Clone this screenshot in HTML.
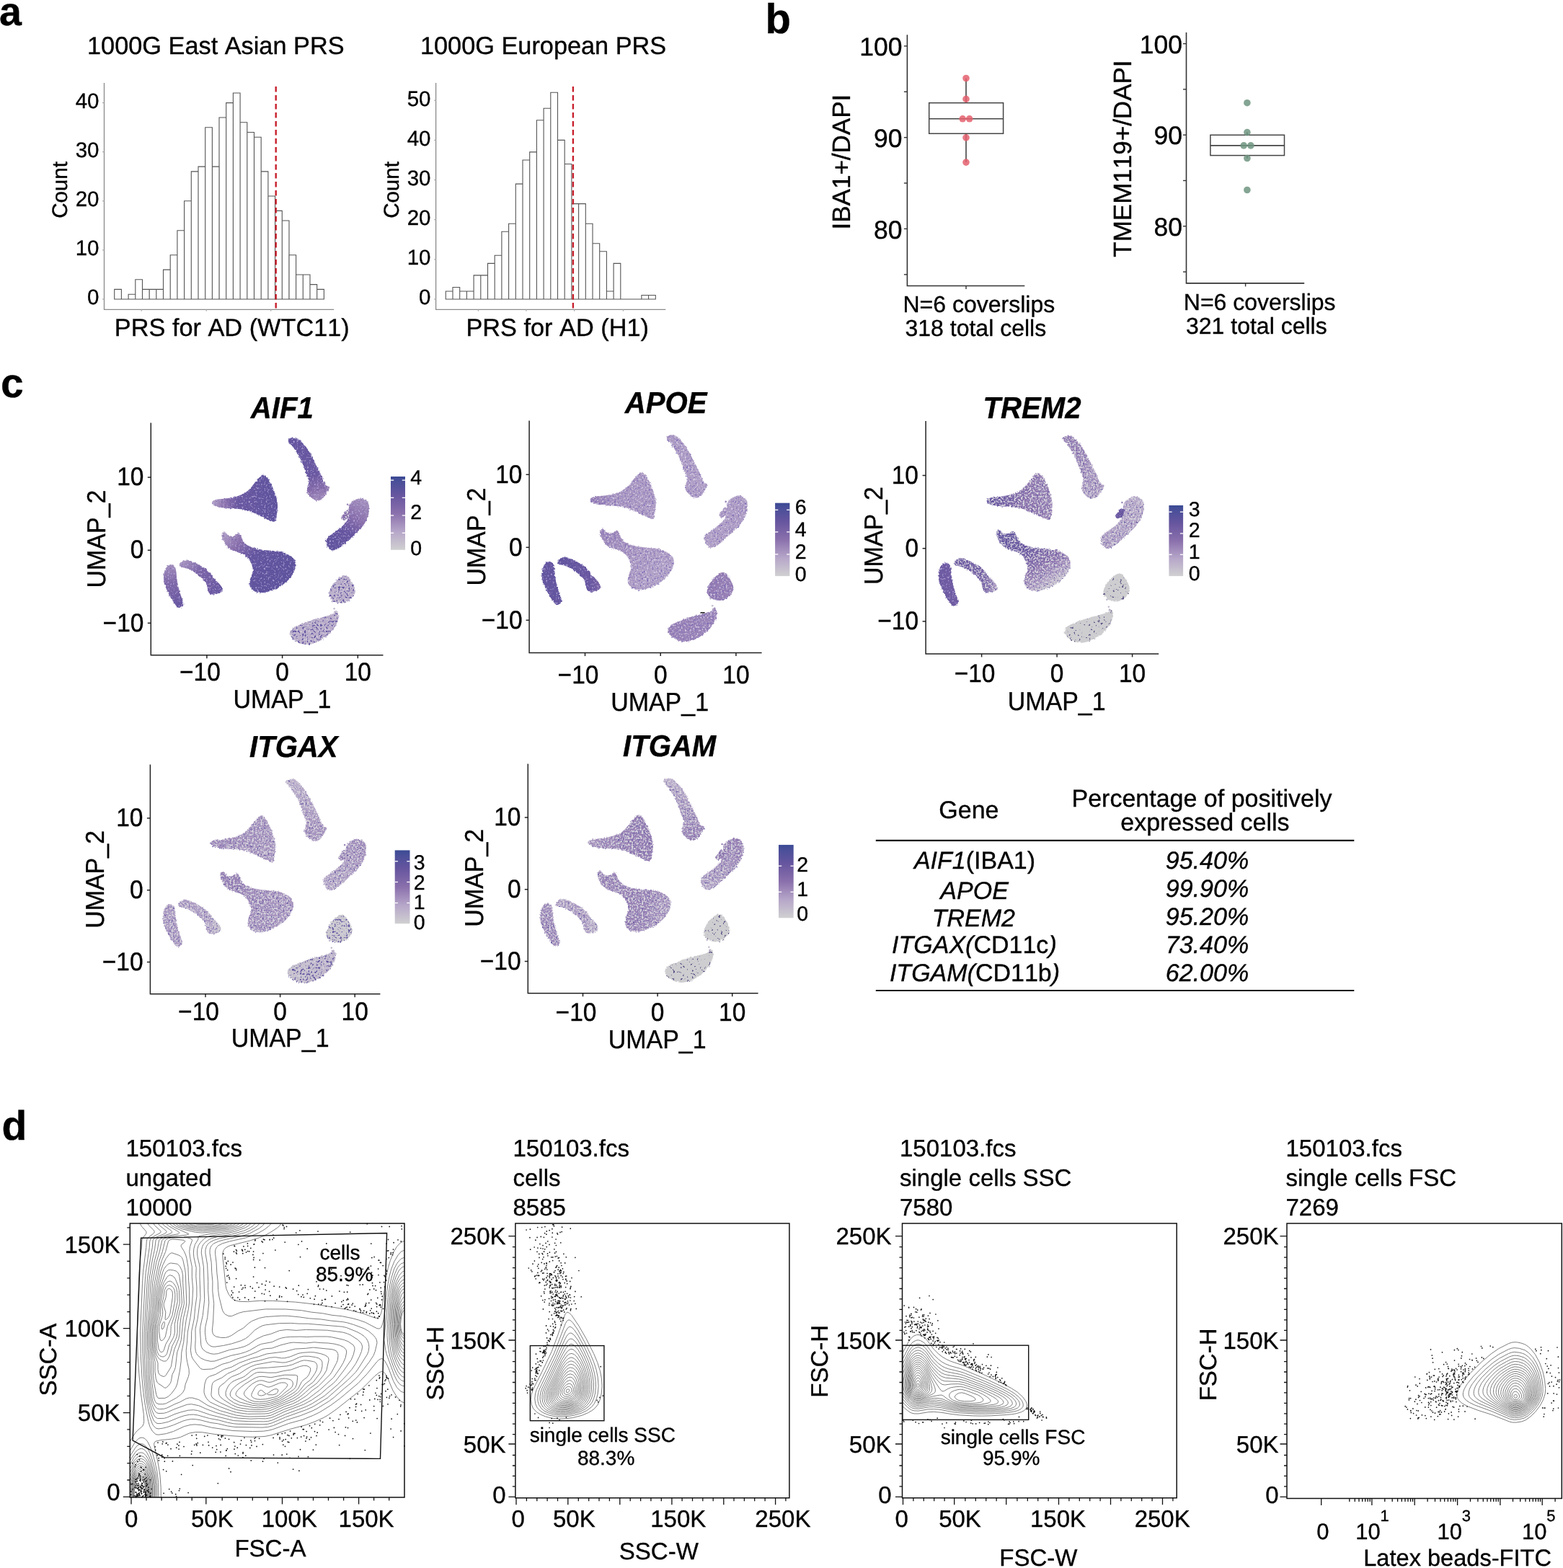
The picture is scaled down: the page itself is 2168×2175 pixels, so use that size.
<!DOCTYPE html>
<html lang="en"><head><meta charset="utf-8"><title>Figure</title>
<style>html,body{margin:0;padding:0;background:#fff}svg{display:block}text{font-family:"Liberation Sans", sans-serif;font-kerning:none;text-rendering:geometricPrecision;stroke:#000;stroke-width:.35px}</style>
</head><body>
<svg width="2168" height="2175" viewBox="0 0 2168 2175">
<defs><filter id="txD" x="-15%" y="-15%" width="130%" height="130%" color-interpolation-filters="sRGB"><feTurbulence type="fractalNoise" baseFrequency="0.42" numOctaves="2" seed="3" result="n"/><feDisplacementMap in="SourceGraphic" in2="n" scale="3.6" xChannelSelector="R" yChannelSelector="G" result="d"/><feColorMatrix in="n" type="matrix" values="0 0 0 0 0.72  0 0 0 0 0.67  0 0 0 0 0.86  0 0 4.0 0 -2.25" result="w"/><feComposite in="w" in2="d" operator="in" result="wi"/><feColorMatrix in="n" type="matrix" values="0 0 0 0 0.38  0 0 0 0 0.33  0 0 0 0 0.63  0 -3.0 0 0 1.15" result="k"/><feComposite in="k" in2="d" operator="in" result="ki"/><feMerge><feMergeNode in="d"/><feMergeNode in="wi"/><feMergeNode in="ki"/></feMerge></filter><filter id="txM" x="-15%" y="-15%" width="130%" height="130%" color-interpolation-filters="sRGB"><feTurbulence type="fractalNoise" baseFrequency="0.42" numOctaves="2" seed="5" result="n"/><feDisplacementMap in="SourceGraphic" in2="n" scale="3.6" xChannelSelector="R" yChannelSelector="G" result="d"/><feColorMatrix in="n" type="matrix" values="0 0 0 0 0.83  0 0 0 0 0.82  0 0 0 0 0.86  0 0 6.0 0 -2.75" result="w"/><feComposite in="w" in2="d" operator="in" result="wi"/><feColorMatrix in="n" type="matrix" values="0 0 0 0 0.38  0 0 0 0 0.33  0 0 0 0 0.63  0 -5.0 0 0 2.0" result="k"/><feComposite in="k" in2="d" operator="in" result="ki"/><feMerge><feMergeNode in="d"/><feMergeNode in="wi"/><feMergeNode in="ki"/></feMerge></filter><filter id="txL" x="-15%" y="-15%" width="130%" height="130%" color-interpolation-filters="sRGB"><feTurbulence type="fractalNoise" baseFrequency="0.42" numOctaves="2" seed="7" result="n"/><feDisplacementMap in="SourceGraphic" in2="n" scale="3.6" xChannelSelector="R" yChannelSelector="G" result="d"/><feColorMatrix in="n" type="matrix" values="0 0 0 0 0.86  0 0 0 0 0.84  0 0 0 0 0.92  0 0 4.0 0 -2.1" result="w"/><feComposite in="w" in2="d" operator="in" result="wi"/><feColorMatrix in="n" type="matrix" values="0 0 0 0 0.5  0 0 0 0 0.43  0 0 0 0 0.72  0 -5.0 0 0 2.2" result="k"/><feComposite in="k" in2="d" operator="in" result="ki"/><feMerge><feMergeNode in="d"/><feMergeNode in="wi"/><feMergeNode in="ki"/></feMerge></filter><filter id="txG" x="-15%" y="-15%" width="130%" height="130%" color-interpolation-filters="sRGB"><feTurbulence type="fractalNoise" baseFrequency="0.3" numOctaves="2" seed="8" result="n"/><feDisplacementMap in="SourceGraphic" in2="n" scale="3.6" xChannelSelector="R" yChannelSelector="G" result="d"/><feColorMatrix in="n" type="matrix" values="0 0 0 0 0.86  0 0 0 0 0.84  0 0 0 0 0.92  0 0 0 0 -1" result="w"/><feComposite in="w" in2="d" operator="in" result="wi"/><feColorMatrix in="n" type="matrix" values="0 0 0 0 0.35  0 0 0 0 0.33  0 0 0 0 0.52  0 -12.0 0 0 4.3" result="k"/><feComposite in="k" in2="d" operator="in" result="ki"/><feMerge><feMergeNode in="d"/><feMergeNode in="wi"/><feMergeNode in="ki"/></feMerge></filter><filter id="txH" x="-15%" y="-15%" width="130%" height="130%" color-interpolation-filters="sRGB"><feTurbulence type="fractalNoise" baseFrequency="0.36" numOctaves="2" seed="11" result="n"/><feDisplacementMap in="SourceGraphic" in2="n" scale="3.6" xChannelSelector="R" yChannelSelector="G" result="d"/><feColorMatrix in="n" type="matrix" values="0 0 0 0 0.83  0 0 0 0 0.82  0 0 0 0 0.86  0 0 4.0 0 -2.0" result="w"/><feComposite in="w" in2="d" operator="in" result="wi"/><feColorMatrix in="n" type="matrix" values="0 0 0 0 0.38  0 0 0 0 0.33  0 0 0 0 0.63  0 -8.0 0 0 3.5" result="k"/><feComposite in="k" in2="d" operator="in" result="ki"/><feMerge><feMergeNode in="d"/><feMergeNode in="wi"/><feMergeNode in="ki"/></feMerge></filter><linearGradient id="g1" gradientUnits="userSpaceOnUse" x1="417.7" y1="608.2" x2="439.6" y2="693.3"><stop offset="0" stop-color="#64559f"/><stop offset="0.6" stop-color="#6a58a1"/><stop offset="0.85" stop-color="#8a70ac"/><stop offset="1" stop-color="#a38ebc"/></linearGradient><linearGradient id="g2" gradientUnits="userSpaceOnUse" x1="295.3" y1="691.3" x2="383.9" y2="691.3"><stop offset="0" stop-color="#b1a0c6"/><stop offset="0.18" stop-color="#8e74ae"/><stop offset="0.4" stop-color="#6a58a1"/><stop offset="1" stop-color="#5e539d"/></linearGradient><linearGradient id="g3" gradientUnits="userSpaceOnUse" x1="505.3" y1="692.6" x2="459.1" y2="762.2"><stop offset="0" stop-color="#a693bf"/><stop offset="0.35" stop-color="#8a70ac"/><stop offset="0.6" stop-color="#6756a0"/><stop offset="1" stop-color="#61549e"/></linearGradient><linearGradient id="g4" gradientUnits="userSpaceOnUse" x1="309.1" y1="738.9" x2="388.9" y2="805.0"><stop offset="0" stop-color="#b1a0c6"/><stop offset="0.25" stop-color="#8a70ac"/><stop offset="0.5" stop-color="#64559f"/><stop offset="1" stop-color="#5e539d"/></linearGradient><linearGradient id="g5" gradientUnits="userSpaceOnUse" x1="235.7" y1="783.9" x2="243.1" y2="841.8"><stop offset="0" stop-color="#a38ebc"/><stop offset="0.4" stop-color="#816aa9"/><stop offset="1" stop-color="#6756a0"/></linearGradient><linearGradient id="g6" gradientUnits="userSpaceOnUse" x1="250.3" y1="777.7" x2="307.2" y2="823.6"><stop offset="0" stop-color="#ad9bc3"/><stop offset="0.4" stop-color="#7c65a7"/><stop offset="1" stop-color="#6756a0"/></linearGradient><linearGradient id="g7" gradientUnits="userSpaceOnUse" x1="474.0" y1="714.5" x2="483.9" y2="714.5"><stop offset="0" stop-color="#8a70ac"/><stop offset="1" stop-color="#8a70ac"/></linearGradient><linearGradient id="g8" gradientUnits="userSpaceOnUse" x1="457.4" y1="817.3" x2="491.6" y2="817.3"><stop offset="0" stop-color="#bbaecb"/><stop offset="1" stop-color="#bbaecb"/></linearGradient><linearGradient id="g9" gradientUnits="userSpaceOnUse" x1="403.0" y1="870.4" x2="468.3" y2="870.4"><stop offset="0" stop-color="#bbaecb"/><stop offset="1" stop-color="#b9abca"/></linearGradient><linearGradient id="g10" x1="0" y1="0" x2="0" y2="1"><stop offset="0.00" stop-color="#3a4a94"/><stop offset="0.07" stop-color="#4a4f99"/><stop offset="0.25" stop-color="#66559f"/><stop offset="0.50" stop-color="#8a70ac"/><stop offset="0.75" stop-color="#b6a6c9"/><stop offset="1.00" stop-color="#d0d0d1"/></linearGradient><linearGradient id="g11" gradientUnits="userSpaceOnUse" x1="925.8" y1="647.0" x2="980.6" y2="647.0"><stop offset="0" stop-color="#ad9bc3"/><stop offset="1" stop-color="#b1a0c6"/></linearGradient><linearGradient id="g12" gradientUnits="userSpaceOnUse" x1="819.9" y1="687.5" x2="908.5" y2="687.5"><stop offset="0" stop-color="#9179b1"/><stop offset="0.3" stop-color="#a895c0"/><stop offset="1" stop-color="#ad9bc3"/></linearGradient><linearGradient id="g13" gradientUnits="userSpaceOnUse" x1="977.9" y1="723.5" x2="1035.6" y2="723.5"><stop offset="0" stop-color="#b1a0c6"/><stop offset="1" stop-color="#ad9bc3"/></linearGradient><linearGradient id="g14" gradientUnits="userSpaceOnUse" x1="833.7" y1="735.0" x2="913.5" y2="801.0"><stop offset="0" stop-color="#9c86b8"/><stop offset="0.5" stop-color="#aa97c1"/><stop offset="1" stop-color="#b2a2c7"/></linearGradient><linearGradient id="g15" gradientUnits="userSpaceOnUse" x1="752.8" y1="808.9" x2="777.6" y2="808.9"><stop offset="0" stop-color="#64559f"/><stop offset="1" stop-color="#64559f"/></linearGradient><linearGradient id="g16" gradientUnits="userSpaceOnUse" x1="774.9" y1="796.7" x2="831.8" y2="796.7"><stop offset="0" stop-color="#61549e"/><stop offset="0.8" stop-color="#6a58a1"/><stop offset="1" stop-color="#7c65a7"/></linearGradient><linearGradient id="g17" gradientUnits="userSpaceOnUse" x1="998.6" y1="710.7" x2="1008.5" y2="710.7"><stop offset="0" stop-color="#ad9bc3"/><stop offset="1" stop-color="#ad9bc3"/></linearGradient><linearGradient id="g18" gradientUnits="userSpaceOnUse" x1="982.0" y1="813.3" x2="1016.2" y2="813.3"><stop offset="0" stop-color="#9179b1"/><stop offset="1" stop-color="#9881b5"/></linearGradient><linearGradient id="g19" gradientUnits="userSpaceOnUse" x1="927.6" y1="866.4" x2="992.9" y2="866.4"><stop offset="0" stop-color="#9881b5"/><stop offset="1" stop-color="#9c86b8"/></linearGradient><linearGradient id="g20" x1="0" y1="0" x2="0" y2="1"><stop offset="0.00" stop-color="#3a4a94"/><stop offset="0.07" stop-color="#4a4f99"/><stop offset="0.25" stop-color="#66559f"/><stop offset="0.50" stop-color="#8a70ac"/><stop offset="0.75" stop-color="#b6a6c9"/><stop offset="1.00" stop-color="#d0d0d1"/></linearGradient><linearGradient id="g21" gradientUnits="userSpaceOnUse" x1="1492.1" y1="605.6" x2="1514.0" y2="690.8"><stop offset="0" stop-color="#957db3"/><stop offset="1" stop-color="#ad9bc3"/></linearGradient><linearGradient id="g22" gradientUnits="userSpaceOnUse" x1="1370.0" y1="688.7" x2="1458.5" y2="688.7"><stop offset="0" stop-color="#6756a0"/><stop offset="0.3" stop-color="#735fa4"/><stop offset="0.55" stop-color="#8a70ac"/><stop offset="1" stop-color="#9881b5"/></linearGradient><linearGradient id="g23" gradientUnits="userSpaceOnUse" x1="1579.6" y1="690.1" x2="1533.5" y2="759.7"><stop offset="0" stop-color="#b7a8c9"/><stop offset="1" stop-color="#ad9bc3"/></linearGradient><linearGradient id="g24" gradientUnits="userSpaceOnUse" x1="1393.7" y1="736.4" x2="1443.5" y2="819.1"><stop offset="0" stop-color="#64559f"/><stop offset="0.4" stop-color="#6d5aa2"/><stop offset="0.7" stop-color="#8e74ae"/><stop offset="0.9" stop-color="#ad9bc3"/><stop offset="1" stop-color="#c4bccd"/></linearGradient><linearGradient id="g25" gradientUnits="userSpaceOnUse" x1="1303.1" y1="810.4" x2="1327.7" y2="810.4"><stop offset="0" stop-color="#6d5aa2"/><stop offset="1" stop-color="#705da3"/></linearGradient><linearGradient id="g26" gradientUnits="userSpaceOnUse" x1="1325.1" y1="798.2" x2="1381.8" y2="798.2"><stop offset="0" stop-color="#6d5aa2"/><stop offset="0.7" stop-color="#7661a5"/><stop offset="1" stop-color="#ad9bc3"/></linearGradient><linearGradient id="g27" gradientUnits="userSpaceOnUse" x1="1548.3" y1="712.0" x2="1558.2" y2="712.0"><stop offset="0" stop-color="#6a58a1"/><stop offset="1" stop-color="#6a58a1"/></linearGradient><linearGradient id="g28" gradientUnits="userSpaceOnUse" x1="1531.8" y1="814.8" x2="1565.9" y2="814.8"><stop offset="0" stop-color="#cecdd0"/><stop offset="1" stop-color="#cecdd0"/></linearGradient><linearGradient id="g29" gradientUnits="userSpaceOnUse" x1="1477.5" y1="868.0" x2="1542.7" y2="868.0"><stop offset="0" stop-color="#cecdd0"/><stop offset="1" stop-color="#cecdd0"/></linearGradient><linearGradient id="g30" x1="0" y1="0" x2="0" y2="1"><stop offset="0.00" stop-color="#3a4a94"/><stop offset="0.07" stop-color="#4a4f99"/><stop offset="0.25" stop-color="#66559f"/><stop offset="0.50" stop-color="#8a70ac"/><stop offset="0.75" stop-color="#b6a6c9"/><stop offset="1.00" stop-color="#d0d0d1"/></linearGradient><linearGradient id="g31" gradientUnits="userSpaceOnUse" x1="414.4" y1="1081.7" x2="436.0" y2="1165.7"><stop offset="0" stop-color="#bbaecb"/><stop offset="1" stop-color="#a38ebc"/></linearGradient><linearGradient id="g32" gradientUnits="userSpaceOnUse" x1="293.3" y1="1163.7" x2="381.0" y2="1163.7"><stop offset="0" stop-color="#9c86b8"/><stop offset="1" stop-color="#aa97c1"/></linearGradient><linearGradient id="g33" gradientUnits="userSpaceOnUse" x1="501.1" y1="1165.0" x2="455.4" y2="1233.7"><stop offset="0" stop-color="#a38ebc"/><stop offset="1" stop-color="#b7a8c9"/></linearGradient><linearGradient id="g34" gradientUnits="userSpaceOnUse" x1="307.0" y1="1210.7" x2="385.9" y2="1275.9"><stop offset="0" stop-color="#957db3"/><stop offset="1" stop-color="#aa97c1"/></linearGradient><linearGradient id="g35" gradientUnits="userSpaceOnUse" x1="227.0" y1="1283.7" x2="251.4" y2="1283.7"><stop offset="0" stop-color="#ad9bc3"/><stop offset="1" stop-color="#aa97c1"/></linearGradient><linearGradient id="g36" gradientUnits="userSpaceOnUse" x1="248.8" y1="1271.7" x2="305.0" y2="1271.7"><stop offset="0" stop-color="#aa97c1"/><stop offset="0.7" stop-color="#b1a0c6"/><stop offset="1" stop-color="#c6bfce"/></linearGradient><linearGradient id="g37" gradientUnits="userSpaceOnUse" x1="470.1" y1="1186.6" x2="479.9" y2="1186.6"><stop offset="0" stop-color="#9c86b8"/><stop offset="1" stop-color="#9c86b8"/></linearGradient><linearGradient id="g38" gradientUnits="userSpaceOnUse" x1="453.7" y1="1288.1" x2="487.6" y2="1288.1"><stop offset="0" stop-color="#cbc8cf"/><stop offset="1" stop-color="#cbc8cf"/></linearGradient><linearGradient id="g39" gradientUnits="userSpaceOnUse" x1="399.9" y1="1340.5" x2="464.5" y2="1340.5"><stop offset="0" stop-color="#c8c3ce"/><stop offset="1" stop-color="#bfb5cc"/></linearGradient><linearGradient id="g40" x1="0" y1="0" x2="0" y2="1"><stop offset="0.00" stop-color="#3a4a94"/><stop offset="0.07" stop-color="#4a4f99"/><stop offset="0.25" stop-color="#66559f"/><stop offset="0.50" stop-color="#8a70ac"/><stop offset="0.75" stop-color="#b6a6c9"/><stop offset="1.00" stop-color="#d0d0d1"/></linearGradient><linearGradient id="g41" gradientUnits="userSpaceOnUse" x1="937.9" y1="1080.7" x2="959.5" y2="1164.7"><stop offset="0" stop-color="#bbaecb"/><stop offset="1" stop-color="#9881b5"/></linearGradient><linearGradient id="g42" gradientUnits="userSpaceOnUse" x1="816.8" y1="1162.7" x2="904.5" y2="1162.7"><stop offset="0" stop-color="#a38ebc"/><stop offset="1" stop-color="#9179b1"/></linearGradient><linearGradient id="g43" gradientUnits="userSpaceOnUse" x1="1024.6" y1="1164.0" x2="978.9" y2="1232.7"><stop offset="0" stop-color="#957db3"/><stop offset="1" stop-color="#b4a4c8"/></linearGradient><linearGradient id="g44" gradientUnits="userSpaceOnUse" x1="830.5" y1="1234.2" x2="929.2" y2="1258.6"><stop offset="0" stop-color="#9c86b8"/><stop offset="0.6" stop-color="#9881b5"/><stop offset="1" stop-color="#ad9bc3"/></linearGradient><linearGradient id="g45" gradientUnits="userSpaceOnUse" x1="750.5" y1="1282.7" x2="774.9" y2="1282.7"><stop offset="0" stop-color="#9f8aba"/><stop offset="1" stop-color="#a38ebc"/></linearGradient><linearGradient id="g46" gradientUnits="userSpaceOnUse" x1="772.3" y1="1270.7" x2="828.5" y2="1270.7"><stop offset="0" stop-color="#ad9bc3"/><stop offset="0.7" stop-color="#ad9bc3"/><stop offset="1" stop-color="#c1b8cd"/></linearGradient><linearGradient id="g47" gradientUnits="userSpaceOnUse" x1="993.6" y1="1185.6" x2="1003.4" y2="1185.6"><stop offset="0" stop-color="#937bb2"/><stop offset="1" stop-color="#937bb2"/></linearGradient><linearGradient id="g48" gradientUnits="userSpaceOnUse" x1="977.2" y1="1287.1" x2="1011.1" y2="1287.1"><stop offset="0" stop-color="#cecdd0"/><stop offset="1" stop-color="#cecdd0"/></linearGradient><linearGradient id="g49" gradientUnits="userSpaceOnUse" x1="923.4" y1="1339.5" x2="988.0" y2="1339.5"><stop offset="0" stop-color="#cecdd0"/><stop offset="1" stop-color="#cecdd0"/></linearGradient><linearGradient id="g50" x1="0" y1="0" x2="0" y2="1"><stop offset="0.00" stop-color="#3a4a94"/><stop offset="0.07" stop-color="#4a4f99"/><stop offset="0.25" stop-color="#66559f"/><stop offset="0.50" stop-color="#8a70ac"/><stop offset="0.75" stop-color="#b6a6c9"/><stop offset="1.00" stop-color="#d0d0d1"/></linearGradient></defs>
<rect width="2168" height="2175" fill="#fff"/>
<text x="-1.0" y="35.0" font-size="55.5" font-weight="bold">a</text>
<path d="M158.7 415.0v-13.6h9.69v13.6zM168.4 415.0h9.69M178.1 415.0v-6.8h9.69v6.8zM187.8 415.0v-27.2h9.69v27.2zM197.5 415.0v-13.6h9.69v13.6zM207.1 415.0v-13.6h9.69v13.6zM216.8 415.0v-13.6h9.69v13.6zM226.5 415.0v-40.9h9.69v40.9zM236.2 415.0v-61.3h9.69v61.3zM245.9 415.0v-95.3h9.69v95.3zM255.6 415.0v-136.2h9.69v136.2zM265.3 415.0v-177.1h9.69v177.1zM275.0 415.0v-183.9h9.69v183.9zM284.7 415.0v-238.3h9.69v238.3zM294.4 415.0v-183.9h9.69v183.9zM304.0 415.0v-252.0h9.69v252.0zM313.7 415.0v-272.4h9.69v272.4zM323.4 415.0v-286.0h9.69v286.0zM333.1 415.0v-245.2h9.69v245.2zM342.8 415.0v-231.5h9.69v231.5zM352.5 415.0v-224.7h9.69v224.7zM362.2 415.0v-177.1h9.69v177.1zM371.9 415.0v-143.0h9.69v143.0zM381.6 415.0v-122.6h9.69v122.6zM391.3 415.0v-109.0h9.69v109.0zM400.9 415.0v-61.3h9.69v61.3zM410.6 415.0v-34.0h9.69v34.0zM420.3 415.0v-34.0h9.69v34.0zM430.0 415.0v-20.4h9.69v20.4zM439.7 415.0v-13.6h9.69v13.6z" stroke="#555" stroke-width="1.1" fill="none"/>
<path d="M144.5 115.0V429.3H463.2" stroke="#8a8a8a" stroke-width="1.3" fill="none"/>
<line x1="142.0" y1="415.0" x2="144.5" y2="415.0" stroke="#aaa" stroke-width="1.2"/>
<text x="137.5" y="422.4" font-size="29.5" text-anchor="end">0</text>
<line x1="142.0" y1="346.9" x2="144.5" y2="346.9" stroke="#aaa" stroke-width="1.2"/>
<text x="137.5" y="354.3" font-size="29.5" text-anchor="end">10</text>
<line x1="142.0" y1="278.8" x2="144.5" y2="278.8" stroke="#aaa" stroke-width="1.2"/>
<text x="137.5" y="286.2" font-size="29.5" text-anchor="end">20</text>
<line x1="142.0" y1="210.7" x2="144.5" y2="210.7" stroke="#aaa" stroke-width="1.2"/>
<text x="137.5" y="218.1" font-size="29.5" text-anchor="end">30</text>
<line x1="142.0" y1="142.6" x2="144.5" y2="142.6" stroke="#aaa" stroke-width="1.2"/>
<text x="137.5" y="150.0" font-size="29.5" text-anchor="end">40</text>
<line x1="196.2" y1="429.3" x2="196.2" y2="431.8" stroke="#aaa" stroke-width="1.2"/>
<line x1="286.2" y1="429.3" x2="286.2" y2="431.8" stroke="#aaa" stroke-width="1.2"/>
<line x1="375.7" y1="429.3" x2="375.7" y2="431.8" stroke="#aaa" stroke-width="1.2"/>
<line x1="382.7" y1="120.0" x2="382.7" y2="429.3" stroke="#c8202c" stroke-width="2.4" stroke-dasharray="7.5 4.5"/>
<text x="299.3" y="75.0" font-size="34.3" text-anchor="middle">1000G East Asian PRS</text>
<text x="321.8" y="465.8" font-size="34.3" text-anchor="middle">PRS for AD (WTC11)</text>
<text transform="translate(93.3 263.5) rotate(-90)" font-size="29.5" text-anchor="middle">Count</text>
<path d="M618.3 415.0v-11.0h9.70v11.0zM628.0 415.0v-16.5h9.70v16.5zM637.7 415.0v-11.0h9.70v11.0zM647.4 415.0v-11.0h9.70v11.0zM657.1 415.0v-33.1h9.70v33.1zM666.8 415.0v-33.1h9.70v33.1zM676.5 415.0v-49.6h9.70v49.6zM686.2 415.0v-60.7h9.70v60.7zM695.9 415.0v-93.8h9.70v93.8zM705.6 415.0v-104.8h9.70v104.8zM715.3 415.0v-159.9h9.70v159.9zM725.0 415.0v-193.0h9.70v193.0zM734.7 415.0v-204.1h9.70v204.1zM744.4 415.0v-248.2h9.70v248.2zM754.1 415.0v-264.7h9.70v264.7zM763.8 415.0v-286.8h9.70v286.8zM773.5 415.0v-220.6h9.70v220.6zM783.2 415.0v-187.5h9.70v187.5zM792.9 415.0v-132.4h9.70v132.4zM802.6 415.0v-132.4h9.70v132.4zM812.3 415.0v-104.8h9.70v104.8zM822.0 415.0v-77.2h9.70v77.2zM831.7 415.0v-66.2h9.70v66.2zM841.4 415.0v-11.0h9.70v11.0zM851.1 415.0v-49.6h9.70v49.6zM860.8 415.0h9.70M870.5 415.0h9.70M880.2 415.0h9.70M889.9 415.0v-5.5h9.70v5.5zM899.6 415.0v-5.5h9.70v5.5z" stroke="#555" stroke-width="1.1" fill="none"/>
<path d="M604.6 115.0V429.3H923.3" stroke="#8a8a8a" stroke-width="1.3" fill="none"/>
<line x1="602.1" y1="415.0" x2="604.6" y2="415.0" stroke="#aaa" stroke-width="1.2"/>
<text x="597.5" y="422.4" font-size="29.5" text-anchor="end">0</text>
<line x1="602.1" y1="359.9" x2="604.6" y2="359.9" stroke="#aaa" stroke-width="1.2"/>
<text x="597.5" y="367.2" font-size="29.5" text-anchor="end">10</text>
<line x1="602.1" y1="304.7" x2="604.6" y2="304.7" stroke="#aaa" stroke-width="1.2"/>
<text x="597.5" y="312.1" font-size="29.5" text-anchor="end">20</text>
<line x1="602.1" y1="249.6" x2="604.6" y2="249.6" stroke="#aaa" stroke-width="1.2"/>
<text x="597.5" y="256.9" font-size="29.5" text-anchor="end">30</text>
<line x1="602.1" y1="194.4" x2="604.6" y2="194.4" stroke="#aaa" stroke-width="1.2"/>
<text x="597.5" y="201.8" font-size="29.5" text-anchor="end">40</text>
<line x1="602.1" y1="139.2" x2="604.6" y2="139.2" stroke="#aaa" stroke-width="1.2"/>
<text x="597.5" y="146.7" font-size="29.5" text-anchor="end">50</text>
<line x1="663.4" y1="429.3" x2="663.4" y2="431.8" stroke="#aaa" stroke-width="1.2"/>
<line x1="729.9" y1="429.3" x2="729.9" y2="431.8" stroke="#aaa" stroke-width="1.2"/>
<line x1="796.6" y1="429.3" x2="796.6" y2="431.8" stroke="#aaa" stroke-width="1.2"/>
<line x1="864.4" y1="429.3" x2="864.4" y2="431.8" stroke="#aaa" stroke-width="1.2"/>
<line x1="794.9" y1="120.0" x2="794.9" y2="429.3" stroke="#c8202c" stroke-width="2.4" stroke-dasharray="7.5 4.5"/>
<text x="753.6" y="75.0" font-size="34.3" text-anchor="middle">1000G European PRS</text>
<text x="773.2" y="465.8" font-size="34.3" text-anchor="middle">PRS for AD (H1)</text>
<text transform="translate(553.3 263.5) rotate(-90)" font-size="29.5" text-anchor="middle">Count</text>
<text x="1061.5" y="46.3" font-size="58" font-weight="bold">b</text>
<path d="M1258.4 48.2V396.5H1421.3" stroke="#333" stroke-width="1.6" fill="none"/>
<line x1="1253.9" y1="63.9" x2="1258.4" y2="63.9" stroke="#333" stroke-width="1.4"/>
<text x="1251.5" y="77.1" font-size="35.5" text-anchor="end">100</text>
<line x1="1253.9" y1="127.3" x2="1258.4" y2="127.3" stroke="#333" stroke-width="1.4"/>
<line x1="1253.9" y1="190.7" x2="1258.4" y2="190.7" stroke="#333" stroke-width="1.4"/>
<text x="1251.5" y="203.9" font-size="35.5" text-anchor="end">90</text>
<line x1="1253.9" y1="254.0" x2="1258.4" y2="254.0" stroke="#333" stroke-width="1.4"/>
<line x1="1253.9" y1="317.4" x2="1258.4" y2="317.4" stroke="#333" stroke-width="1.4"/>
<text x="1251.5" y="330.6" font-size="35.5" text-anchor="end">80</text>
<line x1="1253.9" y1="380.8" x2="1258.4" y2="380.8" stroke="#333" stroke-width="1.4"/>
<line x1="1340.0" y1="396.5" x2="1340.0" y2="401.0" stroke="#333" stroke-width="1.4"/>
<line x1="1340.0" y1="108.5" x2="1340.0" y2="225.1" stroke="#444" stroke-width="1.6"/>
<rect x="1288.7" y="142.7" width="102.9" height="42.6" fill="#fff" stroke="#444" stroke-width="1.5"/>
<line x1="1288.7" y1="164.8" x2="1391.6" y2="164.8" stroke="#444" stroke-width="1.6"/>
<circle cx="1340.0" cy="108.5" r="4.8" fill="#e4606d" fill-opacity="0.85"/>
<circle cx="1340.0" cy="137.4" r="4.8" fill="#e4606d" fill-opacity="0.85"/>
<circle cx="1335.2" cy="164.8" r="4.8" fill="#e4606d" fill-opacity="0.85"/>
<circle cx="1344.7" cy="164.8" r="4.8" fill="#e4606d" fill-opacity="0.85"/>
<circle cx="1340.0" cy="190.9" r="4.8" fill="#e4606d" fill-opacity="0.85"/>
<circle cx="1340.0" cy="225.1" r="4.8" fill="#e4606d" fill-opacity="0.85"/>
<text transform="translate(1179.3 224.6) rotate(-90)" font-size="35" text-anchor="middle">IBA1+/DAPI</text>
<text x="1252.5" y="433.3" font-size="32">N=6 coverslips</text>
<text x="1255.5" y="466.3" font-size="32">318 total cells</text>
<path d="M1645.5 44.9V392.9H1809.2" stroke="#333" stroke-width="1.6" fill="none"/>
<line x1="1641.0" y1="60.6" x2="1645.5" y2="60.6" stroke="#333" stroke-width="1.4"/>
<text x="1640.0" y="73.8" font-size="35.5" text-anchor="end">100</text>
<line x1="1641.0" y1="123.9" x2="1645.5" y2="123.9" stroke="#333" stroke-width="1.4"/>
<line x1="1641.0" y1="187.2" x2="1645.5" y2="187.2" stroke="#333" stroke-width="1.4"/>
<text x="1640.0" y="200.4" font-size="35.5" text-anchor="end">90</text>
<line x1="1641.0" y1="250.5" x2="1645.5" y2="250.5" stroke="#333" stroke-width="1.4"/>
<line x1="1641.0" y1="313.8" x2="1645.5" y2="313.8" stroke="#333" stroke-width="1.4"/>
<text x="1640.0" y="327.0" font-size="35.5" text-anchor="end">80</text>
<line x1="1641.0" y1="377.1" x2="1645.5" y2="377.1" stroke="#333" stroke-width="1.4"/>
<line x1="1727.6" y1="392.9" x2="1727.6" y2="397.4" stroke="#333" stroke-width="1.4"/>
<line x1="1729.9" y1="183.6" x2="1729.9" y2="219.5" stroke="#444" stroke-width="1.6"/>
<rect x="1678.9" y="187.3" width="102.6" height="28.3" fill="#fff" stroke="#444" stroke-width="1.5"/>
<line x1="1678.9" y1="201.9" x2="1781.5" y2="201.9" stroke="#444" stroke-width="1.6"/>
<circle cx="1729.9" cy="142.7" r="4.8" fill="#6f9580" fill-opacity="0.85"/>
<circle cx="1729.9" cy="183.6" r="4.8" fill="#6f9580" fill-opacity="0.85"/>
<circle cx="1725.2" cy="201.9" r="4.8" fill="#6f9580" fill-opacity="0.85"/>
<circle cx="1734.9" cy="201.9" r="4.8" fill="#6f9580" fill-opacity="0.85"/>
<circle cx="1729.9" cy="219.5" r="4.8" fill="#6f9580" fill-opacity="0.85"/>
<circle cx="1729.9" cy="263.5" r="4.8" fill="#6f9580" fill-opacity="0.85"/>
<text transform="translate(1568.7 220.1) rotate(-90)" font-size="35" text-anchor="middle">TMEM119+/DAPI</text>
<text x="1641.8" y="430.4" font-size="32">N=6 coverslips</text>
<text x="1645.0" y="463.3" font-size="32">321 total cells</text>
<text x="1.0" y="551.4" font-size="57" font-weight="bold">c</text>
<path d="M401.2 610.0C401.8 609.3 405.1 608.4 406.5 608.2C408.0 608.1 410.2 608.2 411.8 609.1C413.5 610.1 417.0 613.3 418.9 615.3C420.8 617.3 424.1 621.3 426.0 624.1C427.8 627.0 431.3 633.2 433.0 636.5C434.8 639.8 437.7 645.8 439.2 648.8C440.7 651.9 443.2 656.6 444.5 659.4C445.8 662.3 447.9 667.9 448.9 670.0C450.0 672.1 451.5 674.5 452.4 675.3C453.4 676.2 455.7 675.7 456.0 676.2C456.2 676.7 454.8 678.2 454.2 679.2C453.6 680.3 452.5 682.7 451.6 684.2C450.6 685.6 448.6 689.1 447.1 690.3C445.7 691.6 442.6 693.2 441.0 693.3C439.3 693.5 436.3 692.2 434.8 691.2C433.3 690.2 430.6 687.3 429.5 685.9C428.4 684.5 427.0 682.3 426.8 680.6C426.7 679.0 428.3 675.4 428.6 673.6C429.0 671.7 429.8 668.6 429.5 666.5C429.1 664.4 426.9 660.3 426.0 657.7C425.0 655.1 423.5 649.9 422.4 647.1C421.4 644.3 419.4 639.3 418.0 636.5C416.6 633.7 413.4 628.4 411.8 625.9C410.3 623.4 407.8 619.6 406.5 618.0C405.2 616.3 402.8 614.6 402.1 613.5C401.4 612.5 400.7 610.7 401.2 610.0z" fill="url(#g1)" stroke="url(#g1)" stroke-width="2.4" stroke-linejoin="round" filter="url(#txD)"/>
<path d="M295.3 696.5C295.8 695.9 297.0 694.9 298.9 694.4C300.7 693.9 306.6 693.4 309.4 693.0C312.3 692.6 317.2 692.1 320.0 691.6C322.9 691.1 327.8 690.1 330.6 689.1C333.5 688.1 338.9 685.6 341.2 684.2C343.6 682.7 346.4 680.0 348.3 678.0C350.2 676.0 353.7 671.1 355.3 669.1C357.0 667.1 359.5 664.2 360.6 663.0C361.8 661.7 363.2 660.2 364.2 660.0C365.1 659.7 366.6 660.3 367.7 661.2C368.8 662.1 370.9 664.6 372.1 666.5C373.3 668.4 375.5 673.0 376.5 675.3C377.6 677.7 379.2 681.8 380.1 684.2C380.9 686.5 382.2 690.6 382.7 693.0C383.2 695.3 383.9 699.5 383.9 701.8C384.0 704.2 383.5 708.3 383.2 710.6C383.0 713.0 382.3 717.9 381.8 719.5C381.4 721.1 380.8 722.4 380.1 722.6C379.4 722.9 377.9 721.8 376.5 721.2C375.1 720.7 371.8 719.6 369.5 718.6C367.1 717.5 361.7 714.6 358.9 713.3C356.1 711.9 351.1 709.5 348.3 708.5C345.5 707.5 340.5 706.2 337.7 705.7C334.9 705.1 329.9 704.7 327.1 704.5C324.3 704.2 319.3 704.2 316.5 703.9C313.7 703.7 308.3 703.1 305.9 702.7C303.6 702.3 300.2 701.5 298.9 700.9C297.5 700.4 296.2 699.2 295.7 698.6C295.2 698.0 294.9 697.1 295.3 696.5z" fill="url(#g2)" stroke="url(#g2)" stroke-width="2.4" stroke-linejoin="round" filter="url(#txD)"/>
<path d="M491.3 695.6C492.9 694.6 496.5 692.9 498.3 692.6C500.2 692.4 503.9 693.1 505.4 693.9C506.9 694.6 509.1 696.7 509.8 698.3C510.6 699.8 511.0 703.2 511.0 705.3C511.0 707.5 510.4 711.8 509.8 714.2C509.2 716.5 507.6 720.6 506.3 723.0C505.0 725.3 502.1 729.5 500.1 731.8C498.1 734.2 493.6 738.4 491.3 740.6C488.9 742.9 484.8 746.5 482.5 748.6C480.1 750.7 475.7 754.9 473.6 756.5C471.5 758.2 468.4 760.2 466.6 760.9C464.7 761.7 460.9 762.5 459.5 762.2C458.1 761.8 456.7 759.5 456.0 758.3C455.2 757.1 454.0 754.3 453.7 753.0C453.3 751.7 452.8 749.8 453.3 748.6C453.9 747.4 456.0 745.6 457.7 744.2C459.5 742.8 464.2 739.8 466.6 738.0C468.9 736.2 473.4 732.8 475.4 730.9C477.4 729.1 480.4 725.9 481.6 723.9C482.7 721.9 483.8 718.2 484.2 715.9C484.6 713.7 484.3 709.2 484.6 707.1C484.9 705.0 485.4 701.6 486.3 700.0C487.2 698.5 489.7 696.6 491.3 695.6z" fill="url(#g3)" stroke="url(#g3)" stroke-width="2.4" stroke-linejoin="round" filter="url(#txD)"/>
<path d="M309.1 739.8C309.4 738.8 311.3 738.5 312.1 738.9C312.9 739.2 313.5 741.6 314.7 742.4C316.0 743.2 320.2 744.9 321.8 745.1C323.5 745.2 325.9 743.9 327.1 743.3C328.3 742.7 329.8 740.5 330.6 740.6C331.5 740.8 332.6 742.9 333.3 744.2C334.0 745.5 334.9 748.7 335.9 750.4C337.0 752.0 339.3 755.1 341.2 756.5C343.1 757.9 347.2 760.0 350.1 760.9C352.9 761.9 358.9 763.1 362.4 763.6C365.9 764.1 373.0 764.7 376.5 765.0C380.1 765.4 385.8 765.5 388.9 766.2C391.9 767.0 397.1 769.4 399.5 770.7C401.8 771.9 405.3 774.5 406.5 776.0C407.8 777.4 408.6 779.6 408.8 781.2C409.1 782.9 408.8 786.3 408.3 788.3C407.8 790.3 406.2 794.0 404.8 796.3C403.4 798.5 400.1 802.8 397.7 805.1C395.4 807.3 390.2 811.2 387.1 813.0C384.1 814.8 378.1 817.5 374.8 818.7C371.5 819.8 365.2 821.4 362.4 821.5C359.6 821.6 355.5 820.2 353.6 819.2C351.7 818.2 349.1 815.4 348.3 813.9C347.5 812.4 347.3 809.5 347.4 807.7C347.5 806.0 348.5 802.8 349.2 800.7C349.8 798.5 351.9 794.0 352.2 791.8C352.4 789.7 351.6 786.8 350.9 784.8C350.3 782.8 348.7 778.8 347.4 776.8C346.1 774.8 343.0 771.2 341.2 769.8C339.5 768.4 336.3 767.1 334.2 766.2C332.0 765.4 327.6 764.5 325.3 763.6C323.1 762.7 319.2 760.7 317.4 759.2C315.6 757.6 313.2 753.9 312.1 752.1C311.0 750.4 309.8 747.6 309.4 745.9C309.0 744.3 308.7 740.7 309.1 739.8z" fill="url(#g4)" stroke="url(#g4)" stroke-width="2.4" stroke-linejoin="round" filter="url(#txD)"/>
<path d="M228.2 802.4C228.2 800.3 228.5 795.7 229.1 793.6C229.7 791.5 231.6 787.8 232.7 786.5C233.7 785.2 235.9 783.9 237.1 783.9C238.2 783.9 240.7 785.2 241.5 786.5C242.3 787.8 242.9 791.5 243.3 793.6C243.6 795.7 243.8 799.8 244.1 802.4C244.5 805.0 245.2 810.0 245.9 813.0C246.6 816.1 248.5 822.3 249.4 825.4C250.4 828.4 252.5 834.1 253.0 836.0C253.4 837.9 253.3 838.7 252.6 839.5C251.9 840.3 248.9 842.1 247.7 841.8C246.4 841.4 244.5 838.6 243.3 836.9C242.0 835.1 239.4 831.4 238.0 828.9C236.5 826.4 233.8 820.9 232.7 818.3C231.5 815.7 229.7 811.6 229.1 809.5C228.5 807.4 228.2 804.5 228.2 802.4z" fill="url(#g5)" stroke="url(#g5)" stroke-width="2.4" stroke-linejoin="round" filter="url(#txD)"/>
<path d="M250.3 783.0C250.7 782.2 252.7 780.2 253.8 779.5C255.0 778.8 257.4 777.6 259.1 777.7C260.9 777.8 264.8 779.4 267.1 780.4C269.3 781.3 273.7 783.6 275.9 784.8C278.1 786.0 281.9 787.7 283.9 789.2C285.9 790.7 289.3 794.4 290.9 796.3C292.6 798.1 294.7 801.5 296.2 803.3C297.7 805.1 301.0 808.0 302.4 809.5C303.8 811.0 305.8 813.5 306.4 814.8C307.1 816.1 307.7 818.2 307.2 819.2C306.6 820.2 304.0 821.6 302.4 822.2C300.8 822.8 296.9 823.7 295.3 823.6C293.8 823.6 291.7 822.8 290.9 821.8C290.1 820.9 289.6 818.2 289.1 816.6C288.7 814.9 288.4 811.5 287.4 809.5C286.3 807.5 283.2 803.5 281.2 801.5C279.2 799.5 274.7 796.1 272.4 794.5C270.0 792.8 265.8 790.2 263.6 789.2C261.3 788.1 257.3 787.0 255.6 786.5C254.0 786.1 251.9 786.1 251.2 785.7C250.5 785.2 250.0 783.8 250.3 783.0z" fill="url(#g6)" stroke="url(#g6)" stroke-width="2.4" stroke-linejoin="round" filter="url(#txD)"/>
<path d="M481.0 708.5C481.7 708.6 483.6 710.5 483.9 711.5C484.1 712.6 483.4 715.2 482.8 716.3C482.2 717.3 480.6 718.9 479.6 719.5C478.7 720.0 476.5 720.7 475.7 720.5C475.0 720.3 473.8 718.8 474.0 718.0C474.1 717.2 476.1 715.5 476.8 714.5C477.5 713.6 478.4 711.8 478.9 711.0C479.5 710.2 480.4 708.4 481.0 708.5z" fill="url(#g7)" stroke="url(#g7)" stroke-width="2.4" stroke-linejoin="round" filter="url(#txM)"/>
<path d="M478.0 798.9C479.7 798.7 481.3 800.4 482.5 801.5C483.6 802.7 485.8 806.0 486.9 807.7C487.9 809.5 489.8 813.0 490.4 814.8C491.0 816.6 491.9 819.3 491.6 821.0C491.4 822.6 489.7 825.6 488.6 827.1C487.5 828.7 485.1 831.3 483.3 832.4C481.6 833.6 477.4 835.3 475.4 835.6C473.4 836.0 470.2 835.6 468.3 835.1C466.4 834.5 462.7 832.9 461.3 831.6C459.8 830.3 457.7 827.1 457.4 825.4C457.0 823.6 457.9 820.3 458.6 818.3C459.4 816.3 461.5 812.4 463.0 810.4C464.6 808.4 468.1 804.8 470.1 803.3C472.1 801.8 476.4 799.1 478.0 798.9z" fill="url(#g8)" stroke="url(#g8)" stroke-width="2.4" stroke-linejoin="round" filter="url(#txH)"/>
<path d="M403.0 878.3C403.1 877.0 404.5 874.2 405.7 873.0C406.8 871.9 409.6 870.6 411.8 869.5C414.1 868.5 419.4 866.3 422.4 865.1C425.5 863.9 431.5 861.7 434.8 860.7C438.1 859.7 444.1 858.3 447.1 857.5C450.2 856.7 455.5 855.3 457.7 854.5C460.0 853.8 462.9 852.7 463.9 851.9C465.0 851.0 465.1 848.1 465.7 848.0C466.2 847.9 467.6 849.8 468.0 851.0C468.3 852.2 468.6 855.3 468.3 857.2C468.0 859.0 466.9 862.7 465.7 865.1C464.5 867.5 461.5 872.5 459.5 874.8C457.5 877.2 453.3 880.8 450.7 882.8C448.1 884.7 443.1 887.9 440.1 889.3C437.0 890.6 430.8 892.5 427.7 892.8C424.7 893.1 419.6 892.3 417.1 891.6C414.7 890.8 410.8 888.3 409.2 887.2C407.5 886.0 405.6 883.9 404.8 882.8C404.0 881.6 402.9 879.6 403.0 878.3z" fill="url(#g9)" stroke="url(#g9)" stroke-width="2.4" stroke-linejoin="round" filter="url(#txH)"/>
<circle cx="460.9" cy="834.2" r="1.3" fill="#c0b7cc"/>
<circle cx="463.6" cy="844.3" r="1.3" fill="#c4bccd"/>
<circle cx="464.6" cy="848.7" r="1.3" fill="#bbaecb"/>
<circle cx="455.1" cy="676.7" r="1.3" fill="#ad9bc3"/>
<circle cx="482.1" cy="699.7" r="1.3" fill="#9c86b8"/>
<path d="M209.3 586.6V908.7H531.5" stroke="#222" stroke-width="1.5" fill="none"/>
<line x1="204.8" y1="662.1" x2="209.3" y2="662.1" stroke="#222" stroke-width="1.5"/>
<text transform="translate(199.4 673.3) scale(0.943 1)" font-size="35.5" text-anchor="end">10</text>
<line x1="496.3" y1="908.7" x2="496.3" y2="913.2" stroke="#222" stroke-width="1.5"/>
<text transform="translate(496.3 943.9) scale(0.943 1)" font-size="35.5" text-anchor="middle">10</text>
<line x1="204.8" y1="763.2" x2="209.3" y2="763.2" stroke="#222" stroke-width="1.5"/>
<text transform="translate(199.4 774.4) scale(0.943 1)" font-size="35.5" text-anchor="end">0</text>
<line x1="391.6" y1="908.7" x2="391.6" y2="913.2" stroke="#222" stroke-width="1.5"/>
<text transform="translate(391.6 943.9) scale(0.943 1)" font-size="35.5" text-anchor="middle">0</text>
<line x1="204.8" y1="864.3" x2="209.3" y2="864.3" stroke="#222" stroke-width="1.5"/>
<text transform="translate(199.4 875.5) scale(0.943 1)" font-size="35.5" text-anchor="end">−10</text>
<line x1="286.9" y1="908.7" x2="286.9" y2="913.2" stroke="#222" stroke-width="1.5"/>
<text transform="translate(277.4 943.9) scale(0.943 1)" font-size="35.5" text-anchor="middle">−10</text>
<text transform="translate(391.3 580.4) scale(0.955 1)" font-size="42" text-anchor="middle" font-weight="bold" font-style="italic">AIF1</text>
<text transform="translate(146.4 747.6) rotate(-90) scale(0.943 1)" font-size="36" text-anchor="middle">UMAP_2</text>
<text transform="translate(391.5 982.1) scale(0.943 1)" font-size="36" text-anchor="middle">UMAP_1</text>
<rect x="542.0" y="661.0" width="20.0" height="101.8" fill="url(#g10)"/>
<line x1="542.0" y1="666.1" x2="546.2" y2="666.1" stroke="#fff" stroke-width="1.3"/>
<line x1="557.8" y1="666.1" x2="562.0" y2="666.1" stroke="#fff" stroke-width="1.3"/>
<line x1="542.0" y1="690.4" x2="546.2" y2="690.4" stroke="#fff" stroke-width="1.3"/>
<line x1="557.8" y1="690.4" x2="562.0" y2="690.4" stroke="#fff" stroke-width="1.3"/>
<line x1="542.0" y1="715.0" x2="546.2" y2="715.0" stroke="#fff" stroke-width="1.3"/>
<line x1="557.8" y1="715.0" x2="562.0" y2="715.0" stroke="#fff" stroke-width="1.3"/>
<line x1="542.0" y1="739.3" x2="546.2" y2="739.3" stroke="#fff" stroke-width="1.3"/>
<line x1="557.8" y1="739.3" x2="562.0" y2="739.3" stroke="#fff" stroke-width="1.3"/>
<text x="569.3" y="671.5" font-size="28.5">4</text>
<text x="569.3" y="720.4" font-size="28.5">2</text>
<text x="569.3" y="769.7" font-size="28.5">0</text>
<path d="M925.8 606.3C926.4 605.6 929.7 604.6 931.1 604.5C932.6 604.4 934.8 604.4 936.4 605.4C938.1 606.3 941.6 609.6 943.5 611.6C945.4 613.6 948.7 617.5 950.6 620.4C952.4 623.2 955.9 629.4 957.6 632.7C959.4 636.0 962.3 642.0 963.8 645.1C965.3 648.1 967.8 652.8 969.1 655.6C970.4 658.5 972.5 664.1 973.5 666.2C974.6 668.3 976.1 670.7 977.0 671.5C978.0 672.3 980.3 671.9 980.6 672.4C980.8 672.9 979.4 674.3 978.8 675.4C978.2 676.5 977.1 678.9 976.2 680.3C975.2 681.8 973.2 685.3 971.7 686.5C970.3 687.7 967.2 689.4 965.6 689.5C963.9 689.6 960.9 688.4 959.4 687.4C957.9 686.4 955.2 683.5 954.1 682.1C953.0 680.7 951.6 678.5 951.4 676.8C951.3 675.2 952.9 671.6 953.2 669.8C953.6 667.9 954.4 664.8 954.1 662.7C953.7 660.6 951.5 656.5 950.6 653.9C949.6 651.3 948.1 646.1 947.0 643.3C946.0 640.5 944.0 635.5 942.6 632.7C941.2 629.9 938.0 624.6 936.4 622.1C934.9 619.7 932.4 615.8 931.1 614.2C929.8 612.6 927.4 610.8 926.7 609.8C926.0 608.7 925.3 607.0 925.8 606.3z" fill="url(#g11)" stroke="url(#g11)" stroke-width="2.4" stroke-linejoin="round" filter="url(#txL)"/>
<path d="M819.9 692.7C820.4 692.1 821.6 691.0 823.5 690.6C825.3 690.1 831.2 689.5 834.0 689.1C836.9 688.8 841.8 688.3 844.6 687.7C847.5 687.2 852.4 686.3 855.2 685.3C858.1 684.3 863.5 681.8 865.8 680.3C868.2 678.9 871.0 676.2 872.9 674.2C874.8 672.2 878.3 667.3 879.9 665.3C881.6 663.3 884.1 660.4 885.2 659.2C886.4 657.9 887.8 656.4 888.8 656.2C889.7 655.9 891.2 656.5 892.3 657.4C893.4 658.3 895.5 660.8 896.7 662.7C897.9 664.6 900.1 669.2 901.1 671.5C902.2 673.9 903.8 678.0 904.7 680.3C905.5 682.7 906.8 686.8 907.3 689.1C907.8 691.5 908.5 695.6 908.5 698.0C908.6 700.3 908.1 704.4 907.8 706.8C907.6 709.1 906.9 714.0 906.4 715.6C906.0 717.2 905.4 718.5 904.7 718.8C904.0 719.0 902.5 717.9 901.1 717.4C899.7 716.8 896.4 715.8 894.1 714.7C891.7 713.7 886.3 710.8 883.5 709.4C880.7 708.1 875.7 705.7 872.9 704.7C870.1 703.7 865.1 702.4 862.3 701.8C859.5 701.3 854.5 700.8 851.7 700.6C848.9 700.4 843.9 700.3 841.1 700.1C838.3 699.8 832.9 699.2 830.5 698.8C828.2 698.4 824.8 697.6 823.5 697.1C822.1 696.5 820.8 695.4 820.3 694.8C819.8 694.2 819.5 693.2 819.9 692.7z" fill="url(#g12)" stroke="url(#g12)" stroke-width="2.4" stroke-linejoin="round" filter="url(#txL)"/>
<path d="M1015.9 691.8C1017.5 690.8 1021.1 689.0 1022.9 688.8C1024.8 688.6 1028.5 689.3 1030.0 690.0C1031.5 690.8 1033.7 692.9 1034.4 694.4C1035.2 696.0 1035.6 699.4 1035.6 701.5C1035.6 703.6 1035.0 708.0 1034.4 710.3C1033.8 712.7 1032.2 716.8 1030.9 719.1C1029.6 721.5 1026.7 725.6 1024.7 727.9C1022.7 730.3 1018.2 734.5 1015.9 736.8C1013.5 739.0 1009.4 742.6 1007.1 744.7C1004.7 746.8 1000.3 751.0 998.2 752.6C996.1 754.3 993.0 756.3 991.2 757.0C989.3 757.8 985.5 758.6 984.1 758.3C982.7 757.9 981.3 755.6 980.6 754.4C979.8 753.2 978.6 750.4 978.3 749.1C977.9 747.8 977.4 745.9 977.9 744.7C978.5 743.5 980.6 741.7 982.3 740.3C984.1 738.9 988.8 735.9 991.2 734.1C993.5 732.4 998.0 728.9 1000.0 727.1C1002.0 725.2 1005.0 722.0 1006.2 720.0C1007.3 718.0 1008.4 714.3 1008.8 712.1C1009.2 709.8 1008.9 705.4 1009.2 703.3C1009.5 701.1 1010.0 697.7 1010.9 696.2C1011.8 694.7 1014.3 692.8 1015.9 691.8z" fill="url(#g13)" stroke="url(#g13)" stroke-width="2.4" stroke-linejoin="round" filter="url(#txL)"/>
<path d="M833.7 735.9C834.0 734.9 835.9 734.6 836.7 735.0C837.5 735.4 838.1 737.7 839.3 738.5C840.6 739.4 844.8 741.1 846.4 741.2C848.1 741.3 850.5 740.0 851.7 739.4C852.9 738.8 854.4 736.6 855.2 736.8C856.1 736.9 857.2 739.0 857.9 740.3C858.6 741.6 859.5 744.8 860.5 746.5C861.6 748.1 863.9 751.2 865.8 752.6C867.7 754.0 871.8 756.1 874.7 757.0C877.5 758.0 883.5 759.2 887.0 759.7C890.5 760.2 897.6 760.8 901.1 761.1C904.7 761.5 910.4 761.6 913.5 762.3C916.5 763.1 921.7 765.5 924.1 766.7C926.4 768.0 929.9 770.6 931.1 772.0C932.4 773.4 933.2 775.7 933.4 777.3C933.7 779.0 933.4 782.4 932.9 784.4C932.4 786.4 930.8 790.1 929.4 792.3C928.0 794.6 924.7 798.9 922.3 801.1C920.0 803.4 914.8 807.3 911.7 809.1C908.7 810.9 902.7 813.6 899.4 814.7C896.1 815.8 889.8 817.5 887.0 817.5C884.2 817.6 880.1 816.3 878.2 815.2C876.3 814.2 873.7 811.5 872.9 810.0C872.1 808.4 871.9 805.5 872.0 803.8C872.1 802.0 873.1 798.8 873.8 796.7C874.4 794.6 876.5 790.0 876.8 787.9C877.0 785.8 876.2 782.9 875.5 780.9C874.9 778.9 873.3 774.9 872.0 772.9C870.7 770.9 867.6 767.3 865.8 765.9C864.1 764.5 860.9 763.2 858.8 762.3C856.6 761.5 852.2 760.6 849.9 759.7C847.7 758.8 843.8 756.8 842.0 755.3C840.2 753.8 837.8 750.0 836.7 748.2C835.6 746.5 834.4 743.7 834.0 742.1C833.6 740.4 833.3 736.8 833.7 735.9z" fill="url(#g14)" stroke="url(#g14)" stroke-width="2.4" stroke-linejoin="round" filter="url(#txL)"/>
<path d="M752.8 798.5C752.8 796.4 753.1 791.8 753.7 789.7C754.3 787.6 756.2 783.9 757.3 782.6C758.3 781.3 760.5 780.0 761.7 780.0C762.8 780.0 765.3 781.3 766.1 782.6C766.9 783.9 767.5 787.6 767.9 789.7C768.2 791.8 768.4 795.9 768.7 798.5C769.1 801.1 769.8 806.0 770.5 809.1C771.2 812.1 773.1 818.4 774.0 821.4C775.0 824.5 777.1 830.1 777.6 832.0C778.0 833.9 777.9 834.8 777.2 835.5C776.5 836.3 773.5 838.2 772.3 837.8C771.0 837.5 769.1 834.6 767.9 832.9C766.6 831.2 764.0 827.4 762.6 824.9C761.1 822.5 758.4 816.9 757.3 814.4C756.1 811.8 754.3 807.7 753.7 805.5C753.1 803.4 752.8 800.6 752.8 798.5z" fill="url(#g15)" stroke="url(#g15)" stroke-width="2.4" stroke-linejoin="round" filter="url(#txD)"/>
<path d="M774.9 779.1C775.3 778.3 777.3 776.3 778.4 775.6C779.6 774.9 782.0 773.7 783.7 773.8C785.5 773.9 789.4 775.5 791.7 776.4C793.9 777.4 798.3 779.7 800.5 780.9C802.7 782.0 806.5 783.7 808.5 785.3C810.5 786.8 813.9 790.4 815.5 792.3C817.2 794.2 819.3 797.6 820.8 799.4C822.3 801.1 825.6 804.0 827.0 805.5C828.4 807.1 830.4 809.5 831.0 810.8C831.7 812.1 832.3 814.3 831.8 815.2C831.2 816.2 828.6 817.7 827.0 818.2C825.4 818.8 821.5 819.7 819.9 819.7C818.4 819.6 816.3 818.8 815.5 817.9C814.7 816.9 814.2 814.2 813.7 812.6C813.3 811.0 813.0 807.5 812.0 805.5C810.9 803.5 807.8 799.6 805.8 797.6C803.8 795.6 799.3 792.2 797.0 790.6C794.6 788.9 790.4 786.3 788.2 785.3C785.9 784.2 781.9 783.1 780.2 782.6C778.6 782.1 776.5 782.2 775.8 781.7C775.1 781.3 774.6 779.9 774.9 779.1z" fill="url(#g16)" stroke="url(#g16)" stroke-width="2.4" stroke-linejoin="round" filter="url(#txD)"/>
<path d="M1005.6 704.7C1006.3 704.7 1008.2 706.6 1008.5 707.7C1008.7 708.7 1008.0 711.4 1007.4 712.4C1006.8 713.5 1005.2 715.0 1004.2 715.6C1003.3 716.2 1001.1 716.8 1000.3 716.7C999.6 716.5 998.4 715.0 998.6 714.2C998.7 713.4 1000.7 711.6 1001.4 710.7C1002.1 709.7 1003.0 707.9 1003.5 707.1C1004.1 706.3 1005.0 704.6 1005.6 704.7z" fill="url(#g17)" stroke="url(#g17)" stroke-width="2.4" stroke-linejoin="round" filter="url(#txL)"/>
<path d="M1002.6 795.0C1004.3 794.7 1005.9 796.4 1007.1 797.6C1008.2 798.8 1010.4 802.0 1011.5 803.8C1012.5 805.5 1014.4 809.1 1015.0 810.8C1015.6 812.6 1016.5 815.4 1016.2 817.0C1016.0 818.7 1014.3 821.7 1013.2 823.2C1012.1 824.7 1009.7 827.3 1007.9 828.5C1006.2 829.6 1002.0 831.3 1000.0 831.6C998.0 832.0 994.8 831.7 992.9 831.1C991.0 830.6 987.3 828.9 985.9 827.6C984.4 826.3 982.3 823.2 982.0 821.4C981.6 819.7 982.5 816.4 983.2 814.4C984.0 812.4 986.1 808.4 987.6 806.4C989.2 804.4 992.7 800.9 994.7 799.4C996.7 797.8 1001.0 795.2 1002.6 795.0z" fill="url(#g18)" stroke="url(#g18)" stroke-width="2.4" stroke-linejoin="round" filter="url(#txL)"/>
<path d="M927.6 874.3C927.7 873.0 929.1 870.2 930.3 869.0C931.4 867.9 934.2 866.6 936.4 865.5C938.7 864.4 944.0 862.3 947.0 861.1C950.1 859.9 956.1 857.7 959.4 856.7C962.7 855.7 968.7 854.3 971.7 853.5C974.8 852.7 980.1 851.3 982.3 850.5C984.6 849.8 987.5 848.7 988.5 847.9C989.6 847.0 989.7 844.1 990.3 844.0C990.8 843.9 992.2 845.8 992.6 847.0C992.9 848.2 993.2 851.3 992.9 853.2C992.6 855.0 991.5 858.7 990.3 861.1C989.1 863.4 986.1 868.4 984.1 870.8C982.1 873.1 977.9 876.8 975.3 878.7C972.7 880.7 967.7 883.9 964.7 885.3C961.6 886.6 955.4 888.5 952.3 888.8C949.3 889.1 944.2 888.3 941.7 887.6C939.3 886.8 935.4 884.3 933.8 883.1C932.1 882.0 930.2 879.9 929.4 878.7C928.6 877.6 927.5 875.6 927.6 874.3z" fill="url(#g19)" stroke="url(#g19)" stroke-width="2.4" stroke-linejoin="round" filter="url(#txL)"/>
<circle cx="985.5" cy="830.2" r="1.3" fill="#c0b7cc"/>
<circle cx="988.2" cy="840.3" r="1.3" fill="#c4bccd"/>
<circle cx="989.2" cy="844.7" r="1.3" fill="#bbaecb"/>
<circle cx="979.7" cy="672.9" r="1.3" fill="#ad9bc3"/>
<circle cx="1006.7" cy="695.9" r="1.3" fill="#9c86b8"/>
<path d="M734.1 583.5V905.6H1056.6" stroke="#222" stroke-width="1.5" fill="none"/>
<line x1="729.6" y1="658.3" x2="734.1" y2="658.3" stroke="#222" stroke-width="1.5"/>
<text transform="translate(724.5 669.5) scale(0.943 1)" font-size="35.5" text-anchor="end">10</text>
<line x1="1020.9" y1="905.6" x2="1020.9" y2="910.1" stroke="#222" stroke-width="1.5"/>
<text transform="translate(1020.9 947.5) scale(0.943 1)" font-size="35.5" text-anchor="middle">10</text>
<line x1="729.6" y1="759.3" x2="734.1" y2="759.3" stroke="#222" stroke-width="1.5"/>
<text transform="translate(724.5 770.5) scale(0.943 1)" font-size="35.5" text-anchor="end">0</text>
<line x1="916.2" y1="905.6" x2="916.2" y2="910.1" stroke="#222" stroke-width="1.5"/>
<text transform="translate(916.2 947.5) scale(0.943 1)" font-size="35.5" text-anchor="middle">0</text>
<line x1="729.6" y1="860.3" x2="734.1" y2="860.3" stroke="#222" stroke-width="1.5"/>
<text transform="translate(724.5 871.5) scale(0.943 1)" font-size="35.5" text-anchor="end">−10</text>
<line x1="811.5" y1="905.6" x2="811.5" y2="910.1" stroke="#222" stroke-width="1.5"/>
<text transform="translate(802.0 947.5) scale(0.943 1)" font-size="35.5" text-anchor="middle">−10</text>
<text transform="translate(923.7 573.2) scale(0.955 1)" font-size="42" text-anchor="middle" font-weight="bold" font-style="italic">APOE</text>
<text transform="translate(672.8 744.5) rotate(-90) scale(0.943 1)" font-size="36" text-anchor="middle">UMAP_2</text>
<text transform="translate(915.1 985.8) scale(0.943 1)" font-size="36" text-anchor="middle">UMAP_1</text>
<rect x="1075.1" y="697.7" width="20.3" height="101.4" fill="url(#g20)"/>
<line x1="1075.1" y1="707.3" x2="1079.3" y2="707.3" stroke="#fff" stroke-width="1.3"/>
<line x1="1091.2" y1="707.3" x2="1095.4" y2="707.3" stroke="#fff" stroke-width="1.3"/>
<line x1="1075.1" y1="737.9" x2="1079.3" y2="737.9" stroke="#fff" stroke-width="1.3"/>
<line x1="1091.2" y1="737.9" x2="1095.4" y2="737.9" stroke="#fff" stroke-width="1.3"/>
<line x1="1075.1" y1="768.9" x2="1079.3" y2="768.9" stroke="#fff" stroke-width="1.3"/>
<line x1="1091.2" y1="768.9" x2="1095.4" y2="768.9" stroke="#fff" stroke-width="1.3"/>
<text x="1102.8" y="713.0" font-size="28.5">6</text>
<text x="1102.8" y="743.7" font-size="28.5">4</text>
<text x="1102.8" y="774.7" font-size="28.5">2</text>
<text x="1102.8" y="805.8" font-size="28.5">0</text>
<line x1="971.5" y1="849.8" x2="977.5" y2="849.8" stroke="#222" stroke-width="1.6"/>
<path d="M1475.7 607.4C1476.3 606.7 1479.6 605.7 1481.0 605.6C1482.4 605.5 1484.7 605.5 1486.3 606.5C1487.9 607.4 1491.5 610.7 1493.3 612.7C1495.2 614.7 1498.5 618.7 1500.4 621.5C1502.3 624.3 1505.7 630.6 1507.4 633.9C1509.2 637.2 1512.1 643.2 1513.6 646.2C1515.1 649.3 1517.6 654.0 1518.9 656.8C1520.2 659.7 1522.2 665.3 1523.3 667.4C1524.4 669.6 1525.9 671.9 1526.8 672.7C1527.8 673.6 1530.1 673.1 1530.3 673.6C1530.6 674.1 1529.2 675.6 1528.6 676.6C1528.0 677.7 1526.9 680.1 1525.9 681.6C1525.0 683.1 1522.9 686.5 1521.5 687.8C1520.1 689.0 1517.0 690.6 1515.4 690.8C1513.7 690.9 1510.7 689.6 1509.2 688.6C1507.7 687.7 1505.0 684.8 1503.9 683.3C1502.9 681.9 1501.4 679.7 1501.3 678.0C1501.2 676.4 1502.7 672.9 1503.0 671.0C1503.4 669.1 1504.3 666.0 1503.9 663.9C1503.6 661.8 1501.3 657.7 1500.4 655.1C1499.5 652.5 1497.9 647.3 1496.9 644.5C1495.8 641.6 1493.9 636.7 1492.5 633.9C1491.1 631.0 1487.8 625.7 1486.3 623.3C1484.8 620.8 1482.3 617.0 1481.0 615.3C1479.7 613.7 1477.3 612.0 1476.6 610.9C1475.9 609.8 1475.1 608.1 1475.7 607.4z" fill="url(#g21)" stroke="url(#g21)" stroke-width="2.4" stroke-linejoin="round" filter="url(#txM)"/>
<path d="M1370.0 693.9C1370.4 693.4 1371.7 692.3 1373.5 691.8C1375.4 691.4 1381.3 690.8 1384.1 690.4C1386.9 690.0 1391.9 689.5 1394.7 689.0C1397.5 688.5 1402.4 687.5 1405.2 686.5C1408.1 685.5 1413.5 683.1 1415.8 681.6C1418.2 680.1 1421.0 677.4 1422.9 675.4C1424.7 673.4 1428.3 668.6 1429.9 666.6C1431.6 664.6 1434.0 661.6 1435.2 660.4C1436.4 659.1 1437.8 657.6 1438.7 657.4C1439.7 657.1 1441.2 657.7 1442.3 658.6C1443.3 659.5 1445.5 662.0 1446.7 663.9C1447.8 665.8 1450.0 670.4 1451.1 672.7C1452.1 675.1 1453.8 679.2 1454.6 681.6C1455.4 683.9 1456.7 688.1 1457.2 690.4C1457.7 692.8 1458.4 696.9 1458.5 699.2C1458.5 701.6 1458.0 705.7 1457.8 708.1C1457.5 710.4 1456.8 715.3 1456.3 716.9C1455.9 718.5 1455.3 719.9 1454.6 720.1C1453.9 720.3 1452.5 719.2 1451.1 718.7C1449.7 718.1 1446.4 717.1 1444.0 716.0C1441.7 715.0 1436.3 712.1 1433.4 710.7C1430.6 709.4 1425.7 707.0 1422.9 706.0C1420.1 704.9 1415.1 703.7 1412.3 703.1C1409.5 702.6 1404.5 702.1 1401.7 701.9C1398.9 701.7 1394.0 701.6 1391.2 701.4C1388.3 701.1 1382.9 700.5 1380.6 700.1C1378.2 699.7 1374.9 698.9 1373.5 698.4C1372.2 697.8 1370.8 696.7 1370.4 696.1C1369.9 695.5 1369.6 694.5 1370.0 693.9z" fill="url(#g22)" stroke="url(#g22)" stroke-width="2.4" stroke-linejoin="round" filter="url(#txM)"/>
<path d="M1565.6 693.1C1567.2 692.1 1570.8 690.3 1572.6 690.1C1574.5 689.8 1578.2 690.5 1579.7 691.3C1581.2 692.0 1583.3 694.2 1584.1 695.7C1584.8 697.2 1585.3 700.7 1585.3 702.8C1585.3 704.9 1584.7 709.3 1584.1 711.6C1583.5 714.0 1581.9 718.1 1580.6 720.5C1579.3 722.8 1576.4 726.9 1574.4 729.3C1572.4 731.6 1567.9 735.9 1565.6 738.1C1563.2 740.4 1559.1 744.0 1556.8 746.1C1554.4 748.2 1550.1 752.4 1548.0 754.0C1545.9 755.7 1542.8 757.7 1540.9 758.4C1539.0 759.2 1535.3 760.0 1533.9 759.7C1532.5 759.3 1531.1 757.0 1530.3 755.8C1529.6 754.6 1528.4 751.8 1528.1 750.5C1527.7 749.2 1527.2 747.3 1527.7 746.1C1528.2 744.9 1530.3 743.1 1532.1 741.7C1533.9 740.2 1538.6 737.2 1540.9 735.5C1543.3 733.7 1547.7 730.3 1549.7 728.4C1551.7 726.5 1554.7 723.3 1555.9 721.3C1557.1 719.3 1558.1 715.6 1558.5 713.4C1558.9 711.1 1558.6 706.7 1558.9 704.5C1559.2 702.4 1559.8 699.0 1560.7 697.5C1561.5 695.9 1564.0 694.1 1565.6 693.1z" fill="url(#g23)" stroke="url(#g23)" stroke-width="2.4" stroke-linejoin="round" filter="url(#txM)"/>
<path d="M1383.8 737.2C1384.1 736.3 1386.0 736.0 1386.7 736.4C1387.5 736.7 1388.1 739.1 1389.4 739.9C1390.7 740.7 1394.8 742.4 1396.4 742.5C1398.1 742.7 1400.6 741.4 1401.7 740.8C1402.9 740.2 1404.4 738.0 1405.2 738.1C1406.1 738.2 1407.2 740.4 1407.9 741.7C1408.6 743.0 1409.5 746.2 1410.5 747.8C1411.6 749.5 1413.9 752.6 1415.8 754.0C1417.7 755.4 1421.8 757.5 1424.6 758.4C1427.5 759.4 1433.4 760.6 1437.0 761.1C1440.5 761.6 1447.5 762.2 1451.1 762.5C1454.6 762.9 1460.3 763.0 1463.4 763.7C1466.4 764.5 1471.6 766.9 1474.0 768.2C1476.3 769.5 1479.8 772.0 1481.0 773.5C1482.3 774.9 1483.1 777.1 1483.3 778.8C1483.5 780.4 1483.3 783.8 1482.8 785.8C1482.2 787.8 1480.7 791.5 1479.3 793.8C1477.8 796.0 1474.6 800.4 1472.2 802.6C1469.9 804.9 1464.7 808.8 1461.6 810.6C1458.6 812.4 1452.6 815.1 1449.3 816.2C1446.0 817.4 1439.8 819.0 1437.0 819.1C1434.1 819.1 1430.0 817.8 1428.2 816.8C1426.3 815.7 1423.7 813.0 1422.9 811.5C1422.0 809.9 1421.9 807.0 1422.0 805.3C1422.1 803.5 1423.1 800.3 1423.8 798.2C1424.4 796.1 1426.5 791.5 1426.7 789.4C1427.0 787.2 1426.1 784.3 1425.5 782.3C1424.9 780.3 1423.3 776.3 1422.0 774.3C1420.7 772.3 1417.6 768.7 1415.8 767.3C1414.1 765.9 1410.9 764.6 1408.8 763.7C1406.7 762.9 1402.2 762.0 1400.0 761.1C1397.7 760.2 1393.8 758.2 1392.0 756.7C1390.3 755.1 1387.8 751.4 1386.7 749.6C1385.7 747.8 1384.5 745.1 1384.1 743.4C1383.7 741.8 1383.4 738.2 1383.8 737.2z" fill="url(#g24)" stroke="url(#g24)" stroke-width="2.4" stroke-linejoin="round" filter="url(#txM)"/>
<path d="M1303.1 800.0C1303.1 797.8 1303.4 793.3 1303.9 791.1C1304.5 789.0 1306.4 785.4 1307.5 784.1C1308.5 782.8 1310.7 781.4 1311.9 781.4C1313.0 781.4 1315.4 782.8 1316.3 784.1C1317.1 785.4 1317.7 789.0 1318.0 791.1C1318.4 793.3 1318.6 797.4 1318.9 800.0C1319.3 802.6 1320.0 807.5 1320.7 810.6C1321.4 813.6 1323.3 819.9 1324.2 822.9C1325.1 826.0 1327.3 831.7 1327.7 833.5C1328.1 835.4 1328.1 836.3 1327.4 837.1C1326.7 837.9 1323.7 839.7 1322.4 839.4C1321.2 839.0 1319.3 836.1 1318.0 834.4C1316.7 832.7 1314.2 828.9 1312.7 826.5C1311.3 824.0 1308.6 818.5 1307.5 815.9C1306.3 813.3 1304.5 809.2 1303.9 807.0C1303.4 804.9 1303.1 802.1 1303.1 800.0z" fill="url(#g25)" stroke="url(#g25)" stroke-width="2.4" stroke-linejoin="round" filter="url(#txD)"/>
<path d="M1325.1 780.5C1325.4 779.7 1327.4 777.7 1328.6 777.0C1329.8 776.3 1332.1 775.1 1333.9 775.2C1335.7 775.3 1339.6 776.9 1341.8 777.9C1344.1 778.8 1348.4 781.1 1350.6 782.3C1352.9 783.5 1356.6 785.2 1358.6 786.7C1360.6 788.2 1364.0 791.9 1365.6 793.8C1367.3 795.7 1369.4 799.1 1370.9 800.9C1372.4 802.6 1375.7 805.5 1377.1 807.0C1378.4 808.6 1380.5 811.0 1381.1 812.3C1381.7 813.6 1382.4 815.8 1381.8 816.8C1381.3 817.7 1378.6 819.2 1377.1 819.8C1375.5 820.3 1371.5 821.2 1370.0 821.2C1368.5 821.1 1366.4 820.3 1365.6 819.4C1364.8 818.5 1364.3 815.8 1363.8 814.1C1363.4 812.5 1363.1 809.0 1362.1 807.0C1361.0 805.0 1357.9 801.1 1355.9 799.1C1353.9 797.1 1349.5 793.7 1347.1 792.0C1344.8 790.4 1340.5 787.8 1338.3 786.7C1336.1 785.7 1332.0 784.5 1330.4 784.1C1328.7 783.6 1326.7 783.7 1326.0 783.2C1325.3 782.7 1324.7 781.4 1325.1 780.5z" fill="url(#g26)" stroke="url(#g26)" stroke-width="2.4" stroke-linejoin="round" filter="url(#txM)"/>
<path d="M1555.4 706.0C1556.0 706.0 1558.0 707.9 1558.2 709.0C1558.4 710.0 1557.7 712.7 1557.1 713.7C1556.6 714.8 1554.9 716.4 1554.0 716.9C1553.0 717.5 1550.8 718.2 1550.1 718.0C1549.3 717.8 1548.2 716.3 1548.3 715.5C1548.5 714.7 1550.5 712.9 1551.1 712.0C1551.8 711.0 1552.7 709.2 1553.3 708.4C1553.8 707.6 1554.7 705.9 1555.4 706.0z" fill="url(#g27)" stroke="url(#g27)" stroke-width="2.4" stroke-linejoin="round" filter="url(#txD)"/>
<path d="M1552.4 796.4C1554.0 796.2 1555.6 797.9 1556.8 799.1C1558.0 800.3 1560.1 803.5 1561.2 805.3C1562.2 807.0 1564.1 810.6 1564.7 812.3C1565.3 814.1 1566.2 816.9 1565.9 818.5C1565.7 820.2 1564.0 823.2 1562.9 824.7C1561.8 826.2 1559.4 828.9 1557.7 830.0C1555.9 831.1 1551.7 832.8 1549.7 833.2C1547.7 833.5 1544.6 833.2 1542.7 832.7C1540.8 832.1 1537.1 830.4 1535.6 829.1C1534.2 827.8 1532.1 824.7 1531.8 822.9C1531.4 821.2 1532.2 817.9 1533.0 815.9C1533.7 813.9 1535.9 809.9 1537.4 807.9C1538.9 805.9 1542.4 802.4 1544.4 800.9C1546.4 799.3 1550.7 796.7 1552.4 796.4z" fill="url(#g28)" stroke="url(#g28)" stroke-width="2.4" stroke-linejoin="round" filter="url(#txG)"/>
<path d="M1477.5 876.0C1477.6 874.7 1479.0 871.8 1480.1 870.7C1481.3 869.5 1484.1 868.2 1486.3 867.1C1488.5 866.1 1493.8 863.9 1496.9 862.7C1499.9 861.5 1505.9 859.3 1509.2 858.3C1512.5 857.3 1518.5 855.9 1521.5 855.1C1524.6 854.3 1529.9 852.9 1532.1 852.1C1534.3 851.3 1537.2 850.3 1538.3 849.4C1539.3 848.6 1539.5 845.7 1540.0 845.6C1540.6 845.4 1542.0 847.3 1542.3 848.6C1542.7 849.8 1543.0 852.9 1542.7 854.7C1542.4 856.6 1541.2 860.3 1540.0 862.7C1538.9 865.1 1535.9 870.1 1533.9 872.4C1531.9 874.8 1527.6 878.4 1525.1 880.4C1522.5 882.3 1517.5 885.6 1514.5 886.9C1511.4 888.3 1505.2 890.1 1502.2 890.4C1499.1 890.7 1494.1 890.0 1491.6 889.2C1489.1 888.5 1485.3 886.0 1483.7 884.8C1482.0 883.6 1480.1 881.5 1479.3 880.4C1478.4 879.2 1477.4 877.2 1477.5 876.0z" fill="url(#g29)" stroke="url(#g29)" stroke-width="2.4" stroke-linejoin="round" filter="url(#txG)"/>
<circle cx="1535.3" cy="831.8" r="1.3" fill="#c0b7cc"/>
<circle cx="1537.9" cy="841.8" r="1.3" fill="#c4bccd"/>
<circle cx="1539.0" cy="846.3" r="1.3" fill="#bbaecb"/>
<circle cx="1529.5" cy="674.2" r="1.3" fill="#ad9bc3"/>
<circle cx="1556.4" cy="697.1" r="1.3" fill="#9c86b8"/>
<path d="M1284.1 584.1V906.9H1607.2" stroke="#222" stroke-width="1.5" fill="none"/>
<line x1="1279.6" y1="659.5" x2="1284.1" y2="659.5" stroke="#222" stroke-width="1.5"/>
<text transform="translate(1274.0 670.7) scale(0.943 1)" font-size="35.5" text-anchor="end">10</text>
<line x1="1570.6" y1="906.9" x2="1570.6" y2="911.4" stroke="#222" stroke-width="1.5"/>
<text transform="translate(1570.6 945.5) scale(0.943 1)" font-size="35.5" text-anchor="middle">10</text>
<line x1="1279.6" y1="760.7" x2="1284.1" y2="760.7" stroke="#222" stroke-width="1.5"/>
<text transform="translate(1274.0 771.9) scale(0.943 1)" font-size="35.5" text-anchor="end">0</text>
<line x1="1466.1" y1="906.9" x2="1466.1" y2="911.4" stroke="#222" stroke-width="1.5"/>
<text transform="translate(1466.1 945.5) scale(0.943 1)" font-size="35.5" text-anchor="middle">0</text>
<line x1="1279.6" y1="861.9" x2="1284.1" y2="861.9" stroke="#222" stroke-width="1.5"/>
<text transform="translate(1274.0 873.1) scale(0.943 1)" font-size="35.5" text-anchor="end">−10</text>
<line x1="1361.6" y1="906.9" x2="1361.6" y2="911.4" stroke="#222" stroke-width="1.5"/>
<text transform="translate(1352.1 945.5) scale(0.943 1)" font-size="35.5" text-anchor="middle">−10</text>
<text transform="translate(1431.5 580.4) scale(0.955 1)" font-size="42" text-anchor="middle" font-weight="bold" font-style="italic">TREM2</text>
<text transform="translate(1223.7 743.0) rotate(-90) scale(0.943 1)" font-size="36" text-anchor="middle">UMAP_2</text>
<text transform="translate(1465.7 985.2) scale(0.943 1)" font-size="36" text-anchor="middle">UMAP_1</text>
<rect x="1621.4" y="701.0" width="19.7" height="98.1" fill="url(#g30)"/>
<line x1="1621.4" y1="710.1" x2="1625.6" y2="710.1" stroke="#fff" stroke-width="1.3"/>
<line x1="1636.9" y1="710.1" x2="1641.1" y2="710.1" stroke="#fff" stroke-width="1.3"/>
<line x1="1621.4" y1="740.0" x2="1625.6" y2="740.0" stroke="#fff" stroke-width="1.3"/>
<line x1="1636.9" y1="740.0" x2="1641.1" y2="740.0" stroke="#fff" stroke-width="1.3"/>
<line x1="1621.4" y1="769.3" x2="1625.6" y2="769.3" stroke="#fff" stroke-width="1.3"/>
<line x1="1636.9" y1="769.3" x2="1641.1" y2="769.3" stroke="#fff" stroke-width="1.3"/>
<text x="1648.7" y="716.0" font-size="28.5">3</text>
<text x="1648.7" y="745.3" font-size="28.5">2</text>
<text x="1648.7" y="775.1" font-size="28.5">1</text>
<text x="1648.7" y="805.0" font-size="28.5">0</text>
<path d="M398.1 1083.5C398.7 1082.8 402.0 1081.9 403.4 1081.7C404.8 1081.6 407.0 1081.7 408.6 1082.6C410.3 1083.5 413.7 1086.7 415.6 1088.7C417.5 1090.7 420.7 1094.6 422.6 1097.4C424.5 1100.2 427.8 1106.4 429.6 1109.6C431.3 1112.9 434.2 1118.8 435.7 1121.8C437.2 1124.8 439.7 1129.5 440.9 1132.3C442.2 1135.1 444.3 1140.6 445.3 1142.7C446.4 1144.8 447.9 1147.1 448.8 1148.0C449.7 1148.8 452.1 1148.3 452.3 1148.8C452.5 1149.3 451.1 1150.7 450.5 1151.8C450.0 1152.8 448.9 1155.2 447.9 1156.7C447.0 1158.1 445.0 1161.6 443.6 1162.8C442.2 1164.0 439.1 1165.6 437.4 1165.7C435.8 1165.8 432.8 1164.6 431.3 1163.6C429.8 1162.7 427.1 1159.8 426.1 1158.4C425.0 1157.0 423.6 1154.8 423.5 1153.2C423.4 1151.6 424.9 1148.1 425.2 1146.2C425.6 1144.4 426.4 1141.3 426.1 1139.2C425.7 1137.2 423.5 1133.1 422.6 1130.5C421.7 1128.0 420.2 1122.9 419.1 1120.1C418.1 1117.3 416.1 1112.4 414.7 1109.6C413.3 1106.8 410.1 1101.6 408.6 1099.2C407.1 1096.7 404.7 1092.9 403.4 1091.3C402.1 1089.7 399.7 1088.0 399.0 1087.0C398.3 1085.9 397.6 1084.2 398.1 1083.5z" fill="url(#g31)" stroke="url(#g31)" stroke-width="2.4" stroke-linejoin="round" filter="url(#txM)"/>
<path d="M293.3 1168.9C293.8 1168.3 295.0 1167.2 296.8 1166.8C298.7 1166.3 304.5 1165.8 307.3 1165.4C310.1 1165.0 315.0 1164.5 317.8 1164.0C320.6 1163.5 325.5 1162.5 328.3 1161.5C331.1 1160.6 336.4 1158.1 338.8 1156.7C341.1 1155.2 343.9 1152.5 345.7 1150.6C347.6 1148.6 351.1 1143.8 352.7 1141.9C354.4 1139.9 356.8 1137.0 358.0 1135.8C359.1 1134.6 360.5 1133.0 361.5 1132.8C362.4 1132.6 363.9 1133.2 365.0 1134.0C366.0 1134.9 368.2 1137.4 369.3 1139.2C370.5 1141.1 372.6 1145.6 373.7 1148.0C374.7 1150.3 376.4 1154.3 377.2 1156.7C378.0 1159.0 379.3 1163.1 379.8 1165.4C380.3 1167.7 381.0 1171.8 381.0 1174.1C381.1 1176.4 380.6 1180.5 380.3 1182.8C380.0 1185.1 379.3 1189.9 378.9 1191.5C378.5 1193.1 377.9 1194.4 377.2 1194.7C376.5 1194.9 375.1 1193.8 373.7 1193.3C372.3 1192.7 369.0 1191.7 366.7 1190.7C364.4 1189.6 359.0 1186.7 356.2 1185.4C353.4 1184.1 348.5 1181.7 345.7 1180.7C342.9 1179.7 338.1 1178.5 335.3 1177.9C332.5 1177.4 327.6 1176.9 324.8 1176.7C322.0 1176.5 317.1 1176.4 314.3 1176.2C311.5 1176.0 306.1 1175.4 303.8 1175.0C301.5 1174.6 298.2 1173.8 296.8 1173.2C295.5 1172.7 294.2 1171.5 293.7 1171.0C293.2 1170.4 292.9 1169.4 293.3 1168.9z" fill="url(#g32)" stroke="url(#g32)" stroke-width="2.4" stroke-linejoin="round" filter="url(#txM)"/>
<path d="M487.2 1168.0C488.8 1167.0 492.4 1165.3 494.2 1165.0C496.1 1164.8 499.7 1165.5 501.2 1166.3C502.7 1167.0 504.8 1169.1 505.6 1170.6C506.3 1172.1 506.8 1175.5 506.8 1177.6C506.8 1179.7 506.2 1184.0 505.6 1186.3C504.9 1188.6 503.4 1192.7 502.1 1195.0C500.8 1197.3 497.9 1201.4 496.0 1203.7C494.0 1206.0 489.6 1210.2 487.2 1212.4C484.9 1214.6 480.8 1218.2 478.5 1220.3C476.2 1222.4 471.9 1226.5 469.8 1228.1C467.7 1229.7 464.6 1231.7 462.8 1232.5C460.9 1233.2 457.2 1234.0 455.8 1233.7C454.4 1233.3 453.1 1231.1 452.3 1229.9C451.5 1228.7 450.4 1225.9 450.0 1224.6C449.7 1223.4 449.1 1221.4 449.7 1220.3C450.2 1219.1 452.3 1217.3 454.0 1215.9C455.8 1214.5 460.4 1211.6 462.8 1209.8C465.1 1208.1 469.5 1204.7 471.5 1202.8C473.5 1201.0 476.5 1197.9 477.6 1195.9C478.8 1193.9 479.8 1190.2 480.2 1188.0C480.6 1185.8 480.3 1181.4 480.6 1179.3C480.9 1177.2 481.5 1173.9 482.3 1172.4C483.2 1170.8 485.6 1169.0 487.2 1168.0z" fill="url(#g33)" stroke="url(#g33)" stroke-width="2.4" stroke-linejoin="round" filter="url(#txM)"/>
<path d="M307.0 1211.6C307.3 1210.6 309.2 1210.3 309.9 1210.7C310.7 1211.0 311.3 1213.4 312.6 1214.2C313.8 1215.0 317.9 1216.7 319.5 1216.8C321.2 1216.9 323.6 1215.6 324.8 1215.0C325.9 1214.5 327.5 1212.3 328.3 1212.4C329.1 1212.6 330.2 1214.6 330.9 1215.9C331.6 1217.2 332.5 1220.4 333.5 1222.0C334.6 1223.6 336.9 1226.7 338.8 1228.1C340.6 1229.5 344.7 1231.5 347.5 1232.5C350.3 1233.4 356.2 1234.6 359.7 1235.1C363.2 1235.6 370.2 1236.1 373.7 1236.5C377.2 1236.8 382.9 1237.0 385.9 1237.7C388.9 1238.4 394.1 1240.8 396.4 1242.1C398.7 1243.3 402.2 1245.9 403.4 1247.3C404.6 1248.7 405.4 1250.9 405.7 1252.5C405.9 1254.1 405.7 1257.5 405.1 1259.5C404.6 1261.5 403.0 1265.1 401.6 1267.3C400.2 1269.5 397.0 1273.8 394.7 1276.0C392.3 1278.2 387.2 1282.1 384.2 1283.9C381.1 1285.7 375.2 1288.3 371.9 1289.5C368.7 1290.6 362.5 1292.2 359.7 1292.2C356.9 1292.3 352.8 1291.0 351.0 1290.0C349.1 1289.0 346.6 1286.3 345.7 1284.8C344.9 1283.2 344.8 1280.4 344.9 1278.7C345.0 1276.9 346.0 1273.8 346.6 1271.7C347.2 1269.6 349.4 1265.1 349.6 1263.0C349.8 1260.9 349.0 1258.0 348.4 1256.0C347.7 1254.0 346.1 1250.1 344.9 1248.2C343.6 1246.2 340.5 1242.6 338.8 1241.2C337.0 1239.8 333.9 1238.5 331.8 1237.7C329.7 1236.9 325.2 1236.0 323.0 1235.1C320.8 1234.2 316.9 1232.2 315.2 1230.7C313.4 1229.2 311.0 1225.5 309.9 1223.8C308.9 1222.0 307.7 1219.3 307.3 1217.7C306.9 1216.0 306.6 1212.5 307.0 1211.6z" fill="url(#g34)" stroke="url(#g34)" stroke-width="2.4" stroke-linejoin="round" filter="url(#txM)"/>
<path d="M227.0 1273.4C227.0 1271.3 227.3 1266.8 227.8 1264.7C228.4 1262.6 230.3 1259.0 231.3 1257.7C232.4 1256.5 234.5 1255.1 235.7 1255.1C236.9 1255.1 239.2 1256.5 240.1 1257.7C240.9 1259.0 241.5 1262.6 241.8 1264.7C242.2 1266.8 242.3 1270.9 242.7 1273.4C243.0 1276.0 243.7 1280.9 244.4 1283.9C245.1 1286.9 247.0 1293.1 247.9 1296.1C248.9 1299.1 251.0 1304.7 251.4 1306.5C251.8 1308.4 251.8 1309.3 251.1 1310.0C250.4 1310.8 247.4 1312.6 246.2 1312.3C244.9 1311.9 243.1 1309.1 241.8 1307.4C240.5 1305.7 238.0 1302.0 236.6 1299.6C235.2 1297.1 232.5 1291.7 231.3 1289.1C230.2 1286.6 228.4 1282.5 227.8 1280.4C227.3 1278.3 227.0 1275.5 227.0 1273.4z" fill="url(#g35)" stroke="url(#g35)" stroke-width="2.4" stroke-linejoin="round" filter="url(#txM)"/>
<path d="M248.8 1254.3C249.1 1253.4 251.1 1251.5 252.3 1250.8C253.5 1250.1 255.8 1248.9 257.5 1249.0C259.3 1249.1 263.2 1250.7 265.4 1251.6C267.6 1252.6 271.9 1254.8 274.1 1256.0C276.3 1257.2 280.0 1258.8 282.0 1260.4C284.0 1261.9 287.3 1265.5 289.0 1267.3C290.6 1269.2 292.7 1272.6 294.2 1274.3C295.7 1276.0 299.0 1278.9 300.3 1280.4C301.7 1281.9 303.7 1284.3 304.3 1285.6C305.0 1286.9 305.6 1289.0 305.0 1290.0C304.5 1291.0 301.9 1292.4 300.3 1292.9C298.8 1293.5 294.9 1294.4 293.3 1294.3C291.8 1294.3 289.8 1293.5 289.0 1292.6C288.2 1291.7 287.7 1289.0 287.2 1287.4C286.8 1285.7 286.5 1282.4 285.5 1280.4C284.4 1278.4 281.3 1274.5 279.4 1272.6C277.4 1270.6 273.0 1267.2 270.6 1265.6C268.3 1264.0 264.1 1261.4 261.9 1260.4C259.7 1259.3 255.7 1258.2 254.0 1257.7C252.4 1257.3 250.4 1257.3 249.7 1256.9C249.0 1256.4 248.4 1255.1 248.8 1254.3z" fill="url(#g36)" stroke="url(#g36)" stroke-width="2.4" stroke-linejoin="round" filter="url(#txM)"/>
<path d="M477.1 1180.7C477.8 1180.8 479.7 1182.7 479.9 1183.7C480.1 1184.7 479.4 1187.3 478.8 1188.4C478.3 1189.4 476.6 1191.0 475.7 1191.5C474.8 1192.1 472.6 1192.8 471.9 1192.6C471.1 1192.4 470.0 1190.9 470.1 1190.1C470.3 1189.3 472.3 1187.6 472.9 1186.6C473.6 1185.7 474.4 1183.9 475.0 1183.2C475.6 1182.4 476.4 1180.6 477.1 1180.7z" fill="url(#g37)" stroke="url(#g37)" stroke-width="2.4" stroke-linejoin="round" filter="url(#txM)"/>
<path d="M474.1 1269.9C475.8 1269.7 477.3 1271.4 478.5 1272.6C479.7 1273.7 481.8 1276.9 482.9 1278.7C483.9 1280.4 485.7 1283.9 486.4 1285.6C487.0 1287.4 487.8 1290.1 487.6 1291.7C487.3 1293.3 485.7 1296.3 484.6 1297.8C483.5 1299.3 481.1 1301.9 479.4 1303.0C477.6 1304.2 473.5 1305.8 471.5 1306.2C469.5 1306.5 466.4 1306.2 464.5 1305.7C462.7 1305.1 459.0 1303.5 457.5 1302.2C456.1 1300.9 454.0 1297.8 453.7 1296.1C453.3 1294.3 454.2 1291.1 454.9 1289.1C455.7 1287.1 457.8 1283.2 459.3 1281.3C460.8 1279.3 464.3 1275.8 466.3 1274.3C468.2 1272.8 472.5 1270.2 474.1 1269.9z" fill="url(#g38)" stroke="url(#g38)" stroke-width="2.4" stroke-linejoin="round" filter="url(#txH)"/>
<path d="M399.9 1348.4C400.0 1347.1 401.3 1344.3 402.5 1343.1C403.7 1342.0 406.4 1340.7 408.6 1339.6C410.8 1338.6 416.1 1336.5 419.1 1335.3C422.1 1334.1 428.1 1331.9 431.3 1330.9C434.6 1329.9 440.5 1328.6 443.6 1327.8C446.6 1327.0 451.8 1325.6 454.0 1324.8C456.3 1324.1 459.1 1323.1 460.2 1322.2C461.2 1321.4 461.4 1318.5 461.9 1318.4C462.4 1318.3 463.8 1320.1 464.2 1321.3C464.5 1322.6 464.8 1325.6 464.5 1327.4C464.2 1329.3 463.1 1333.0 461.9 1335.3C460.7 1337.6 457.8 1342.5 455.8 1344.9C453.8 1347.2 449.6 1350.8 447.1 1352.7C444.5 1354.6 439.6 1357.8 436.6 1359.2C433.5 1360.5 427.4 1362.3 424.3 1362.6C421.3 1362.9 416.3 1362.2 413.9 1361.4C411.4 1360.7 407.6 1358.2 406.0 1357.1C404.4 1355.9 402.5 1353.9 401.6 1352.7C400.8 1351.6 399.8 1349.6 399.9 1348.4z" fill="url(#g39)" stroke="url(#g39)" stroke-width="2.4" stroke-linejoin="round" filter="url(#txH)"/>
<circle cx="457.2" cy="1304.8" r="1.3" fill="#c0b7cc"/>
<circle cx="459.8" cy="1314.7" r="1.3" fill="#c4bccd"/>
<circle cx="460.9" cy="1319.1" r="1.3" fill="#bbaecb"/>
<circle cx="451.4" cy="1149.4" r="1.3" fill="#ad9bc3"/>
<circle cx="478.1" cy="1172.0" r="1.3" fill="#9c86b8"/>
<path d="M208.4 1060.4V1378.8H527.4" stroke="#222" stroke-width="1.5" fill="none"/>
<line x1="203.9" y1="1134.9" x2="208.4" y2="1134.9" stroke="#222" stroke-width="1.5"/>
<text transform="translate(198.5 1146.1) scale(0.943 1)" font-size="35.5" text-anchor="end">10</text>
<line x1="492.2" y1="1378.8" x2="492.2" y2="1383.3" stroke="#222" stroke-width="1.5"/>
<text transform="translate(492.2 1414.5) scale(0.943 1)" font-size="35.5" text-anchor="middle">10</text>
<line x1="203.9" y1="1234.7" x2="208.4" y2="1234.7" stroke="#222" stroke-width="1.5"/>
<text transform="translate(198.5 1245.9) scale(0.943 1)" font-size="35.5" text-anchor="end">0</text>
<line x1="388.6" y1="1378.8" x2="388.6" y2="1383.3" stroke="#222" stroke-width="1.5"/>
<text transform="translate(388.6 1414.5) scale(0.943 1)" font-size="35.5" text-anchor="middle">0</text>
<line x1="203.9" y1="1334.5" x2="208.4" y2="1334.5" stroke="#222" stroke-width="1.5"/>
<text transform="translate(198.5 1345.7) scale(0.943 1)" font-size="35.5" text-anchor="end">−10</text>
<line x1="285.0" y1="1378.8" x2="285.0" y2="1383.3" stroke="#222" stroke-width="1.5"/>
<text transform="translate(275.5 1414.5) scale(0.943 1)" font-size="35.5" text-anchor="middle">−10</text>
<text transform="translate(407.3 1050.1) scale(0.955 1)" font-size="42" text-anchor="middle" font-weight="bold" font-style="italic">ITGAX</text>
<text transform="translate(143.9 1219.9) rotate(-90) scale(0.943 1)" font-size="36" text-anchor="middle">UMAP_2</text>
<text transform="translate(388.6 1451.8) scale(0.943 1)" font-size="36" text-anchor="middle">UMAP_1</text>
<rect x="547.7" y="1179.4" width="20.8" height="101.8" fill="url(#g40)"/>
<line x1="547.7" y1="1194.7" x2="551.9" y2="1194.7" stroke="#fff" stroke-width="1.3"/>
<line x1="564.3" y1="1194.7" x2="568.5" y2="1194.7" stroke="#fff" stroke-width="1.3"/>
<line x1="547.7" y1="1223.5" x2="551.9" y2="1223.5" stroke="#fff" stroke-width="1.3"/>
<line x1="564.3" y1="1223.5" x2="568.5" y2="1223.5" stroke="#fff" stroke-width="1.3"/>
<line x1="547.7" y1="1252.5" x2="551.9" y2="1252.5" stroke="#fff" stroke-width="1.3"/>
<line x1="564.3" y1="1252.5" x2="568.5" y2="1252.5" stroke="#fff" stroke-width="1.3"/>
<text x="573.7" y="1206.3" font-size="28.5">3</text>
<text x="573.7" y="1233.6" font-size="28.5">2</text>
<text x="573.7" y="1261.3" font-size="28.5">1</text>
<text x="573.7" y="1289.1" font-size="28.5">0</text>
<path d="M921.6 1082.5C922.2 1081.8 925.5 1080.9 926.9 1080.7C928.3 1080.6 930.5 1080.7 932.1 1081.6C933.8 1082.5 937.2 1085.7 939.1 1087.7C941.0 1089.7 944.2 1093.6 946.1 1096.4C948.0 1099.2 951.3 1105.4 953.1 1108.6C954.8 1111.9 957.7 1117.8 959.2 1120.8C960.7 1123.8 963.2 1128.5 964.4 1131.3C965.7 1134.1 967.8 1139.6 968.8 1141.7C969.9 1143.8 971.4 1146.1 972.3 1147.0C973.2 1147.8 975.6 1147.3 975.8 1147.8C976.0 1148.3 974.6 1149.7 974.0 1150.8C973.5 1151.8 972.4 1154.2 971.4 1155.7C970.5 1157.1 968.5 1160.6 967.1 1161.8C965.7 1163.0 962.6 1164.6 960.9 1164.7C959.3 1164.8 956.3 1163.6 954.8 1162.6C953.3 1161.7 950.6 1158.8 949.6 1157.4C948.5 1156.0 947.1 1153.8 947.0 1152.2C946.9 1150.6 948.4 1147.1 948.7 1145.2C949.1 1143.4 949.9 1140.3 949.6 1138.2C949.2 1136.2 947.0 1132.1 946.1 1129.5C945.2 1127.0 943.7 1121.9 942.6 1119.1C941.6 1116.3 939.6 1111.4 938.2 1108.6C936.8 1105.8 933.6 1100.6 932.1 1098.2C930.6 1095.7 928.2 1091.9 926.9 1090.3C925.6 1088.7 923.2 1087.0 922.5 1086.0C921.8 1084.9 921.1 1083.2 921.6 1082.5z" fill="url(#g41)" stroke="url(#g41)" stroke-width="2.4" stroke-linejoin="round" filter="url(#txM)"/>
<path d="M816.8 1167.9C817.3 1167.3 818.5 1166.2 820.3 1165.8C822.2 1165.3 828.0 1164.8 830.8 1164.4C833.6 1164.0 838.5 1163.5 841.3 1163.0C844.1 1162.5 849.0 1161.5 851.8 1160.5C854.6 1159.6 859.9 1157.1 862.3 1155.7C864.6 1154.2 867.4 1151.5 869.2 1149.6C871.1 1147.6 874.6 1142.8 876.2 1140.9C877.9 1138.9 880.3 1136.0 881.5 1134.8C882.6 1133.6 884.0 1132.0 885.0 1131.8C885.9 1131.6 887.4 1132.2 888.5 1133.0C889.5 1133.9 891.7 1136.4 892.8 1138.2C894.0 1140.1 896.1 1144.6 897.2 1147.0C898.2 1149.3 899.9 1153.3 900.7 1155.7C901.5 1158.0 902.8 1162.1 903.3 1164.4C903.8 1166.7 904.5 1170.8 904.5 1173.1C904.6 1175.4 904.1 1179.5 903.8 1181.8C903.5 1184.1 902.8 1188.9 902.4 1190.5C902.0 1192.1 901.4 1193.4 900.7 1193.7C900.0 1193.9 898.6 1192.8 897.2 1192.3C895.8 1191.7 892.5 1190.7 890.2 1189.7C887.9 1188.6 882.5 1185.7 879.7 1184.4C876.9 1183.1 872.0 1180.7 869.2 1179.7C866.4 1178.7 861.6 1177.5 858.8 1176.9C856.0 1176.4 851.1 1175.9 848.3 1175.7C845.5 1175.5 840.6 1175.4 837.8 1175.2C835.0 1175.0 829.6 1174.4 827.3 1174.0C825.0 1173.6 821.7 1172.8 820.3 1172.2C819.0 1171.7 817.7 1170.5 817.2 1170.0C816.7 1169.4 816.4 1168.4 816.8 1167.9z" fill="url(#g42)" stroke="url(#g42)" stroke-width="2.4" stroke-linejoin="round" filter="url(#txM)"/>
<path d="M1010.7 1167.0C1012.3 1166.0 1015.9 1164.3 1017.7 1164.0C1019.6 1163.8 1023.2 1164.5 1024.7 1165.3C1026.2 1166.0 1028.3 1168.1 1029.1 1169.6C1029.8 1171.1 1030.3 1174.5 1030.3 1176.6C1030.3 1178.7 1029.7 1183.0 1029.1 1185.3C1028.4 1187.6 1026.9 1191.7 1025.6 1194.0C1024.3 1196.3 1021.4 1200.4 1019.5 1202.7C1017.5 1205.0 1013.1 1209.2 1010.7 1211.4C1008.4 1213.6 1004.3 1217.2 1002.0 1219.3C999.7 1221.4 995.4 1225.5 993.3 1227.1C991.2 1228.7 988.1 1230.7 986.3 1231.5C984.4 1232.2 980.7 1233.0 979.3 1232.7C977.9 1232.3 976.6 1230.1 975.8 1228.9C975.0 1227.7 973.9 1224.9 973.5 1223.6C973.2 1222.4 972.6 1220.4 973.2 1219.3C973.7 1218.1 975.8 1216.3 977.5 1214.9C979.3 1213.5 983.9 1210.6 986.3 1208.8C988.6 1207.1 993.0 1203.7 995.0 1201.8C997.0 1200.0 1000.0 1196.9 1001.1 1194.9C1002.3 1192.9 1003.3 1189.2 1003.7 1187.0C1004.1 1184.8 1003.8 1180.4 1004.1 1178.3C1004.4 1176.2 1005.0 1172.9 1005.8 1171.4C1006.7 1169.8 1009.1 1168.0 1010.7 1167.0z" fill="url(#g43)" stroke="url(#g43)" stroke-width="2.4" stroke-linejoin="round" filter="url(#txM)"/>
<path d="M830.5 1210.6C830.8 1209.6 832.7 1209.3 833.4 1209.7C834.2 1210.0 834.8 1212.4 836.1 1213.2C837.3 1214.0 841.4 1215.7 843.0 1215.8C844.7 1215.9 847.1 1214.6 848.3 1214.0C849.4 1213.5 851.0 1211.3 851.8 1211.4C852.6 1211.6 853.7 1213.6 854.4 1214.9C855.1 1216.2 856.0 1219.4 857.0 1221.0C858.1 1222.6 860.4 1225.7 862.3 1227.1C864.1 1228.5 868.2 1230.5 871.0 1231.5C873.8 1232.4 879.7 1233.6 883.2 1234.1C886.7 1234.6 893.7 1235.1 897.2 1235.5C900.7 1235.8 906.4 1236.0 909.4 1236.7C912.4 1237.4 917.6 1239.8 919.9 1241.1C922.2 1242.3 925.7 1244.9 926.9 1246.3C928.1 1247.7 928.9 1249.9 929.2 1251.5C929.4 1253.1 929.2 1256.5 928.6 1258.5C928.1 1260.5 926.5 1264.1 925.1 1266.3C923.7 1268.5 920.5 1272.8 918.2 1275.0C915.8 1277.2 910.7 1281.1 907.7 1282.9C904.6 1284.7 898.7 1287.3 895.4 1288.5C892.2 1289.6 886.0 1291.2 883.2 1291.2C880.4 1291.3 876.3 1290.0 874.5 1289.0C872.6 1288.0 870.1 1285.3 869.2 1283.8C868.4 1282.2 868.3 1279.4 868.4 1277.7C868.5 1275.9 869.5 1272.8 870.1 1270.7C870.7 1268.6 872.9 1264.1 873.1 1262.0C873.3 1259.9 872.5 1257.0 871.9 1255.0C871.2 1253.0 869.6 1249.1 868.4 1247.2C867.1 1245.2 864.0 1241.6 862.3 1240.2C860.5 1238.8 857.4 1237.5 855.3 1236.7C853.2 1235.9 848.7 1235.0 846.5 1234.1C844.3 1233.2 840.4 1231.2 838.7 1229.7C836.9 1228.2 834.5 1224.5 833.4 1222.8C832.4 1221.0 831.2 1218.3 830.8 1216.7C830.4 1215.0 830.1 1211.5 830.5 1210.6z" fill="url(#g44)" stroke="url(#g44)" stroke-width="2.4" stroke-linejoin="round" filter="url(#txM)"/>
<path d="M750.5 1272.4C750.5 1270.3 750.8 1265.8 751.3 1263.7C751.9 1261.6 753.8 1258.0 754.8 1256.7C755.9 1255.5 758.0 1254.1 759.2 1254.1C760.4 1254.1 762.7 1255.5 763.6 1256.7C764.4 1258.0 765.0 1261.6 765.3 1263.7C765.7 1265.8 765.8 1269.9 766.2 1272.4C766.5 1275.0 767.2 1279.9 767.9 1282.9C768.6 1285.9 770.5 1292.1 771.4 1295.1C772.4 1298.1 774.5 1303.7 774.9 1305.5C775.3 1307.4 775.3 1308.3 774.6 1309.0C773.9 1309.8 770.9 1311.6 769.7 1311.3C768.4 1310.9 766.6 1308.1 765.3 1306.4C764.0 1304.7 761.5 1301.0 760.1 1298.6C758.7 1296.1 756.0 1290.7 754.8 1288.1C753.7 1285.6 751.9 1281.5 751.3 1279.4C750.8 1277.3 750.5 1274.5 750.5 1272.4z" fill="url(#g45)" stroke="url(#g45)" stroke-width="2.4" stroke-linejoin="round" filter="url(#txM)"/>
<path d="M772.3 1253.3C772.6 1252.4 774.6 1250.5 775.8 1249.8C777.0 1249.1 779.3 1247.9 781.0 1248.0C782.8 1248.1 786.7 1249.7 788.9 1250.6C791.1 1251.6 795.4 1253.8 797.6 1255.0C799.8 1256.2 803.5 1257.8 805.5 1259.4C807.5 1260.9 810.8 1264.5 812.5 1266.3C814.1 1268.2 816.2 1271.6 817.7 1273.3C819.2 1275.0 822.5 1277.9 823.8 1279.4C825.2 1280.9 827.2 1283.3 827.8 1284.6C828.5 1285.9 829.1 1288.0 828.5 1289.0C828.0 1290.0 825.4 1291.4 823.8 1291.9C822.3 1292.5 818.4 1293.4 816.8 1293.3C815.3 1293.3 813.3 1292.5 812.5 1291.6C811.7 1290.7 811.2 1288.0 810.7 1286.4C810.3 1284.7 810.0 1281.4 809.0 1279.4C807.9 1277.4 804.8 1273.5 802.9 1271.6C800.9 1269.6 796.5 1266.2 794.1 1264.6C791.8 1263.0 787.6 1260.4 785.4 1259.4C783.2 1258.3 779.2 1257.2 777.5 1256.7C775.9 1256.3 773.9 1256.3 773.2 1255.9C772.5 1255.4 771.9 1254.1 772.3 1253.3z" fill="url(#g46)" stroke="url(#g46)" stroke-width="2.4" stroke-linejoin="round" filter="url(#txM)"/>
<path d="M1000.6 1179.7C1001.3 1179.8 1003.2 1181.7 1003.4 1182.7C1003.6 1183.7 1002.9 1186.3 1002.3 1187.4C1001.8 1188.4 1000.1 1190.0 999.2 1190.5C998.3 1191.1 996.1 1191.8 995.4 1191.6C994.6 1191.4 993.5 1189.9 993.6 1189.1C993.8 1188.3 995.8 1186.6 996.4 1185.6C997.1 1184.7 997.9 1182.9 998.5 1182.2C999.1 1181.4 999.9 1179.6 1000.6 1179.7z" fill="url(#g47)" stroke="url(#g47)" stroke-width="2.4" stroke-linejoin="round" filter="url(#txM)"/>
<path d="M997.6 1268.9C999.3 1268.7 1000.8 1270.4 1002.0 1271.6C1003.2 1272.7 1005.3 1275.9 1006.4 1277.7C1007.4 1279.4 1009.2 1282.9 1009.9 1284.6C1010.5 1286.4 1011.3 1289.1 1011.1 1290.7C1010.8 1292.3 1009.2 1295.3 1008.1 1296.8C1007.0 1298.3 1004.6 1300.9 1002.9 1302.0C1001.1 1303.2 997.0 1304.8 995.0 1305.2C993.0 1305.5 989.9 1305.2 988.0 1304.7C986.2 1304.1 982.5 1302.5 981.0 1301.2C979.6 1299.9 977.5 1296.8 977.2 1295.1C976.8 1293.3 977.7 1290.1 978.4 1288.1C979.2 1286.1 981.3 1282.2 982.8 1280.3C984.3 1278.3 987.8 1274.8 989.8 1273.3C991.7 1271.8 996.0 1269.2 997.6 1268.9z" fill="url(#g48)" stroke="url(#g48)" stroke-width="2.4" stroke-linejoin="round" filter="url(#txG)"/>
<path d="M923.4 1347.4C923.5 1346.1 924.8 1343.3 926.0 1342.1C927.2 1341.0 929.9 1339.7 932.1 1338.6C934.3 1337.6 939.6 1335.5 942.6 1334.3C945.6 1333.1 951.6 1330.9 954.8 1329.9C958.1 1328.9 964.0 1327.6 967.1 1326.8C970.1 1326.0 975.3 1324.6 977.5 1323.8C979.8 1323.1 982.6 1322.1 983.7 1321.2C984.7 1320.4 984.9 1317.5 985.4 1317.4C985.9 1317.3 987.3 1319.1 987.7 1320.3C988.0 1321.6 988.3 1324.6 988.0 1326.4C987.7 1328.3 986.6 1332.0 985.4 1334.3C984.2 1336.6 981.3 1341.5 979.3 1343.9C977.3 1346.2 973.1 1349.8 970.6 1351.7C968.0 1353.6 963.1 1356.8 960.1 1358.2C957.0 1359.5 950.9 1361.3 947.8 1361.6C944.8 1361.9 939.8 1361.2 937.4 1360.4C934.9 1359.7 931.1 1357.2 929.5 1356.1C927.9 1354.9 926.0 1352.9 925.1 1351.7C924.3 1350.6 923.3 1348.6 923.4 1347.4z" fill="url(#g49)" stroke="url(#g49)" stroke-width="2.4" stroke-linejoin="round" filter="url(#txG)"/>
<circle cx="980.7" cy="1303.8" r="1.3" fill="#c0b7cc"/>
<circle cx="983.3" cy="1313.7" r="1.3" fill="#c4bccd"/>
<circle cx="984.4" cy="1318.1" r="1.3" fill="#bbaecb"/>
<circle cx="974.9" cy="1148.4" r="1.3" fill="#ad9bc3"/>
<circle cx="1001.6" cy="1171.0" r="1.3" fill="#9c86b8"/>
<path d="M732.3 1059.4V1377.8H1051.6" stroke="#222" stroke-width="1.5" fill="none"/>
<line x1="727.8" y1="1133.9" x2="732.3" y2="1133.9" stroke="#222" stroke-width="1.5"/>
<text transform="translate(722.5 1145.1) scale(0.943 1)" font-size="35.5" text-anchor="end">10</text>
<line x1="1015.7" y1="1377.8" x2="1015.7" y2="1382.3" stroke="#222" stroke-width="1.5"/>
<text transform="translate(1015.7 1416.1) scale(0.943 1)" font-size="35.5" text-anchor="middle">10</text>
<line x1="727.8" y1="1233.7" x2="732.3" y2="1233.7" stroke="#222" stroke-width="1.5"/>
<text transform="translate(722.5 1244.9) scale(0.943 1)" font-size="35.5" text-anchor="end">0</text>
<line x1="912.1" y1="1377.8" x2="912.1" y2="1382.3" stroke="#222" stroke-width="1.5"/>
<text transform="translate(912.1 1416.1) scale(0.943 1)" font-size="35.5" text-anchor="middle">0</text>
<line x1="727.8" y1="1333.5" x2="732.3" y2="1333.5" stroke="#222" stroke-width="1.5"/>
<text transform="translate(722.5 1344.7) scale(0.943 1)" font-size="35.5" text-anchor="end">−10</text>
<line x1="808.5" y1="1377.8" x2="808.5" y2="1382.3" stroke="#222" stroke-width="1.5"/>
<text transform="translate(799.0 1416.1) scale(0.943 1)" font-size="35.5" text-anchor="middle">−10</text>
<text transform="translate(928.6 1049.2) scale(0.955 1)" font-size="42" text-anchor="middle" font-weight="bold" font-style="italic">ITGAM</text>
<text transform="translate(669.7 1217.7) rotate(-90) scale(0.943 1)" font-size="36" text-anchor="middle">UMAP_2</text>
<text transform="translate(911.7 1454.3) scale(0.943 1)" font-size="36" text-anchor="middle">UMAP_1</text>
<rect x="1080.0" y="1171.9" width="20.7" height="101.4" fill="url(#g50)"/>
<line x1="1080.0" y1="1201.2" x2="1084.2" y2="1201.2" stroke="#fff" stroke-width="1.3"/>
<line x1="1096.5" y1="1201.2" x2="1100.7" y2="1201.2" stroke="#fff" stroke-width="1.3"/>
<line x1="1080.0" y1="1237.3" x2="1084.2" y2="1237.3" stroke="#fff" stroke-width="1.3"/>
<line x1="1096.5" y1="1237.3" x2="1100.7" y2="1237.3" stroke="#fff" stroke-width="1.3"/>
<text x="1105.3" y="1209.4" font-size="28.5">2</text>
<text x="1105.3" y="1243.4" font-size="28.5">1</text>
<text x="1105.3" y="1277.3" font-size="28.5">0</text>
<line x1="1214.8" y1="1165.8" x2="1878.3" y2="1165.8" stroke="#111" stroke-width="2.2"/>
<line x1="1214.8" y1="1374.0" x2="1878.3" y2="1374.0" stroke="#111" stroke-width="2.2"/>
<text x="1343.9" y="1134.8" font-size="34" text-anchor="middle">Gene</text>
<text x="1667.0" y="1118.7" font-size="34" text-anchor="middle">Percentage of positively</text>
<text x="1671.4" y="1151.6" font-size="34" text-anchor="middle">expressed cells</text>
<text x="1352.0" y="1205.0" font-size="34" text-anchor="middle"><tspan font-style="italic">AIF1</tspan><tspan>(IBA1)</tspan></text>
<text x="1351.6" y="1246.9" font-size="34" text-anchor="middle"><tspan font-style="italic">APOE</tspan></text>
<text x="1350.3" y="1285.4" font-size="34" text-anchor="middle"><tspan font-style="italic">TREM2</tspan></text>
<text x="1351.4" y="1321.7" font-size="34" text-anchor="middle"><tspan font-style="italic">ITGAX(</tspan><tspan>CD11c</tspan><tspan font-style="italic">)</tspan></text>
<text x="1352.0" y="1360.9" font-size="34" text-anchor="middle"><tspan font-style="italic">ITGAM(</tspan><tspan>CD11b</tspan><tspan font-style="italic">)</tspan></text>
<text x="1674.5" y="1205.0" font-size="34" text-anchor="middle"><tspan font-style="italic">95.40%</tspan></text>
<text x="1674.5" y="1244.3" font-size="34" text-anchor="middle"><tspan font-style="italic">99.90%</tspan></text>
<text x="1674.5" y="1282.8" font-size="34" text-anchor="middle"><tspan font-style="italic">95.20%</tspan></text>
<text x="1674.5" y="1321.7" font-size="34" text-anchor="middle"><tspan font-style="italic">73.40%</tspan></text>
<text x="1674.5" y="1360.9" font-size="34" text-anchor="middle"><tspan font-style="italic">62.00%</tspan></text>
<text x="2.5" y="1581.0" font-size="57" font-weight="bold">d</text>
<path d="M180.3 1999.4l7.3-11.7l3-3.3l7.3-6.4l1.5-3.7l.3-2.9l-.3-8.9l-4-29.3l-2.6-27.9l-1.6-24.9l-.7-33.7l.8-35.3l1.7-46.9l1.9-22l1.7-13.2l.3-8.8l.9-3l4.6-5.8l.6-1.5l-.1-1.5l-.9-1.4l-5.3-5.9l-2.7-4.4M389.9 1697.0l-1.7 2.9l-3.6 3.3l-10.3 6.7l-7.3 3.9l-7.4 3l-13.2 4.2l-27.4 6.8l-5.8 2.9l-2.8 3l-1.5 4.4l-.1 4.4l4.3 41.1l.9 4.4l3.2 7.3l4.2 5.5l4.4 2.9l5.9 1.6l11.8 .3l17.6-1.4l17.6 .2l30.9 1.7l26.5 2.9l45.5 7.5l22.1 5.6l16.1 5.9l3 .3l1.5-.4l1.4-1l1.5-2l1.5-3.7l.9-3.9l5.8-45.5l2.9-13.2l3.1-10.2l4.6-11.8l4.4-7.3l4.7-5.1l3-1.8l2.9-.8M561.0 1946.0l-4.4-1.8l-5.9-6.3l-5.7-9.1l-7.5-17.7l-3-5.5l-2.9-2.7l-2.9-.3l-3 1.4l-5.9 4.8l-14 14.1l-6.5 6l-32.4 25.7l-11.7 8.2l-5.9 3.5l-13.2 5.9l-11.8 4.4l-20.6 5.4l-27.9 8.8l-8.8 1.7l-16.2 .8l-10.3-.3l-20.6-1.4l-22-2.1l-17.6-2.8l-8.9-.2l-8.8 1.5l-12 5.4l-4.9 1.4l-8.1 1.4l-14.7 1.4l-6.9 1.6l-1.8 1.5l-.6 2.9l5.8 26.5l2.5 16.1l1.3 17.6l.1 13.2M561.0 1931.7l-2.9-.7l-3-1.7l-4.7-4.9l-4.8-8.8l-6.6-17.6l-3-6.4l-2.9-4.7l-1.5-1.4l-1.5-.7l-1.4-.1l-3 1.4l-2.9 2.8l-13.3 16.4l-12.5 13.2l-25.7 21.6l-13.2 9.7l-14.7 9.1l-8.8 4.3l-14.7 6l-19.1 5.2l-22.1 8.2l-5.8 1.5l-7.4 1.1l-14.7 .4l-27.9-1.1l-29.4-4.3l-14.7-3.6l-8.8-.7l-5.9 .5l-8.7 2.3l-14.8 6.8l-10.3 3.2l-10.3 1.5l-3-.3l-1.4-.7l-4.4-4.2l-3.4-6.3l-2.1-7.3l-4.3-22l-2.5-17.7l-1.8-19l-2-35.2l-.4-30.8l2.8-66.1l1-16.1l4.2-33.8l.6-8.8l.6-2.9l.9-1.5l2-2l5.3-3.8l1.6-1.5l.5-1.5l-.4-1.4l-1.2-1.5l-6-5.9l-1.9-2.9M376.3 1697.0l-2.5 2.9l-6.8 5.5l-8.8 5l-8.9 3.7l-8.8 3l-21.9 4.8l-10.2 3l-5.6 2.9l-2 1.9l-1.5 2.5l-.7 2.9l0 4.4l1.5 11.8l.7 13.9l1.4 12.5l.4 11.7l1.2 8.8l4.3 17.6l1 3l1.9 2.9l1.6 1.5l4.4 2.3l4.4 .1l10.3-4.4l5.9-1.6l30.8-3.7l28 .1l22 1.7l13.3 2.4l16.1 1.7l13.2 2.6l13.3 1.3l14.7 3l8.8 2.4l8.8 3.1l16.2 8.5l2.9 .4l1.5-.5l1.5-1.5l1.4-3l2.6-10.5l1.5-11.8l1.3-16.1l2.7-19.1l1.9-10.2l2.7-10.3l4.1-10.3l5.3-9l4.4-4.8l4.4-1.9M180.3 2012.4l7.3-12.4l4.5-4.5l2.9-1.3l2.9 0l3 1.2l3.5 3.8l3.8 7.5l2.8 7.2l3.7 13.2l3 13.2l1.9 16.2l.4 20.5M366.7 1697.0l-2.1 2.9l-5 4l-13.2 7l-8.8 3l-28 6.2l-6.5 1.8l-6.7 3.1l-2.9 2.7l-1.5 2.5l-.9 3.5l-.1 4.4l2.2 13.2l.5 13.2l1.2 13.2l-.1 13.2l1.9 17.6l-1 23.5l-1.3 13.2l.6 4l1.4 2.6l3.3 2.2l7 1.5l5.9 0l4.4-1.1l4.4-2.1l8.8-6.1l7.4-4l7.3-6.6l4.4-3.1l10.3-4.1l8.8-1.8l22.1-1.4l8.8 .1l16.2 1.6l13.2 1.9l16.2 1.1l14 2.1l16.8 1.6l5.9 1.2l8.8 2.6l14.7 5.5l6.6 3.8l6.6 5.8l2.4 3l1.6 2.9l.7 4.4l-2.7 11.7l-2.3 5.9l-5.8 8.8l-12.4 16.1l-4.9 5.6l-8.9 8.2l-8.8 7.1l-12.9 11.4l-7.7 5.9l-17.6 10.8l-5.9 2.9l-16.1 6.4l-19.9 6.3l-18.4 7.7l-7.3 1.9l-7.4 .6l-38.2-.6l-10.3-1.5l-13.2-3.2l-10.3-1.4l-14.7-3.8l-5.9-.9l-5.8-.2l-5.9 .9l-5.9 1.7l-13.2 5.6l-8.9 3l-5.8 1.4l-5.9 .8l-3-.5l-1.4-.9l-3-3.2l-1.4-2.5l-3.3-9.3l-3.4-14.7l-2.6-16.1l-2.1-22l-2-39.6l-.1-26.4l3.7-71.9l.9-10.3l4.9-33.8l.6-8.8l.8-2.9l1.1-1.5l2.9-2.2l9.7-5.1l.9-1.5l-.5-1.4l-8.1-7.4l-1.9-2.9M561.0 1922.9l-4.4-1.3l-2.9-2.4l-3-3.9l-3.5-7l-10.8-29.4l-1.5-5.8l-2.1-14.7l5.4-58.7l2.7-17.6l1.8-8.8l4-13.2l3.8-7.3l3.2-4.1l2.9-2.7l4.4-1.9M180.3 2020.0l7.3-11.5l3-3.4l2.9-2l3-.5l2.9 1.1l2.9 2.5l2.5 3.3l3 5.9l2.7 7.3l2.9 10.3l2.8 11.7l1.5 16.2l.2 16.1M360.0 1697.0l-2.3 2.9l-4 3l-7.3 4.1l-5.9 2.6l-17.6 4.7l-17.7 3.4l-9 2.8l-5.7 3.2l-2.6 2.6l-1.7 3l-1.2 4.4l-.1 4.4l2.7 16.1l1.1 23.5l-.1 11.7l1.2 17.6l-2.1 20.6l-2.9 13.2l-.4 7.3l1.2 10.3l1 2.9l1.8 3l3.6 2.8l3 .9l2.9 .2l11.7-1.7l11.8-2.6l12.6-4l6.5-3.1l4.4-3.3l8.8-8.7l5.9-3.7l4.4-2.2l4.4-1.1l19.2-2.2l16.1-.2l10.3 .7l13.2 .1l47.1 4l5.9 1.2l14.7 5.9l5.8 3.1l4.4 3.2l3 3.1l1.9 3.2l1.5 4.4l.4 4.4l-.8 5.8l-1.8 4.4l-12.1 19.1l-3.8 5.3l-10.8 10.8l-28.5 25l-19.5 12l-10.3 4.6l-27.9 9.9l-19.1 8.2l-5.9 1.6l-7.4 .4l-33.8-.5l-5.9-.5l-8.8-1.6l-12-3.3l-13-2.4l-16.1-4.5l-5.9-.9l-5.9 .2l-7.3 1.5l-7.4 2.5l-14.7 6l-8.8 2l-4.4 .4l-3-.6l-2.9-2.6l-1.5-2.4l-2.9-7.7l-3.2-12l-1.7-8.8l-1.2-10.3l-2.1-25l-1.4-32.2l0-25l4.4-74.8l4-27.9l2.7-14.7l.9-10.2l.7-1.5l2.8-2.4l11.8-4.9l2.6-1.5l1-1.5l-.5-1.4l-9.2-7.4l-2.2-2.9M561.0 1916.3l-4.4-1.6l-2.9-2.9l-3.9-6.5l-3.9-8.8l-4.5-13.2l-1.8-7.3l-1.9-13.2l-.7-10.3l.4-16.1l2.6-32.3l1.3-10.3l2.7-14.6l3.8-12.6l3.6-8l2.3-3.1l2.9-2.7l4.4-1.7M180.3 2026.2l7.3-11.7l3-3l2.9-1.7l3-.5l2.9 1.1l2.4 2l2 2.7l2.6 4.7l2.4 5.8l5.5 19.1l1.5 14.7l.2 17.6M354.1 1697.0l-2.6 2.9l-4.3 3l-5.2 2.8l-4.4 1.7l-16.2 4.7l-19.1 3.2l-10.3 3l-3.8 2.2l-3.6 2.9l-2.5 2.9l-1.5 3l-1.1 4.4l-.2 4.4l3.1 19.1l1.3 45.4l-2.4 22l-3.3 14.7l-.6 5.9l1.4 20.5l.8 3l2.1 3.3l4.4 3.4l5.9 2.2l4.4 .7l5.9-.6l16.2-5.3l12-2.3l8.5-2.3l5.9-2.8l10.3-7.3l10.3-4.8l10.3-2.6l11.8-4.6l10.2-1.3l13.3 1l13.2-1l29.4 .8l22 2.9l5.9 1.7l4.4 1.9l10.4 6.7l4.3 4.4l1.4 2.9l.5 3l-1.1 5.8l-3.1 7.4l-5 9.7l-5.5 7.9l-6.2 7.3l-13.3 13.8l-18.3 15.6l-17 10.7l-8.8 4.4l-27.9 10.3l-19.1 8.4l-5.9 1.6l-5.9 .3l-20.6-.2l-20.6-1.1l-32.4-8l-17.5-6l-5.9-.9l-7.4 .5l-10.2 2.6l-8.9 2.9l-10.3 4.6l-4.4 1.1l-8.8 .2l-2.9-1.8l-2.2-3.2l-2.4-5.9l-3.3-11.7l-1.4-8.8l-1.4-13.3l-1.3-16.1l-.4-20.5l-.9-13.2l0-26.4l4.7-71.9l4.5-27.9l3.2-14.7l1.4-11.7l.9-1.5l3-2.1l14.6-5.2l3.3-1.5l.8-1.5l-1-1.4l-1.9-1.5l-8.4-5.9l-2.4-2.9M561.0 1910.5l-2.9-1l-1.5-1.1l-4.4-5.7l-3.8-7.6l-4.3-11.8l-1.8-7.3l-2.3-16.1l-.6-20.6l2.6-36.7l3.6-20.5l3.6-11.1l3.8-8l3.6-4.3l1.5-1.1l2.9-.9M180.3 2031.9l5.9-10.7l2.9-3.5l3-2l2.9-.9l2.9 .5l1.5 .8l2.9 2.7l3 4.6l2.3 5.2l3 8.8l2.3 8.8l1.5 14.7l0 16.1M348.1 1697.0l-2.7 2.9l-4.9 3l-14.7 5.3l-8.8 2.2l-23.5 3.6l-7.1 2.1l-3.2 2.3l-5.2 5l-2.8 4.4l-1.3 4.4l-.4 5.9l.6 5.8l2.4 10.3l.6 4.4l-.1 13.2l1 27.9l-3.8 29.3l-3.2 14.7l.2 14.7l-.5 10.3l.7 6l1.1 2.8l1.9 2.7l4.4 3.8l5.9 2.7l7.3 1.6l5.9-.3l22.3-7.6l13-2.7l7.3-2.2l5.9-2.5l11.8-6.8l4.4-1.9l14.7-2.7l8.8-4.1l4.4-1.5l5.9-1.1l5.9-.5l14.7-.3l8.8 .4l10.3-.5l17.6 0l5.9 .6l17.6 3.9l5.9 2.4l6.9 4.8l1.7 3l.3 2.9l-1.7 7.3l-3.1 7.4l-10.2 14.6l-11.4 14.7l-3.1 3.1l-8.8 7l-8.4 7.5l-12.9 8.8l-11 6l-26.5 10l-13.2 6.4l-5.9 2.2l-7.4 1.3l-10.2-.2l-10.3 .5l-17.7-1.1l-8.8-1.5l-21.5-6l-13.8-5.2l-10.3-4.6l-10.2-2.1l-5.9 .5l-17.7 6.4l-10.3 4.5l-4.4 1.2l-7.3 .2l-3-.9l-2.4-2.9l-2-4l-2.2-6.3l-1.3-5.8l-2.1-17.7l-1.2-16.1l-.3-20.5l-1.1-17.6l0-23.5l2.5-27.9l2.1-35.2l1-8.8l4.5-24.9l3.9-14.7l2.2-13.2l2.3-2.3l4.5-2.1l7.3-2.2l12.6-2.2l1.5-1.5l-1.1-1.5l-2.3-1.4l-10.7-6.3l-3.1-2.5l-1-1.5M561.0 1904.3l-2.9-1.1l-1.5-1.2l-2.9-3.7l-3.9-7.6l-3.9-10.3l-3.8-22l-.7-20.6l1-19l1.2-13.2l1.6-11.8l1.9-8.8l2.5-7.3l4.1-8.3l4-4.9l3.3-1.6M180.3 2037.7l5.9-11.8l4.4-4.8l2.9-1.3l3-.1l2.9 1.3l2.9 2.8l2.2 3.3l2.6 5.9l3 8.8l1.5 5.9l1.3 13.2l0 16.1M343.1 1697.0l-2.6 2.6l-4.4 2.4l-16.2 5.6l-30.8 4.4l-13.2 2.6l-1 1.5l0 2.9l-4.4 7.3l-1.7 5.9l-.4 5.9l.5 5.8l3.3 14.7l-.4 11.8l1.1 14.6l0 13.2l-2.2 16.2l-1.3 14.6l-3.7 17.7l-.3 13.2l-1 13.2l1.2 7.5l1.4 3.5l2.5 3.6l7.8 9.8l1.5 1.2l2.9 .9l11.8-.6l3.3-1l11.4-5.7l10.3-2.8l8.8-3.9l16.2-5.2l11.5-4.4l9-4.4l4.4-.9l8.9-.6l11.7-4.2l11.8-3l5.9-.8l17.6 .9l11.8-1.2l8.8 .8l10.3 .4l8.8 1.2l7.3 1.9l5.4 2.6l2.9 2.9l.7 1.5l.4 2.9l-1.5 7.3l-3.3 7.4l-4.4 7.3l-9 12.9l-19.1 17.3l-16.5 12.4l-11.4 6.1l-8.8 3.8l-11.8 4l-19.1 8.7l-7.4 1.3l-22 .5l-7.4-.4l-11.7-1.6l-22.1-6.3l-17.2-7.3l-12.2-7.8l-8.8-2.6l-4.4-.1l-4.4 1.2l-8.8 4.8l-7.4 3l-10.3 5.1l-4.4 1.3l-5.8 .3l-3-.6l-2.9-2.5l-2.7-5.1l-1.4-4.4l-1-5.8l-2.5-25l-.3-23.5l-1.4-16.1l-.3-20.5l1.1-17.7l2.1-17.6l2.5-36.6l5.1-27.9l4.8-16.2l2.7-13.2l.5-1.4l1.4-1.5l2.6-1.5l5.9-2l23.9-2.4l3.3-1.4l-19.9-9.2l-4-2.6l-2.8-2.9M561.0 1899.0l-2.9-1.3l-3-3.1l-4.4-8.3l-2.9-7.4l-4.1-22l-.7-20.5l1.4-23.5l2.1-16.1l1.8-8.8l2.4-7.1l3-5.6l4.4-5l2.9-1.3M180.3 2043.1l5.8-13l2.1-3l2.4-2.3l2.9-1.4l3 0l2.9 1.4l1.5 1.3l1.9 2.5l2.5 4.6l3.3 8.6l1.6 5.9l1.4 13.2l0 16.1M337.7 1697.0l-1.3 1.5l-4.7 2.5l-13.2 4.6l-25 3.4l-13.2 1l-8.9-.7l-17.6-4.2l-8.8-3.8l-4.1-2.8l-1.1-1.5M230.3 1946.8l-4.4 .9l-5.9 0l-3-1.4l-1.4-1.8l-1.5-3.4l-.8-3.5l-2.3-19.1l-1.1-14.6l.1-16.2l-1.9-19l-.2-19.1l1-14.7l2.5-19.1l.9-16.1l1.9-19.1l5.8-29.2l5.2-14.8l3.5-14.7l.6-1.4l1.6-1.5l2.3-1.1l4.4-1l22.1-.1l4.4 1.1l1.8 1.1l.7 1.5l-3.1 8.8l-.8 7.3l.9 7.3l2.7 13.3l0 14.6l1.4 16.2l-1 19l-2.4 19.1l-4 22l-.6 11.8l-1.5 13.2l.3 8.8l1.2 7.4l2.4 10.2l.2 5.8l-1 4.4l-4.1 10.3l-1.3 7.3l-2.4 4.4l-3.1 3l-5.9 4.4zM561.0 1893.3l-2.9-1.5l-3-3.7l-3.5-6.2l-2.1-5.9l-3.9-19.1l-1-20.5l1.2-22l2.3-16.2l1.5-7.3l2.6-7.3l2.5-4.4l3.4-3.4l2.9-1.1M367.0 1961.1l-23.5 .3l-14.7-2l-7.4-2.1l-16.2-6l-13.5-6.3l-3.4-3l-2.2-2.9l-2.2-4.4l-.8-3l-.1-2.9l.9-8.8l1.8-5.9l1.9-2.9l2.9-1.9l8.9-3l11.5-6.8l10.5-3.3l10.3-5.6l16.2-6l10.6-2.7l11.4-3.9l25-3.2l14.7-3.7l14.7-.8l10.3-1.2l26.4 2.7l4 1.3l2 1.4l1.6 3l.4 2.9l-.6 5.9l-1.7 4.4l-7 13.2l-2.1 2.9l-15.7 15.8l-8.8 6.2l-8.8 7.8l-11.8 7.5l-7.3 3.4l-10.3 3.5l-17.6 8l-4.4 1.4zM180.3 2049.1l4.4-12.1l2.1-4l2.3-3.1l1.5-1.4l2.9-1.5l3 0l2.9 1.6l2.6 2.9l1.8 3.2l3.1 7.1l1.8 5.9l1.5 11.7l0 17.6M332.4 1697.0l-1.6 1.5l-3.5 1.8l-10.3 3.6l-22 2.9l-13.3 .9l-10.3-.7l-14.7-3.2l-8.8-3.4l-2.9-1.9l-1.1-1.5M228.8 1939.4l-8.8 .1l-1.5-.8l-1.7-4l-2.8-14.7l-1.5-11.7l-.1-20.6l-2-13.2l-.6-8.8l0-20.5l.9-10.3l2.5-17.6l1.1-17.6l1.9-16.1l5-25l3.2-10.2l5.1-11.8l4-14.7l1-1.4l1.7-.8l2.4-.7l3.4 0l13.3 1.3l1.5 1.6l-1.5 1.8l-3.5 2.6l-.7 1.5l.2 1.5l4 6.3l2.4 5.4l1.2 4.4l2 11.8l.7 19l1 11.8l-.1 19l-1.1 8.8l-3.2 15.2l-2.3 17.1l-1.1 13.2l-3 14.7l-.6 11.7l-1.7 13.2l-3.8 19.1l-2.2 5.3l-5.8 7.9l-4.5 4.1zM561.0 1887.4l-2.9-1.7l-3-3.4l-2-3.4l-1.7-4.4l-4.4-19l-.9-19.1l1.2-22l3.4-20.6l2-5.8l2.4-4.5l3-3.1l2.9-1.2M361.1 1958.2l-17.6-.3l-14.7-2.2l-7.4-2.6l-16.2-7.5l-6.4-3.6l-3.9-2.9l-1.4-2.2l-.6-2.2l1.1-13.2l1-3l1.4-1.7l3-2l8.2-3.6l8.1-5.9l10.1-4.4l10.3-6l14.7-6l10.3-2.1l12.7-3.5l7.9-.7l8.8 1.3l4.4-.1l7.4-1.8l11.7-4.7l5.9-1l10.3-.7l5.9 .3l8.8 1.8l5.9 2l3.5 2.2l1.1 1.4l.7 3l-3.3 14.6l-3.5 5.9l-8.4 10.3l-3 2.9l-7.7 5.5l-6.8 6.2l-7.2 5.9l-8.1 5.1l-13.2 5.2l-19.1 8.3l-5.9 1.5zM180.3 2055.3l4.8-15l2.1-4.4l1.9-2.6l1.5-1.5l2.9-1.6l3 .1l2.3 1.2l2.1 2.1l2.9 5.1l3.9 10.4l1.4 11.8l-.1 16.1M327.3 1697.0l-1.7 1.5l-2.8 1.4l-8.7 2.7l-19.1 2.4l-13.3 .8l-10.3-.7l-11.7-2.4l-8-2.8l-2.6-1.4l-1.4-1.5M230.3 1925.0l-1.5 .2l-1.5-.7l-4.4-3.4l-2.9-1.6l-2.1-2.4l-1.6-4.4l-1.4-10.3l.2-13.2l-2.5-11.7l-.9-7.4l-.5-10.2l.2-13.2l.8-10.3l2.9-19.1l1.5-20.5l2.2-14.7l4.2-19.1l2.9-8.4l4.4-9.1l4.4-5.7l2.9-1.8l1.5 0l8.8 3.1l2.5 1.4l1.9 2l1.5 3.3l2.9 13.5l.6 4.7l1.5 41l-.7 5.9l-3.8 16.1l-3 29.4l-1.1 4.4l-4.5 13.2l-2.3 20.5l-1.4 4l-3.1 6.3l-1.5 8.8l-1 2.9l-3.2 4.2zM561.0 1881.7l-2.9-1.3l-2.7-2.9l-1.7-3.5l-1.5-4.5l-3.6-14l-1.2-19.1l1.1-20.6l3.8-20.5l1.4-4.4l2.6-4.4l1.8-1.7l2.9-1.3M362.6 1955.3l-7.4 .1l-8.8-.6l-11.8-1.5l-5.8-1.3l-7.4-3.4l-10.6-6.6l-3.7-2.9l-2.5-2.9l-1.3-3l-.1-4.4l.6-3.4l1.4-2.6l5.9-4.5l5.9-5.6l4.4-3l11-4.4l8.7-5.8l6.8-3.9l7.3-2.6l23.5-4.3l13.3 1.4l4.4-.3l8.8-2.5l10.3-4.8l5.9-1.3l7.3 .1l8.8 1.3l4.4 1.3l3.5 2.4l1.5 2.9l.1 5.9l-1.3 5.8l-2.2 4.4l-8.9 11.7l-8 5.9l-12.2 11.8l-3.9 2.9l-5.3 3.1l-22.1 9.6l-10.2 3.7zM180.3 2063.3l3.2-14.2l4-10.2l1.6-2.5l3-2.6l1.4-.6l3 .1l2.9 2l1.7 2.1l3.1 5.9l2.1 5.8l1.2 5.9l.5 5.9l-.1 16.1M322.6 1697.0l-1.9 1.5l-2.2 .9l-5.9 1.6l-17.6 2.3l-11.8 .6l-8.8-.3l-8.8-1.3l-8.7-2.4l-3.3-1.4l-1.8-1.5M228.8 1908.9l-1.5 .5l-1.4-.2l-3-1.3l-1.6-1.1l-1.6-2.9l-.7-4.4l0-8.8l-3.8-10.3l-1.7-8.8l-.7-10.3l.2-16.1l.9-8.8l2.9-17.6l1.5-20.6l3.2-17.8l4.2-15.9l1.6-4l3-4.3l2.9-2.7l3-1.4l1.4 0l7.4 1l1.4 .5l3 2.9l2.9 5.9l1.3 6.5l.1 10.3l1.7 29.3l-4.4 19.1l-1.2 8.8l-.7 13.2l-1.2 7.3l-6 14.7l-2.3 10.3l-2.1 13.2l-1.4 2.9l-5.8 9.3zM561.0 1877.1l-2.9-1.4l-1.5-1.7l-1.9-3.9l-3.1-8.8l-2.1-10.2l-.8-14.7l1.2-20.6l3.8-17.8l1.4-4.6l1.5-2.7l1.5-1.6l2.9-1.4M364.0 1952.4l-5.8 .4l-5.9-.3l-20.6-3.5l-7.4-3.2l-7.6-5.2l-3.3-4.4l-.4-4.5l1.3-4.4l2.2-4.4l2.1-2.9l2.8-2.6l4.4-2.6l11.8-4.7l2.9-1.9l8.8-7.3l5.9-2.5l4.4-.7l11.8-.5l26.4-2.3l7.4-1.9l11.8-5l4.4-1.1l4.4 .2l8.8 1.5l1.8 .6l2.1 1.5l1.3 2.9l.1 2.9l-1 4.4l-2.2 4.4l-6.1 8.8l-7.8 6l-6.9 8.7l-3.4 3.3l-7.3 5l-17.6 8.8l-13.3 4.7zM180.6 2077.0l.3-7.3l1.5-10.3l2.8-11.7l2.4-5.9l2-2.9l2.5-2.3l2.9-.8l2.9 1.2l2.9 3.3l3 5.5l1.5 4.1l1.6 11l-.1 16.1M317.4 1697.0l-3.3 1.6l-11.8 2.2l-8.8 1l-10.3 .3l-8.8-.2l-5.9-.7l-7.4-1.9l-2.4-.8l-2.2-1.5M230.3 1887.9l-3 .3l-2.9-1l-2.9-1.7l-3-3.3l-1.6-3.3l-1.3-4.8l-.9-8.4l0-20.5l.9-8.8l3-16.2l1.4-20.4l2.9-16.2l5.7-16.2l1.5-2.9l3.1-2.6l3-.4l4.4 .5l3.5 1l2.3 1.8l1.6 2.6l.8 3l2.3 16.1l1.3 20.5l-.7 4.4l-3 10.3l-2.2 11.7l-.4 4.4l0 10.3l-1 5.9l-1.6 4.1l-4.7 9.1l-2.6 10.2l-1.6 4.5l-2.5 4.4zM561.0 1872.6l-1.5-.6l-1.4-1.4l-1.5-2.2l-4.1-10l-1.8-8.8l-.8-13.2l1-17.6l1.3-8l4.4-14l1.8-3l2.6-1.6M367.0 1949.4l-8.8 .8l-8.9-1l-16.5-4.2l-9-4.4l-3.4-3l-.9-1.4l-.3-3l1-2.9l1.8-3l5.3-5.3l4.8-3.5l10.5-5.8l9.7-7.2l4.4-1.8l4.4-.3l11.8 .8l10.2-.1l10.3-2.5l10.3-1.6l11.8-4.4l5.9-1.4l4.4 .4l3.8 1.9l.9 1.5l.2 2.9l-2.2 5.9l-2.7 3.6l-5.9 4.6l-1.5 1.7l-4.7 9.2l-4.1 4.4l-4.3 2.9l-17.7 10.2l-13.3 4.5zM181.9 2077.0l.9-13.2l1.4-8.8l1.7-5.9l1.7-4.2l3-4.4l1.5-1.2l2.9-.8l2.9 1.4l1.5 1.6l2.9 4.5l1.9 4.6l1.7 10.3l0 16.1M309.8 1697.0l-4.7 1.5l-7.2 1.3l-11.8 .6l-14.9-.5l-6.6-1.4l-2.8-1.5M227.3 1881.9l-2.9 0l-2.9-1.3l-1.7-1.7l-1.9-4.4l-.9-4.4l-.7-8.8l.2-19l.8-5.9l3.2-14.7l.6-16.1l3.3-19.3l2.9-7.6l4.4-7.2l1.5-1.6l1.5-.9l1.5-.2l2.9 .9l2.9 2.4l1.6 2.7l3.5 8.8l1.3 5.8l.9 17.6l-7 29.4l.1 11.7l-.9 4.4l-1.1 3l-5.7 10.2l-3.1 11.8l-1.9 2.9zM561.0 1867.4l-1.5-.7l-1.4-1.5l-3-5.3l-1.4-3.8l-1.8-8l-.8-11.7l1.1-16.8l1.5-8.1l1.4-4.2l3-5.7l1.4-1.9l1.5-1M368.4 1946.6l-10.2 .9l-7.4-.9l-7.3-2.2l-11.5-5.3l-4-2.9l-.8-1.5l-.1-1.5l.4-1.5l1.9-2.9l3.8-3.8l6.5-5l9.6-6l5.9-3.2l4.4-1.3l4.4-.2l11.8 1.4l19.1-3.5l14.7 .2l2.8 .9l.3 2.9l-1.1 8.8l-1.7 4.4l-2.4 2.9l-19.9 13.6l-11.8 4.1zM182.8 2077.0l.9-13.2l2.5-12.3l1.6-3.8l2.8-4.4l1.5-1.3l2.9-.8l2.9 1.6l1.8 1.9l2.6 4.4l1.5 4.4l1.2 8.8l-.1 14.7M300.5 1697.0l-5.5 1.2l-7.4 .3l-13.2-.3l-6-1.2M225.9 1874.9l-1.5 .6l-1.5-.2l-1.4-1.2l-1.5-3.5l-1.6-10.7l.1-19.1l4.2-17.6l.1-16.2l3.4-19l1.6-4.4l2.5-3.7l2.9-2.3l3-.6l2.9 1.5l1.5 1.5l2.6 3.6l1.4 2.9l1.1 5.9l.5 13.2l-4.1 19l-4.9 14.7l-.4 10.3l-.5 2.9l-1.9 4.4l-4.4 7.4l-2.7 8.5zM561.0 1861.8l-2.9-2.1l-1.5-2.2l-2.2-5l-1.5-7.3l-.6-8.8l1.1-14.7l1.2-7.3l1.7-4.4l1.8-2.9l2.9-2M369.9 1943.7l-10.3 .9l-7.3-.7l-5.9-2.2l-5.5-4.1l-2.1-2.9l-.4-1.5l.8-2.9l5.2-5.9l4.9-4.4l5.9-3.5l4.4-1.5l4.4-.1l7.4 2.3l2.9 .2l3-.6l8.8-3.5l5.9-1.1l4.4 .1l4.4 .8l2.6 1l1.8 1.5l.8 1.5l.4 2.9l-.9 2.9l-.9 1.5l-3.3 2.9l-6.4 4.7l-4.5 4.2l-5.8 3.4zM183.7 2077.0l.7-11.7l1.5-8.8l1.3-4.4l1.9-4.2l1.5-2l1.5-1.3l1.4-.7l1.5 0l1.5 .5l2.9 2.7l1.5 2.2l1.7 4.2l1.4 8.8l-.1 14.7M225.9 1858.8l-1.5 .8l-1.5-.4l-1-2.3l-1.2-10.2l0-5.9l.8-4.1l3.1-9.1l1-4.4l.1-4.4l-1-7.4l.1-2.9l2.3-10.3l1.3-8.8l2-4.4l1.5-1.4l2.8-1l1.5 .3l2.9 1.9l1.5 1.7l1.4 2.9l.9 5.9l-.2 8.8l-3.7 20.5l-6.5 14.7l-3.1 14.7l-1.7 2.9zM561.0 1856.7l-2.9-1.8l-1.5-2.1l-1.4-3.2l-1.2-5.9l-.4-7.3l1.2-13.2l1.4-7.4l1.9-3.9l1.4-1.5l1.5-.7M368.4 1940.7l-7.3 .5l-4.4-.3l-4.4-1.3l-2.6-2l-.8-1.4l-.1-1.5l1-3l4-7.3l2.9-2.8l2.9-1.3l3 0l7.3 3.4l3 .4l2.9-.7l11.8-4.9l2.9-.6l4.4 .1l1.6 .5l1.9 1.5l.4 1.5l-1.5 2.9l-11.2 11.3l-4.4 2.1zM184.5 2077.0l.6-10.3l2.5-12.7l3-5.5l1.5-1.4l1.4-.7l1.5 0l2.5 1.3l1.9 2.1l2.4 5.2l1.3 8.8l-.1 13.2M230.3 1830.7l-1-.2l-.2-1.5l.7-8.8l-2.5-8.3l-.1-3.4l2.9-8.8l.9-8.8l.7-1.8l1.2-1.1l1.8-.6l1.6 .6l2.4 2.9l.7 2.9l-.1 5.9l-3.3 22l-1.3 3.7l-1.5 2.4zM561.0 1853.3l-1.5-.6l-1.4-1.3l-1.5-2.5l-1.3-5.2l-.6-7.3l.4-6.1l1.7-10.1l1.3-3.6l1.4-2.1l1.5-.8M225.9 1843.6l-1.5-.1l-.3-4.2l1.8-4.2l1.4-1.7l.5 0l.6 1.5l-.2 2.9l-.9 3.4zM378.7 1934.8l-7.1-.1l-1.5-1.5l1.3-.4l5.5-4l3.3-1.7l2.9-.5l2.2 .7l.6 1.5l-1.1 2.9l-1.7 1.6zM367.0 1934.8l-4.4 1.2l-3-.4l-1.5-.9l-.2-1.5l.3-1.5l1.4-2.3l1.5-1l1.5 0l1.4 .8l4.4 3.9l.8 .1zM185.3 2077.0l.6-10.3l2.5-11.7l2.2-4.4l1.5-1.4l1.4-.7l1.5-.1l1.5 .6l1.7 1.6l1.8 2.9l1.1 3l1.1 7.3l0 13.2M561.0 1851.0l-2.2-1.4l-1.7-2.9l-1.1-4.4l-.4-5.9l.7-7.4l1.8-7.6l1.4-3.1l1.5-1.2M185.8 2077.0l.5-8.8l1.3-7.7l1.5-5.3l1.5-2.8l1.5-1.6l1.4-.8l1.5 0l1.5 .6l1.5 1.5l1.4 2.2l1.3 3.6l.9 7.4l0 11.7" stroke="#777" stroke-width="0.95" fill="none"/>
<path d="M418.5 1721.9h0M398.6 1805.3h0M289.6 2004.9h0M515.5 1765.1h0M400.8 2000.5h0M302.9 1991.2h0M364.9 1738.5h0M366.9 1719.7h0M312.2 1744.1h0M427.4 1788.5h0M535.9 1767.1h0M272.7 2003.5h0M534.9 1929.7h0M309.8 1739.2h0M465.1 1807.7h0M472.0 1962.3h0M476.0 1809.5h0M249.0 2000.4h0M267.2 2032.5h0M289.0 2000.3h0M447.0 1807.4h0M456.1 1983.0h0M366.5 1795.0h0M438.3 2004.0h0M351.6 1771.1h0M313.1 1756.3h0M492.2 1812.1h0M490.9 1817.9h0M227.1 2071.3h0M507.8 1807.8h0M377.9 1719.3h0M521.7 1807.3h0M381.9 1734.0h0M353.5 1998.5h0M444.9 1758.8h0M441.7 1782.8h0M507.3 1811.1h0M415.9 1706.8h0M525.7 1936.5h0M306.2 2004.4h0M414.3 1783.2h0M336.1 1734.2h0M546.1 1723.7h0M515.4 1820.9h0M354.0 1719.9h0M446.7 1803.7h0M520.6 1783.6h0M514.4 1756.1h0M327.7 1761.5h0M524.0 1941.3h0M479.6 1814.2h0M379.7 1717.2h0M535.4 1761.4h0M536.4 1763.2h0M493.8 1970.0h0M518.7 1950.5h0M519.8 1940.4h0M299.2 2014.3h0M543.1 1968.2h0M508.2 1820.8h0M526.3 1826.2h0M312.4 1995.0h0M244.7 2008.2h0M330.3 2019.0h0M325.9 2006.0h0M470.0 1968.5h0M417.7 1993.0h0M314.0 2011.6h0M503.2 1781.9h0M436.7 1975.3h0M396.3 1785.8h0M347.9 1998.0h0M434.4 2011.0h0M458.1 1764.4h0M525.9 1908.1h0M305.5 1997.1h0M535.8 1746.4h0M545.6 1993.5h0M448.7 1788.0h0M436.1 1802.2h0M523.1 1967.5h0M421.3 1799.4h0M516.5 1779.7h0M234.7 2065.5h0M518.5 1822.0h0M224.7 2018.2h0M341.4 2004.6h0M463.4 1980.4h0M363.3 1794.3h0M406.6 1788.2h0M272.2 1990.4h0M364.3 1723.1h0M379.1 1994.4h0M503.4 1935.0h0M231.1 2001.6h0M506.3 2011.6h0M224.8 2021.3h0M245.9 2003.2h0M331.6 1792.1h0M321.4 1790.5h0M397.8 2017.0h0M418.1 1979.2h0M343.6 1735.6h0M334.6 1998.0h0M273.0 2005.1h0M505.3 1927.2h0M425.1 1985.5h0M496.2 1933.6h0M512.9 1788.9h0M339.7 1799.9h0M391.2 2018.2h0M313.9 1751.4h0M507.2 1955.8h0M481.2 1782.7h0M450.6 1802.4h0M427.4 2020.7h0M325.6 1803.5h0M511.9 1921.8h0M534.0 1770.7h0M383.9 1802.5h0M512.8 1822.0h0M526.8 1910.7h0M493.7 1951.3h0M526.9 1778.8h0M533.3 1919.4h0M526.2 1810.7h0M274.2 2001.5h0M247.9 2005.2h0M244.5 2075.7h0M329.9 1799.8h0M489.5 1995.6h0M556.1 1984.9h0M248.1 2010.0h0M430.3 1800.8h0M269.7 2004.3h0M521.5 1789.7h0M305.9 2014.1h0M528.3 1813.1h0M460.1 1812.5h0M531.3 1950.4h0M503.8 1926.8h0M525.0 1768.6h0M352.1 1744.4h0M326.1 1759.1h0M397.5 1701.4h0M385.3 2029.0h0M536.0 1910.5h0M505.1 1966.5h0M492.1 1940.8h0M524.6 1760.0h0M544.6 1740.5h0M557.0 1700.6h0M493.6 1818.8h0M378.9 1713.1h0M522.3 1935.3h0M457.6 1967.2h0M215.6 2011.4h0M486.5 1940.6h0M520.9 1932.3h0M337.0 2016.0h0M425.1 1995.1h0M337.9 1728.9h0M392.2 1699.0h0M337.1 2014.7h0M317.5 1996.3h0M447.6 1972.6h0M468.4 1745.8h0M317.6 2036.9h0M325.5 1728.7h0M507.1 1809.8h0M441.0 1708.1h0M478.6 1991.4h0M373.6 1791.3h0M328.3 1735.0h0M407.1 1990.2h0M266.2 1991.0h0M524.7 1821.7h0M367.5 1804.8h0M443.6 1788.0h0M537.1 1735.0h0M498.6 1769.7h0M348.3 2025.9h0M350.9 1740.4h0M366.1 2023.4h0M347.3 1784.5h0M352.0 1726.1h0M232.9 2004.0h0M340.8 2019.2h0M339.0 1994.3h0M353.4 1758.2h0M390.7 1798.7h0M346.8 2008.4h0M395.5 2006.3h0M315.3 2009.5h0M480.1 1958.3h0M327.6 1737.7h0M302.3 2057.5h0M368.1 1782.7h0M489.3 1808.1h0M512.8 1941.9h0M545.5 1733.0h0M531.6 1815.3h0M413.9 1726.3h0M374.1 1719.3h0M527.4 1751.3h0M218.2 2018.7h0M445.5 1809.3h0M499.4 1816.4h0M470.7 2004.6h0M535.7 1775.9h0M356.5 1779.3h0M557.3 1704.8h0M401.2 1762.6h0M540.5 1936.5h0M337.1 1786.4h0M220.2 2022.7h0M353.1 1799.9h0M480.9 1803.2h0M478.1 1815.2h0M255.0 2006.5h0M429.5 1977.7h0M325.0 2010.2h0M500.2 1820.3h0M522.6 1812.6h0M531.3 1920.4h0M551.3 1961.6h0M406.6 2038.0h0M452.8 1724.9h0M316.7 1769.0h0M511.8 1807.3h0M469.5 1989.6h0M536.7 1911.4h0M426.2 1794.3h0M340.1 1786.2h0M413.7 1795.5h0M539.3 1744.6h0M387.7 1785.0h0M536.4 1938.3h0M517.0 1783.4h0M387.7 1797.6h0M324.7 2000.7h0M536.0 1910.5h0M309.1 1991.8h0M417.9 1798.7h0M554.0 1942.3h0M548.6 1937.9h0M536.0 1725.1h0M315.6 1761.7h0M399.2 2000.1h0M535.1 1913.7h0M343.6 1728.3h0M350.3 1786.9h0M452.3 1811.8h0M312.2 1746.4h0M369.3 1777.0h0M504.1 1930.9h0M439.0 1991.6h0M488.2 1810.1h0M365.4 1719.0h0M363.4 1781.2h0M482.8 1802.5h0M532.6 1778.5h0M261.1 2070.6h0M313.8 2012.2h0M423.9 1999.1h0M482.6 1809.4h0M380.1 1784.2h0M272.7 1995.3h0M451.5 1802.3h0M379.5 2018.0h0M514.8 1725.0h0M501.7 1957.3h0M400.9 1991.4h0M320.0 2041.7h0M481.7 1792.2h0M538.5 1719.4h0M425.6 1993.1h0M538.6 1912.2h0M351.6 1736.1h0M324.4 1736.2h0M414.0 2020.4h0M374.9 1797.2h0M307.6 1991.5h0M392.9 1700.1h0M482.4 1816.3h0M500.6 1948.4h0M281.4 2004.3h0M249.4 2019.4h0M516.9 1769.2h0M509.9 1795.5h0M527.8 1810.6h0M494.6 1947.1h0M323.0 1793.2h0M392.8 2004.1h0M328.3 1739.1h0M353.1 1995.3h0M530.2 1798.2h0M388.0 1993.9h0M503.5 1820.7h0M437.4 1797.7h0M352.6 1725.9h0M462.2 1744.2h0M294.7 2008.0h0M482.3 1801.4h0M329.3 2008.2h0M515.8 1744.5h0M431.5 1993.8h0M538.7 1734.8h0M530.3 1920.4h0M374.1 1778.3h0M364.5 2027.2h0M238.8 2071.0h0M313.2 2019.4h0M345.7 1735.8h0M344.7 1802.9h0M394.1 1704.6h0M473.0 1769.7h0M314.7 1779.1h0M529.0 1794.5h0M336.9 2021.7h0M332.4 1802.5h0M527.4 1944.3h0M334.4 1782.7h0M432.3 1980.7h0M367.5 1758.5h0M483.6 1808.8h0M232.6 2019.3h0M481.2 1813.0h0M237.0 2009.7h0M528.4 1751.4h0M443.7 1976.8h0M503.1 1760.4h0M534.0 1915.3h0M237.6 2069.0h0M460.4 1797.9h0M527.2 1941.4h0M515.2 1815.0h0M444.2 1970.8h0M522.7 1808.9h0M324.7 1785.0h0M542.1 1739.7h0M335.6 1788.3h0M277.8 2015.2h0M313.6 1759.3h0M522.3 1914.7h0M364.4 2003.6h0M510.6 1794.4h0M542.3 1737.7h0M461.9 1970.6h0M514.7 1803.1h0M404.3 1994.8h0M489.3 1971.3h0M343.4 1724.9h0M556.0 1948.8h0M528.7 1933.4h0M266.0 2013.1h0M228.3 2027.2h0M327.5 1733.5h0M499.0 1815.4h0M476.3 1803.9h0M407.3 1988.4h0M526.2 1911.9h0M353.8 1791.1h0M354.5 1993.8h0M333.5 2003.0h0M509.2 1697.7h0M560.9 2005.8h0M426.2 1732.2h0M322.8 1799.7h0M230.7 2040.8h0M396.2 1996.6h0M543.0 1934.8h0M421.3 1982.7h0M306.9 1992.0h0M321.2 1796.2h0M307.4 1993.6h0M327.3 1759.7h0M493.1 1956.2h0M482.5 1980.5h0M397.3 1787.2h0M499.3 1782.1h0M465.1 1986.5h0M395.4 1987.5h0M356.0 2006.4h0M485.0 1952.7h0M538.0 1947.8h0M227.9 2022.7h0M410.7 1710.0h0M517.6 1821.4h0M485.3 2023.3h0M525.6 1825.8h0M265.5 2016.9h0M473.9 1805.7h0M391.5 1999.1h0M528.6 1791.7h0M539.9 1939.2h0M320.1 1754.2h0M249.3 2065.0h0M555.7 1950.8h0M482.3 1961.7h0M504.8 1818.0h0M500.4 1818.1h0M485.7 1709.1h0M527.7 1937.5h0M402.6 1985.0h0M314.3 1753.0h0M485.1 1813.4h0M243.7 2072.7h0M523.8 1800.3h0M302.5 1990.9h0M452.8 1790.0h0M525.2 1748.2h0M347.8 1731.3h0M529.6 1802.9h0M393.2 1997.4h0M513.9 1988.0h0M411.7 1790.5h0M387.6 1799.3h0M495.4 1972.9h0M439.0 1777.8h0M399.0 1990.7h0M359.6 1995.3h0M316.3 1749.4h0M518.9 1956.6h0M359.0 1785.7h0M470.9 1791.0h0M542.1 1982.1h0M414.9 2040.2h0M483.6 1966.8h0M335.6 1733.3h0M239.4 2026.9h0M528.2 1786.3h0M300.0 2005.5h0M522.9 1925.6h0M513.7 1817.8h0M421.6 1991.5h0M303.5 1995.8h0M459.9 1761.2h0M441.7 1765.2h0M473.5 1812.2h0M533.7 1784.9h0M493.7 1948.0h0M519.1 1743.5h0M420.0 1796.0h0M339.8 1783.1h0M479.4 1979.8h0M353.8 1720.8h0M226.6 2038.6h0M272.1 2002.9h0M251.6 2045.3h0M483.1 1783.1h0M336.5 1735.3h0M508.5 1819.5h0M408.9 1988.4h0M531.2 1755.5h0M545.1 1737.7h0M483.0 1960.9h0M317.9 1771.9h0M540.2 1701.4h0M416.5 2010.7h0M506.3 1812.2h0M527.1 1809.7h0M552.0 1719.8h0M436.5 1985.6h0M339.8 1733.3h0M440.2 1987.2h0M318.4 1774.0h0M519.5 1826.9h0M429.3 1996.7h0M518.7 1787.9h0M360.3 1747.8h0M435.5 1809.3h0M219.0 2001.0h0M368.1 1789.0h0M287.9 1991.0h0M348.7 2000.3h0M326.3 2016.5h0M220.3 2025.8h0M420.2 1982.7h0M327.6 1773.5h0M402.0 2022.3h0M283.7 1992.4h0M560.7 1974.8h0M385.0 1989.9h0M441.8 1809.2h0M349.0 2004.9h0M336.8 1738.7h0M412.4 1994.6h0M537.8 1927.2h0M248.5 2067.5h0M532.9 1769.3h0M477.4 1792.3h0M230.2 2002.0h0M341.5 1737.0h0M441.3 1784.4h0M300.7 2010.5h0M416.5 1743.6h0M374.1 1719.8h0M511.8 1760.6h0M525.7 1748.2h0M524.1 1828.7h0M516.2 1771.6h0M529.5 1701.4h0M394.3 1702.6h0M385.6 1989.4h0M363.1 1721.8h0M522.4 1819.2h0M395.2 1723.1h0M225.2 2002.8h0M314.9 1770.0h0M530.7 1905.8h0M325.1 1728.2h0M351.6 1747.4h0M323.0 1751.1h0M391.2 1988.6h0M556.3 1721.9h0M388.1 1995.9h0M535.9 1908.6h0M215.1 2006.8h0M225.9 1999.9h0M196.4 2063.9h0M195.2 2052.5h0M187.2 2063.2h0M202.8 2054.2h0M196.0 2035.9h0M194.8 2051.5h0M201.3 2044.8h0M202.3 2035.3h0M197.5 2061.2h0M186.1 2074.8h0M183.6 2058.2h0M188.1 2069.9h0M199.8 2062.0h0M202.9 2061.6h0M200.1 2065.8h0M201.1 2072.9h0M187.8 2052.0h0M201.1 2069.2h0M189.8 2058.4h0M205.9 2069.5h0M198.0 2053.2h0M181.7 2073.3h0M196.5 2064.1h0M205.1 2068.0h0M193.3 2024.9h0M189.3 2075.0h0M199.7 2038.6h0M196.5 2068.0h0M207.7 2075.4h0M202.9 2053.8h0M209.0 2070.9h0M198.7 2038.3h0M208.6 2075.6h0M201.6 2073.9h0M194.8 2067.9h0M190.9 2050.1h0M193.5 2044.9h0M203.4 2060.9h0M200.2 2052.6h0M191.5 2074.9h0M198.6 2063.3h0M195.3 2062.6h0M201.6 2075.9h0M193.5 2070.7h0M191.6 2063.5h0M206.0 2063.2h0M203.7 2073.9h0M181.8 2068.9h0M195.7 2040.9h0M198.8 2074.8h0M196.6 2071.7h0M192.6 2071.9h0M192.0 2071.7h0M193.0 2073.4h0M192.6 2059.8h0M188.6 2076.8h0M180.4 2021.4h0M210.1 2065.4h0M193.6 2019.8h0M196.0 2065.7h0M202.1 2069.6h0M187.4 2034.5h0M203.2 2057.5h0M197.7 2058.2h0M192.7 2046.0h0M206.0 2066.3h0M195.0 2063.4h0M194.4 2046.9h0M190.7 2064.6h0M202.1 2072.1h0M195.5 2035.2h0M188.2 2031.9h0M203.0 2049.8h0M200.4 2065.9h0M183.8 2029.5h0M188.6 2060.9h0M201.8 2070.5h0M188.8 2064.0h0M193.5 2073.5h0M197.9 2075.5h0M194.9 2054.4h0M196.7 2060.7h0M208.9 2074.9h0M208.7 2076.7h0M196.2 2072.1h0M193.2 2066.6h0M188.2 2055.4h0M194.5 2048.8h0M190.2 2017.5h0M199.6 2039.1h0M190.6 2060.9h0M190.0 2058.7h0M196.0 2059.7h0M192.1 2047.6h0M190.5 2075.4h0M184.1 2065.8h0M188.9 2070.1h0M191.8 2065.8h0M199.5 2070.0h0M195.7 2069.9h0M192.1 2057.7h0M189.4 2051.7h0M208.3 2052.6h0M190.6 2075.4h0M193.6 2053.3h0M193.2 2072.5h0M199.3 2069.2h0M191.7 2064.8h0M201.2 2051.1h0M189.6 2072.3h0M198.9 2055.7h0M198.8 2038.8h0M196.9 2076.6h0M206.6 2069.6h0M191.9 2074.9h0M188.1 2055.6h0M198.6 2048.8h0M199.9 2067.2h0M203.1 2073.9h0M202.4 2074.7h0M204.2 2059.4h0M193.2 2073.5h0M195.6 2063.3h0M192.6 2044.1h0M189.1 2063.4h0M191.8 2060.6h0M188.0 2075.2h0M194.5 2019.5h0M192.6 2062.9h0M196.1 2059.8h0M190.0 2074.1h0M193.8 2066.0h0M190.7 2027.2h0M194.4 2051.0h0M194.1 2074.7h0M181.7 2073.3h0M190.8 2074.2h0M204.0 2067.7h0M190.7 2072.9h0M196.5 2057.4h0M208.2 2072.1h0M197.8 2065.1h0M182.2 2058.8h0M194.4 2061.7h0M198.1 2061.3h0M190.3 2054.6h0M202.3 2055.3h0M197.7 2060.9h0M195.6 2068.8h0M192.4 2067.7h0" stroke="#111" stroke-width="1.75" stroke-linecap="round" fill="none"/>
<path d="M195.6 1717.3L536.6 1710.5L527.5 2023.4L227.8 2021.7L184.1 1998z" stroke="#111" stroke-width="1.4" fill="none"/>
<rect x="180.3" y="1697.0" width="380.7" height="380.0" fill="none" stroke="#111" stroke-width="1.5"/>
<path d="M176.3 2053.0h4M176.3 2029.6h4M176.3 2006.3h4M176.3 1982.9h4M176.3 1936.3h4M176.3 1912.9h4M176.3 1889.6h4M176.3 1866.2h4M176.3 1819.6h4M176.3 1796.2h4M176.3 1772.9h4M176.3 1749.5h4M176.3 1702.9h4M203.0 2077.0v4.5M224.1 2077.0v4.5M245.1 2077.0v4.5M266.2 2077.0v4.5M308.2 2077.0v4.5M329.3 2077.0v4.5M350.3 2077.0v4.5M371.4 2077.0v4.5M413.4 2077.0v4.5M434.5 2077.0v4.5M455.5 2077.0v4.5M476.6 2077.0v4.5M518.6 2077.0v4.5M539.7 2077.0v4.5M170.8 1726.1h9.5M170.8 1842.7h9.5M170.8 1959.7h9.5M170.8 2076.3h9.5M182.0 2077.0v9.5M285.8 2077.0v9.5M391.5 2077.0v9.5M497.6 2077.0v9.5" stroke="#111" stroke-width="1.3" fill="none"/>
<text x="166.5" y="1737.6" font-size="33" text-anchor="end">150K</text>
<text x="166.5" y="1854.2" font-size="33" text-anchor="end">100K</text>
<text x="166.5" y="1971.2" font-size="33" text-anchor="end">50K</text>
<text x="166.5" y="2080.8" font-size="33" text-anchor="end">0</text>
<text x="182.2" y="2117.5" font-size="33" text-anchor="middle">0</text>
<text x="294.3" y="2117.5" font-size="33" text-anchor="middle">50K</text>
<text x="401.3" y="2117.5" font-size="33" text-anchor="middle">100K</text>
<text x="508.1" y="2117.5" font-size="33" text-anchor="middle">150K</text>
<text transform="translate(78.0 1886.2) rotate(-90)" font-size="33" text-anchor="middle">SSC-A</text>
<text x="374.9" y="2159.4" font-size="33" text-anchor="middle">FSC-A</text>
<text x="174.5" y="1604.3" font-size="33">150103.fcs</text>
<text x="174.5" y="1645.0" font-size="33">ungated</text>
<text x="174.5" y="1685.7" font-size="33">10000</text>
<text x="471.5" y="1747.0" font-size="28" text-anchor="middle">cells</text>
<text x="477.6" y="1776.6" font-size="28" text-anchor="middle">85.9%</text>
<path d="M784.3 1967.8l-8.7 .4l-10.4-1.1l-8.7-2.2l-6.9-2.9l-5.2-3.3l-4.7-4.9l-2.3-5.2l-1-6.9l.7-7l2.1-6.9l12.1-23.9l13.9-29.1l8.7-23.1l9-26.3l1.4-3l1.7-1.9l1.8-.2l1.7 .8l3.5 3.5l10 14.7l9.9 17.3l10.6 20.9l5.1 12.1l3.8 12.1l2 10.5l.7 10.4l-.9 10.4l-2 8.7l-3.1 6.9l-4.4 5.2l-4 3l-5.2 3l-8.6 3.6l-12.2 3.1zM789.5 1964.3l-10.4 .9l-8.7-.4l-8.7-1.7l-8.6-3.6l-5.2-3.7l-3.1-3.7l-2.2-5.2l-.8-7l.8-6.9l1.6-5.2l24.5-50.8l15.6-41.2l2.2-3.5l1.3-1.1l1.7-.3l1.7 .7l3.5 3.3l7 10l9.3 16.9l8.4 17.4l4.3 10.4l3.4 10.4l2.1 10.4l.9 12.2l-.9 10.4l-1.7 6.9l-3.1 7l-3.7 4.6l-6.9 5.2l-6.9 3.3l-10.4 3.1zM786.0 1962.5l-8.6 .5l-8.7-.8l-7-1.8l-6.6-3.1l-4.2-3.5l-3.4-5.2l-1.5-5.2l-.2-5.2l1-7l1.9-5.2l21.7-45.2l13.9-33.8l3.5-5.4l1.7-1.1l1.7 0l1.8 .8l3.5 3.3l5.2 7.5l9.1 16.7l7.1 15.6l3.9 10.4l2.8 10.4l1.6 10.4l.2 8.7l-.9 8.7l-1.9 6.9l-2.3 5.2l-4.1 5.2l-5.1 4.1l-7 3.6l-10.4 3.2zM784.3 1960.8l-8.7 .2l-6.9-.9l-7-2.1l-4.4-2.5l-3.8-3.4l-3.2-5.2l-1.2-5.2l0-5.2l.8-5.3l1.9-5.2l20.4-42.5l10.4-23.7l3.4-6.5l1.8-2.3l1.7-1.4l1.7-.5l1.8 .3l3.5 2.6l5.2 7l7.4 13.3l7 15.6l3.7 10.4l2.1 8.7l1.4 10.4l0 8.6l-.9 7l-2 6.9l-2.7 5.2l-4.5 5.2l-6.3 4.4l-7 3l-6.9 1.9zM784.3 1959.1l-6.9 .2l-7-.8l-6.9-2.2l-4.3-2.5l-3.5-3.5l-2.8-5.2l-.9-5.2l.1-5.2l.6-3.5l1.8-5.2l28.1-58.3l5.2-8.4l1.7-1.5l1.7-.7l1.8 .1l1.7 .7l3.5 3.1l5.2 7.3l5.8 10.9l5.3 12.1l3.4 10.4l1.9 8.7l.9 8.7l-.2 8.7l-1.2 6.9l-2.7 7l-2.8 4.4l-3.5 3.6l-5.2 3.6l-6.9 3l-7 1.8zM784.3 1957.4l-6.9 .2l-5.2-.6l-5.2-1.5l-5.3-2.8l-4-4.1l-1.9-3.5l-1.1-5.2l0-5.2l1-5.2l1.3-3.5l15.9-32.9l7.9-15.4l3.5-6.1l3.5-4.7l3.4-2.3l1.8-.2l3.5 1.7l5.2 6l5.2 9l5.5 12l2.9 8.6l1.9 8.7l1 8.7l-.1 8.7l-1.4 6.9l-2 5.2l-3.1 5.2l-3.4 3.5l-4.8 3.3l-5.2 2.5l-7 2zM786.0 1955.5l-6.9 .4l-5.2-.4l-5.7-1.7l-4.7-2.7l-2.6-2.5l-2.2-3.5l-1.4-5.2l-.1-5.2l.5-3.5l1.8-5.2l19.6-39.5l5.2-8.5l3.5-4.3l3.4-2.2l1.8-.2l3.5 1.5l5.2 5.8l4.5 7.5l4 8.7l3 8.7l1.9 8.7l.8 8.6l-.2 7l-.9 5.2l-1.8 5.2l-2.9 5.2l-3.1 3.5l-3.6 2.7l-5.2 2.8l-5.2 1.8zM786.0 1954.0l-6.9 .3l-4.7-.5l-4-1.1l-4.4-2.4l-3.6-3.4l-1.9-3.5l-.9-3.5l-.2-5.2l.9-5.2l1.3-3.5l17.5-34.8l6.9-10l3.5-3l3.5-.8l3.5 1.3l3.4 3.3l5.1 7.6l3.3 6.9l2.5 7l2.1 8.7l.9 8.6l-.1 7l-1 5.2l-2 5.2l-3.1 5.2l-2.5 2.6l-3.4 2.6l-5.2 2.7l-5.3 1.7zM786.0 1952.3l-5.2 .4l-5.2-.5l-5.2-1.6l-3.2-2l-3.2-3.5l-1.6-3.4l-.7-3.5l0-5.2l.7-3.5l2.2-5.2l11-21.9l5.2-9.3l3.5-4.8l3.5-3.5l3.4-1.7l1.8-.1l3.5 1.4l3.4 3.2l3.5 4.9l3.5 7l2.5 7.5l1.5 6.9l.8 6.9l-.1 7l-.5 3.4l-1.8 5.3l-2.9 5.2l-3 3.3l-3.5 2.6l-3.4 1.9l-5.3 1.8zM787.8 1950.5l-5.2 .6l-5.2-.3l-5.2-1.5l-3.5-2.1l-2.1-2.1l-1.9-3.4l-.8-3.5l-.1-5.2l.6-3.5l1.4-3.5l7.8-15.6l7.2-12.9l3.5-4.8l3.5-3.2l3.4-1.5l1.8-.1l3.5 1.5l3.4 3.3l2.7 3.8l2.6 5.2l1.9 5.3l1.7 6.9l.9 6.9l0 7l-.6 3.4l-1.9 5.3l-1.9 3.4l-2.8 3.5l-2.6 2.2l-3.4 2.1l-3.5 1.4zM787.8 1949.0l-5.2 .5l-3.5-.1l-3.7-.8l-3.8-1.7l-2.9-2.6l-1.6-2.6l-1.1-3.5l-.3-5.2l.7-3.5l2.2-5.2l7-13.6l7-11.5l5.2-5.5l3.4-1.3l1.8 0l3.5 1.6l1.7 1.5l3.5 4.7l2.4 5l3 10.4l.8 7l0 5.2l-1.8 6.9l-1.8 3.5l-2.6 3.6l-5.2 4.1l-3.5 1.6zM789.5 1946.9l-5.2 .9l-3.5 0l-4.6-.9l-3.5-1.8l-2.3-2.2l-1.6-3l-.8-3.4l-.2-3.5l.6-3.5l1.4-3.5l5.8-11.2l5.2-8.7l5.2-6.6l3.5-2.2l1.7-.4l3.5 .8l1.8 1.1l2.6 2.9l2.6 4.3l1.8 4.4l1.5 5.2l1 10.4l-1.2 7l-1.6 3.5l-2.4 3.4l-4.3 4l-3.5 1.8zM789.5 1945.2l-6.9 .9l-3.5-.4l-3.5-1.3l-1.7-1.2l-2.5-3.3l-1.2-3.4l-.3-3.5l.5-3.5l1.4-3.5l9-15.9l5.2-6.3l3.5-2.1l1.7-.3l3.5 1l1.8 1.3l3.4 4.8l1.8 3.8l1.4 5.1l1 8.6l-.3 3.5l-1 3.5l-2.9 5.1l-5.2 4.8zM787.8 1943.8l-3.5 .4l-3.5-.2l-2.2-.6l-2.9-1.7l-1.8-2.2l-1.4-3l-.4-5.3l1-3.4l1.7-3.5l7.8-12.6l3.4-3.7l1.8-1.2l3.4-1l3.5 1.3l1.8 1.6l2.3 3.5l2.4 6.9l.9 5.2l0 3.5l-1.3 5.2l-3.4 5.2l-4.4 3.6zM787.8 1941.8l-5.2 .3l-1.9-.4l-3.1-1.8l-2.5-3.4l-.6-1.8l-.2-3.5l1.7-5.2l6.6-10.3l3.4-3.6l1.8-1.2l3.4-.7l1.8 .5l1.7 1.3l2.7 3.6l2.3 7l.4 5.2l-1.4 5.2l-2.3 3.5l-3.4 3zM789.5 1938.9l-5.2 .8l-3.5-.9l-1.7-1.3l-1.7-2.5l-.7-3.8l1.7-5.2l4.2-6.1l3.4-3.6l3.5-1.6l1.7 .1l1.7 .8l1.8 1.8l2.5 5.2l.7 5.2l-.7 3.4l-2 3.5l-2.2 2.2zM787.8 1936.9l-3.5 .1l-1.8-.5l-2-1.8l-1.2-3.5l.8-3.4l2.5-4l3.4-3.4l3.5-1.3l1.7 .4l1.8 1.4l1.9 3.4l.6 3.5l-.7 3.4l-1 1.8l-2.6 2.4zM789.5 1933.7l-3.5 .8l-1.7-.4l-1.4-1.1l-.8-1.8l.5-3l1.3-2.2l2.1-1.9l1.8-.8l1.7-.1l1.7 .9l1.4 1.9l.4 1.8l-.1 1.7l-.8 1.7zM787.8 1931.6l-2.1-.4l-.5-1.7l.8-1.8l1.8-.9l1.7 .5l.5 2.2z" stroke="#777" stroke-width="0.95" fill="none"/>
<path d="M773.0 1776.1h0M779.1 1828.1h0M757.2 1871.9h0M757.9 1712.2h0M791.0 1787.7h0M785.2 1799.2h0M784.3 1806.6h0M784.5 1770.4h0M770.7 1816.6h0M760.4 1859.4h0M738.2 1912.5h0M762.8 1857.0h0M772.0 1775.0h0M765.9 1850.4h0M736.5 1921.5h0M797.9 1744.3h0M776.7 1804.7h0M773.9 1827.5h0M758.0 1772.1h0M750.2 1894.5h0M764.3 1793.2h0M774.0 1766.8h0M763.8 1851.4h0M788.4 1797.5h0M790.4 1796.2h0M750.1 1874.8h0M806.2 1798.8h0M769.6 1808.8h0M754.6 1736.2h0M737.3 1927.0h0M752.0 1738.5h0M789.5 1810.1h0M773.0 1824.1h0M783.7 1751.9h0M763.0 1793.6h0M746.2 1905.0h0M750.4 1887.8h0M781.4 1792.4h0M746.5 1769.4h0M772.4 1742.5h0M755.3 1783.1h0M761.7 1859.8h0M762.4 1737.1h0M772.6 1824.1h0M748.4 1778.8h0M767.6 1848.1h0M759.9 1741.8h0M766.8 1743.9h0M781.7 1817.2h0M802.9 1762.5h0M752.6 1766.1h0M770.9 1785.8h0M757.6 1782.6h0M756.9 1867.4h0M753.9 1876.5h0M743.8 1901.2h0M755.5 1876.4h0M799.3 1815.4h0M773.1 1791.4h0M787.8 1807.4h0M742.3 1769.8h0M745.5 1897.1h0M750.5 1763.6h0M737.7 1928.4h0M784.7 1785.6h0M768.7 1821.8h0M768.4 1700.8h0M766.5 1829.5h0M786.7 1780.6h0M745.9 1765.4h0M769.7 1819.2h0M769.7 1724.3h0M771.8 1757.1h0M747.8 1739.4h0M790.3 1795.8h0M753.4 1815.9h0M777.4 1761.3h0M785.7 1770.0h0M743.2 1904.6h0M761.0 1846.0h0M772.7 1819.3h0M771.0 1758.2h0M759.4 1769.8h0M743.5 1898.2h0M762.1 1860.7h0M762.3 1750.2h0M792.8 1809.0h0M773.9 1806.8h0M755.8 1878.1h0M757.3 1778.4h0M735.7 1733.2h0M765.7 1781.5h0M766.9 1698.7h0M748.9 1779.2h0M770.8 1789.8h0M767.2 1795.0h0M755.1 1752.9h0M776.1 1821.1h0M776.2 1800.4h0M775.5 1744.5h0M777.9 1792.5h0M769.6 1738.2h0M781.9 1764.4h0M753.9 1775.7h0M758.8 1761.1h0M755.0 1774.0h0M739.0 1753.2h0M759.0 1766.3h0M777.2 1812.0h0M757.6 1839.1h0M764.8 1768.3h0M755.1 1876.1h0M775.7 1806.2h0M730.1 1922.6h0M780.9 1829.0h0M765.9 1716.0h0M746.1 1905.6h0M752.6 1876.4h0M752.8 1883.2h0M771.4 1727.5h0M738.7 1927.0h0M757.2 1871.6h0M774.2 1761.2h0M771.1 1776.3h0M757.1 1758.1h0M750.7 1797.8h0M747.8 1769.3h0M784.8 1774.2h0M769.3 1798.3h0M764.1 1790.8h0M777.3 1779.8h0M772.9 1710.7h0M771.1 1797.5h0M774.0 1806.5h0M774.8 1818.5h0M758.0 1755.6h0M758.0 1772.4h0M748.9 1725.5h0M776.1 1786.2h0M785.0 1806.7h0M783.9 1809.7h0M763.7 1766.8h0M759.0 1862.3h0M779.0 1827.4h0M732.8 1924.2h0M746.9 1759.3h0M780.4 1811.2h0M759.0 1781.0h0M769.8 1783.2h0M754.0 1743.8h0M772.7 1808.6h0M788.3 1797.5h0M768.6 1764.8h0M784.0 1791.3h0M734.9 1716.7h0M771.8 1782.7h0M778.3 1792.2h0M762.8 1766.5h0M763.5 1858.2h0M761.2 1866.2h0M779.9 1813.0h0M741.9 1912.1h0M781.0 1800.8h0M754.9 1753.0h0M768.5 1846.1h0M781.3 1766.5h0M774.5 1813.5h0M770.7 1805.4h0M770.6 1840.8h0M765.2 1774.7h0M772.3 1795.8h0M764.5 1804.5h0M763.0 1769.2h0M771.1 1825.1h0M790.7 1777.4h0M781.2 1811.1h0M755.2 1806.1h0M747.9 1779.6h0M785.0 1775.1h0M771.6 1772.8h0M769.8 1834.5h0M735.1 1924.9h0M785.3 1816.0h0M749.1 1870.2h0M761.6 1801.3h0M771.6 1796.6h0M784.5 1797.5h0M770.0 1769.7h0M773.2 1824.7h0M793.0 1772.6h0M778.1 1751.8h0M762.1 1777.3h0M777.9 1832.7h0M780.4 1759.8h0M746.8 1896.4h0M763.6 1839.6h0M766.4 1799.3h0M743.5 1878.2h0M768.6 1786.3h0M738.7 1897.1h0M766.3 1792.4h0M769.8 1842.0h0M754.8 1872.7h0M779.3 1814.7h0M745.1 1716.4h0M759.8 1721.8h0M783.6 1810.2h0M750.0 1731.5h0M765.3 1810.1h0M758.3 1752.9h0M752.7 1739.7h0M766.1 1811.3h0M758.0 1751.9h0M797.9 1808.3h0M748.0 1893.2h0M778.5 1800.0h0M776.1 1782.8h0M762.3 1772.3h0M778.5 1762.7h0M758.2 1707.9h0M791.9 1815.6h0M778.2 1785.8h0M737.6 1920.9h0M742.8 1908.0h0M786.2 1776.9h0M759.1 1864.9h0M735.1 1920.1h0M776.0 1813.6h0M762.0 1770.4h0M745.6 1756.4h0M781.5 1796.5h0M737.3 1901.1h0M755.0 1794.1h0M753.4 1887.0h0M772.8 1806.8h0M785.8 1800.5h0M762.3 1767.3h0M786.3 1808.6h0M776.7 1804.6h0M757.5 1848.9h0M749.0 1887.9h0M746.2 1889.3h0M755.7 1732.8h0M774.5 1824.9h0M778.4 1810.3h0M752.2 1889.6h0M748.0 1900.9h0M768.9 1732.8h0M774.3 1808.3h0M776.9 1765.0h0M758.6 1855.9h0M757.5 1876.7h0M744.3 1897.6h0M762.7 1783.9h0M782.8 1819.9h0M766.7 1748.6h0M751.6 1702.5h0M733.3 1759.0h0M777.1 1827.4h0M770.2 1819.2h0M759.6 1844.1h0M791.9 1784.4h0M756.7 1874.3h0M770.0 1798.4h0M775.3 1779.4h0M755.8 1874.4h0M754.1 1765.8h0M778.1 1813.7h0M755.9 1701.6h0M744.7 1899.9h0M745.9 1731.1h0M761.1 1829.6h0M778.5 1783.9h0M754.7 1874.1h0M778.4 1837.9h0M737.9 1763.8h0M764.1 1778.9h0M767.5 1803.2h0M746.3 1769.0h0M775.7 1799.6h0M780.2 1771.3h0M759.5 1738.9h0M783.3 1795.0h0M783.2 1779.6h0M774.0 1770.2h0M774.2 1814.0h0M744.5 1909.3h0M775.8 1785.2h0M770.0 1818.8h0M777.8 1723.8h0M777.7 1801.2h0M777.2 1784.0h0M781.9 1739.3h0M765.4 1768.4h0M764.8 1798.4h0M735.4 1705.2h0M773.7 1798.3h0M769.8 1781.4h0M764.9 1743.9h0M757.7 1838.8h0M755.9 1802.8h0M770.1 1802.7h0M768.5 1764.5h0M762.0 1807.8h0M748.0 1744.4h0M729.2 1925.7h0M770.6 1837.3h0M777.1 1762.6h0M791.5 1816.1h0M753.6 1875.5h0M767.2 1809.8h0M787.5 1804.8h0M763.2 1856.4h0M770.8 1795.7h0M778.0 1818.0h0M755.8 1760.3h0M769.8 1814.7h0M773.9 1804.5h0M739.8 1919.6h0M755.9 1788.1h0M771.2 1821.2h0M776.7 1780.8h0M759.6 1775.4h0M772.6 1755.6h0M764.8 1800.5h0M749.0 1874.5h0M770.0 1762.6h0M791.3 1786.1h0M791.3 1704.2h0M762.2 1786.1h0M766.2 1851.9h0M764.6 1767.1h0M775.3 1794.1h0M758.2 1869.6h0M745.3 1884.7h0M770.2 1792.1h0M750.3 1715.4h0M779.2 1708.6h0M753.7 1874.0h0M752.7 1746.6h0M771.6 1757.5h0M776.8 1766.5h0M744.9 1902.4h0M775.9 1763.3h0M790.9 1804.0h0M743.2 1914.5h0M754.1 1875.8h0M745.7 1702.5h0M767.5 1849.4h0M772.3 1823.8h0M767.3 1772.4h0M777.0 1709.4h0M752.3 1890.0h0M775.1 1804.1h0M743.3 1891.8h0M743.7 1902.7h0M766.3 1710.2h0M763.2 1779.3h0M763.6 1782.3h0M762.0 1726.4h0M791.4 1800.0h0M744.3 1769.0h0M777.8 1812.3h0M786.6 1794.3h0M761.7 1810.3h0M776.6 1808.1h0M741.8 1914.3h0M778.2 1769.4h0M767.4 1844.6h0M775.7 1807.6h0M788.9 1799.3h0M783.0 1807.2h0M779.9 1818.6h0M771.0 1771.1h0M753.0 1732.0h0M762.2 1819.6h0M767.6 1840.1h0M731.6 1932.1h0M751.2 1751.3h0M744.8 1902.8h0M753.0 1727.6h0M766.4 1852.4h0M791.4 1817.8h0M767.1 1807.5h0M746.8 1753.8h0M765.9 1704.7h0M771.4 1824.7h0M783.6 1802.1h0M771.1 1719.0h0M771.4 1736.4h0M766.8 1848.5h0M742.3 1899.5h0M774.9 1820.9h0M772.9 1785.0h0M781.6 1828.1h0M776.1 1778.7h0M758.9 1776.3h0M780.9 1774.6h0M736.7 1761.8h0M775.2 1758.2h0M783.9 1802.4h0M741.4 1749.1h0M758.2 1729.6h0M738.5 1925.0h0M757.0 1724.4h0M772.1 1777.2h0M741.2 1730.0h0M743.2 1773.8h0M780.4 1800.7h0M731.1 1928.7h0M775.3 1825.1h0M755.9 1880.5h0M737.9 1916.4h0M766.7 1836.3h0M767.9 1811.0h0M757.6 1758.8h0M742.9 1720.2h0M786.1 1814.7h0M763.0 1777.7h0M779.6 1702.2h0M754.4 1716.3h0M751.6 1762.2h0M775.2 1772.6h0M769.4 1832.8h0M778.3 1818.9h0M796.7 1798.6h0M765.7 1786.6h0M778.1 1765.1h0M766.7 1800.1h0M797.9 1791.4h0M770.3 1743.1h0M745.0 1736.3h0M738.1 1928.0h0M741.7 1770.7h0M775.7 1748.9h0M767.9 1698.9h0M772.3 1793.3h0M778.9 1755.5h0M745.0 1904.7h0M773.5 1786.0h0M752.8 1803.5h0M766.8 1786.8h0M781.0 1805.1h0M772.3 1820.9h0M752.7 1774.2h0M743.4 1902.8h0M796.2 1804.5h0M781.1 1798.2h0M754.6 1791.8h0M738.1 1918.8h0M765.2 1824.2h0M781.1 1831.6h0M774.9 1826.8h0M773.0 1796.7h0M730.1 1706.0h0M774.3 1745.2h0M773.5 1712.1h0M762.1 1706.7h0M771.1 1797.7h0M762.9 1791.4h0M784.0 1801.6h0M753.8 1881.4h0M755.6 1710.6h0M785.3 1743.8h0M756.2 1878.5h0M754.5 1867.6h0M776.6 1829.5h0M743.4 1902.6h0M763.1 1783.2h0M772.1 1813.6h0M829.7 1944.7h0M832.0 1938.4h0M828.1 1942.3h0M836.3 1936.1h0M833.2 1895.7h0M741.9 1961.0h0M746.6 1966.4h0M765.2 1967.6h0M773.0 1967.2h0M785.4 1966.1h0M762.1 1973.4h0M766.8 1974.2h0M762.1 1980.4h0M776.1 1969.5h0" stroke="#111" stroke-width="1.7" stroke-linecap="round" fill="none"/>
<rect x="735.4" y="1866.6" width="102.5" height="104.1" fill="none" stroke="#111" stroke-width="1.4"/>
<rect x="714.9" y="1697.0" width="380.0" height="380.8" fill="none" stroke="#111" stroke-width="1.5"/>
<path d="M710.9 2061.9h4M710.9 2047.4h4M710.9 2033.0h4M710.9 2018.5h4M710.9 1989.7h4M710.9 1975.2h4M710.9 1960.8h4M710.9 1946.3h4M710.9 1917.5h4M710.9 1903.0h4M710.9 1888.6h4M710.9 1874.1h4M710.9 1845.3h4M710.9 1830.8h4M710.9 1816.4h4M710.9 1801.9h4M710.9 1773.1h4M710.9 1758.6h4M710.9 1744.2h4M710.9 1729.7h4M710.9 1931.9h4M710.9 1787.5h4M730.4 2077.8v4.5M744.8 2077.8v4.5M759.1 2077.8v4.5M773.5 2077.8v4.5M802.3 2077.8v4.5M816.7 2077.8v4.5M831.0 2077.8v4.5M845.4 2077.8v4.5M874.2 2077.8v4.5M888.6 2077.8v4.5M902.9 2077.8v4.5M917.3 2077.8v4.5M946.1 2077.8v4.5M960.5 2077.8v4.5M974.8 2077.8v4.5M989.2 2077.8v4.5M1018.0 2077.8v4.5M1032.4 2077.8v4.5M1046.7 2077.8v4.5M1061.1 2077.8v4.5M1089.9 2077.8v4.5M705.4 1714.6h9.5M705.4 1859.0h9.5M705.4 2003.0h9.5M705.4 2076.3h9.5M716.0 2077.8v9.5M787.8 2077.8v9.5M859.8 2077.8v9.5M931.9 2077.8v9.5M1003.8 2077.8v9.5M1075.6 2077.8v9.5" stroke="#111" stroke-width="1.3" fill="none"/>
<text x="701.5" y="1726.1" font-size="33" text-anchor="end">250K</text>
<text x="701.5" y="1870.5" font-size="33" text-anchor="end">150K</text>
<text x="701.5" y="2014.5" font-size="33" text-anchor="end">50K</text>
<text x="701.5" y="2084.8" font-size="33" text-anchor="end">0</text>
<text x="718.6" y="2117.5" font-size="33" text-anchor="middle">0</text>
<text x="796.3" y="2117.5" font-size="33" text-anchor="middle">50K</text>
<text x="940.8" y="2117.5" font-size="33" text-anchor="middle">150K</text>
<text x="1085.9" y="2117.5" font-size="33" text-anchor="middle">250K</text>
<text transform="translate(615.3 1891.2) rotate(-90)" font-size="33" text-anchor="middle">SSC-H</text>
<text x="913.8" y="2163.0" font-size="33" text-anchor="middle">SSC-W</text>
<text x="711.5" y="1604.3" font-size="33">150103.fcs</text>
<text x="711.5" y="1645.0" font-size="33">cells</text>
<text x="711.5" y="1685.7" font-size="33">8585</text>
<text x="835.8" y="1999.7" font-size="28" text-anchor="middle">single cells SSC</text>
<text x="840.6" y="2031.9" font-size="28" text-anchor="middle">88.3%</text>
<path d="M1251.5 1876.7l1.7-2.1l7-13.3l4.3-5.8l3.5-2.6l3.4-1.3l2.6-.1l3.5 1l3.5 2l2.6 2.1l2.6 2.9l8.7 11.7l6.9 6.9l5.3 4.1l5.1 3l6.6 3.1l16.8 5.6l31.2 13.9l20 9.4l15.6 8.2l8.7 5.6l7.4 6.6l4.4 6.1l1.3 3.5l.4 2.6l-.9 3.4l-1.2 1.7l-1.9 1.7l-4.3 2.2l-6.1 1.8l-5.2 1l-8.7 .9l-21.7 1.3l-12.1 .3l-13-.2l-18.2-1l-11.3-1.3l-14-2.3l-10.3-.9l-7.8 .3l-13.9 2.3l-6-.1l-3.5-.8l-2.6-1.3l-3.5-2.5l-5.2-4.5l-1.7-.9M1251.5 1885.1l1.7-2.1l7-13.7l4.3-6l2.6-2.2l3.5-1.8l2.6-.5l3.4 .7l3.5 1.9l3.5 2.8l11.3 14.7l6.9 6.7l5.2 3.9l4.3 2.3l6.3 2.6l14.5 4l7 2.6l32.1 13.5l26 12.4l8.7 5.1l7.1 5.6l3.1 3.5l1.7 2.6l1.1 2.6l.4 2.6l-.5 2.6l-2.5 2.8l-4.4 2.3l-6 1.6l-9.6 1.4l-15.6 1.1l-13.9 .5l-13-.1l-25.1-1.5l-7.8-1l-14.8-3l-10.4-1.1l-7.8 .2l-13.9 2.4l-6-.2l-3.5-1l-2.6-1.5l-3.5-2.9l-5.2-5.4l-1.7-1M1251.5 1892.1l1.7-2.3l6.9-14.5l4.4-6.4l2.6-2.2l3.5-1.9l2.6-.5l2.6 .4l3.5 1.6l4.3 3.5l11.3 14.9l6.9 6.7l5.2 3.8l3.5 1.8l5.2 1.8l16.4 4l5.3 1.7l29.4 11.8l23.5 10.6l10.4 5.6l7.3 5.1l4.7 5.2l1.3 2.6l.5 2.6l-.6 2.6l-2.8 2.7l-5.2 2.1l-7 1.4l-10.4 1.2l-14.7 .8l-13.9 .2l-13-.3l-20.8-1.7l-20-4.2l-10.4-1.3l-6.9 .2l-14.8 2.5l-6-.3l-3.5-1.2l-2.6-1.7l-4.1-3.8l-4.6-5.6l-1.7-1.3M1251.5 1898.8l1.7-2.6l6.3-14.8l4.1-6.7l2.6-2.7l3.5-2.2l3.5-.9l2.6 .4l3.5 1.7l3.4 2.8l2.9 3.2l5.8 8.5l3.5 4.2l6.9 6.8l5.2 3.7l3.5 1.6l3.8 1.2l17 3.3l5.2 1.5l26.9 10.3l19.9 8.7l12.2 6.1l7.4 4.7l2.9 2.6l2.2 2.6l1.3 2.6l.4 1.8l-.7 2.6l-1.4 1.4l-2.6 1.5l-3.5 1.1l-10.4 1.9l-18.2 1.2l-19.9 .1l-20-1.1l-11.3-1.6l-17.3-4.3l-9.5-1.1l-6.1 .3l-13 2.4l-4.4 .3l-5.2-1l-3.4-2l-3.6-3.5l-6-8l-1.7-1.6M1251.5 1906.9l1.7-3.7l5-14l2.4-5.2l2.6-4.4l2.2-2.6l3.4-2.7l3.5-1.2l2.6 0l3.5 1.5l4.3 3.5l2.9 3.3l5.8 8.7l3.5 4.3l6.9 6.9l4.3 3.2l3.5 1.6l3.5 1l17.3 2.6l5.2 1.2l31.2 11.7l17.4 7.6l10.6 5.7l3.8 2.6l2.9 2.6l1.9 2.6l.9 2.6l-.3 1.7l-1.3 1.8l-3.1 1.7l-4.1 1.3l-11.3 1.6l-17.4 .9l-18.2-.1l-18.2-1.3l-10.4-1.9l-13.9-4l-10.4-1.4l-6 .1l-13.9 2.8l-5.2 .1l-4.4-1l-4.3-3l-4.4-5.4l-5.1-8.6l-.9-.9M1372.9 1953.3l-20.8 .3l-20-1.2l-11.2-2.1l-14.8-4.6l-9.5-1.4l-6.9 .2l-15.7 3.2l-4.3-.2l-4.3-1.5l-2-1.4l-2.4-2.4l-4.2-6.3l-3.2-7.8l-1.1-6l.5-7l2.6-13l3.2-9.5l4-8.2l3.4-4.4l3.5-2.3l3.5-1l3.4 .8l3.5 2.2l2.8 2.5l2.4 3l6.1 9.3l3.5 4.4l6.9 7.2l4.3 3.2l5.2 1.8l19.1 1.9l7.8 1.9l26.9 9.9l17.1 7.6l8.1 4.4l4.7 3.4l2.8 3.5l.6 2.6l-1.2 2.2l-3.5 1.9l-4.3 1.2l-7 1zM1369.4 1951.5l-18.2 .4l-19.1-1.2l-11.2-2.3l-14.8-5.3l-7.8-1.1l-7.8 .2l-12.1 3l-4.4 .7l-4.3-.3l-4.3-1.7l-3.9-3.7l-3.8-6l-2.2-6.1l-.8-6l.7-9.6l1.8-9.5l2.8-8.6l3.3-7l2.9-3.7l3.5-2.5l3.5-1l2.6 .5l3.5 2l3.4 3.2l2.6 3.3l6.1 9.6l3.5 4.7l6.9 7.6l4.3 3.3l4.4 1.4l19 .5l7.9 1.5l25.1 9l14.2 6.5l8.3 4.3l3.7 2.6l2.4 2.6l.9 2.6l-.9 1.8l-2.8 1.7l-4.1 1.1zM1366.0 1949.8l-17.4 .5l-17.3-1.3l-11.1-2.7l-13.2-5.8l-6.1-1l-5.2-.1l-4.3 .5l-16.5 4.3l-4.3-.2l-4.4-1.5l-3.6-3.1l-3.4-5.2l-2-5.2l-1-6.1l.4-7.8l1.5-9.5l2.6-8.6l2.9-6.5l3.5-4.4l2.6-1.8l1.7-.7l3.5-.1l3.5 1.8l3.5 3.1l2.6 3.2l7.8 12.8l6 8l5.2 5.7l3.5 2.3l3.5 .6l8.6-1.1l9.6-.3l6.9 .8l24.3 8.4l7.9 3.6l9.7 5.2l4 2.6l2.6 2.6l.6 1.8l-1 1.7l-2.1 1.1l-3.5 .9zM1360.8 1948.0l-7.8 .5l-8.7-.1l-9.5-.6l-6.1-1.1l-6.1-1.7l-4.3-1.9l-4.7-2.9l-4.9-3.9l-2.6-1.2l-2.6 .1l-10.4 1.8l-17.3 5.4l-5.2-.1l-4.4-1.6l-3.3-3.1l-2.6-4.3l-1.9-5.2l-.7-5.2l.3-7.8l1.5-8.6l1.9-6.9l2.6-6.1l3.1-4.1l1.7-1.4l2.6-1.3l1.8-.3l1.7 .2l1.7 .8l2.5 1.8l3.4 3.4l2.5 3.5l8.1 14.4l9.6 14.7l2.6 3.4l1.7 1.2l.9 .2l1.7-.5l5.3-3.1l4.2-1.7l7.8-1.2l5.2-.2l4.4 .8l5.2 1.6l14.4 5l7.4 3.5l5.4 3.4l3.2 2.6l1.5 1.8l.5 1.7l-.5 .9l-1.2 .8l-2.2 .9zM1277.5 1940.4l-3.5 .6l-2.6-.1l-3.4-1l-2.6-1.7l-2.2-2.3l-2-3.5l-1.3-3.4l-.8-4.3l-.1-5.2l.7-7l1.4-6.9l1.7-5.7l1.7-3.8l2.5-3.5l2.7-2.3l2.6-1l2.6 .2l2.6 1.4l3.5 3.3l3.3 4.5l3.4 6l7 14.8l2 5.2l.7 3.4l-.3 2.6l-1.4 1.7l-1.4 .9l-8.8 4.3zM1353.0 1946.3l-7.8 .2l-7.8-.4l-5.8-.7l-4.7-1.2l-5.3-2.2l-3.5-2.6l-1.4-2.6l.2-2.6l1-1.8l2.1-1.8l3.5-1.6l4.3-1.2l3.5-.6l2.6 .1l6.7 1.7l16 6l4.1 2.6l2.5 2.6l.7 1.8l-.1 .8l-2 1.8l-3.6 1zM1274.9 1939.5l-3.5-.1l-2.6-.7l-2.6-1.5l-1.7-1.7l-1.7-2.5l-1.4-3.2l-.9-3.4l-.4-3.5l.3-6l.8-6.1l1.4-6.1l1.6-4.3l1.8-3.4l2-2.4l2.6-2l2.6-.6l2.6 .6l2.6 2l3.5 3.9l2.6 4l2.9 5.7l2.7 6.9l1.9 6.1l.8 5.2l-.6 3.4l-1.2 1.8l-2.2 2l-6.1 3.4l-4.3 1.6zM1346.9 1943.7l-9.5 .1l-6.4-1l-2.3-.8l-2.8-1.8l-1.4-1.7l0-1.7l2.1-2.6l3.8-1.9l3.5-.5l4.3 .9l10.1 4.1l4 2.6l.8 1.7l-.4 .9l-1.5 .8zM1275.8 1937.8l-2.6 .2l-2.6-.4l-2.6-1.1l-2-1.5l-1.5-1.7l-1.7-3.1l-1-2.9l-.5-3.5l.1-4.3l.6-6.1l2.5-9.7l1.7-3.6l1.8-2.3l2.6-2.2l2.6-.8l1.8 .4l2.6 1.8l3.1 3.4l2.9 4.5l2.1 4.2l1.9 5.2l1.4 5.2l.6 4.3l-.2 4.3l-.7 1.7l-1.6 2.2l-4.4 3zM1276.6 1936.0l-2.6 .4l-2.6-.2l-2.6-.9l-1.7-1.2l-1.7-1.8l-1.5-2.5l-1.3-5.1l-.1-4.4l.5-5.2l1.1-5.2l1.3-4l1.7-3.5l1.7-2.3l2.6-2l1.8-.3l1.7 .3l2.6 1.9l4.7 6.5l3.4 7.8l1.6 7.8l-.1 5.2l-1.8 3.3l-3.2 2.7zM1276.6 1934.3l-2.6 .6l-1.7-.1l-2.1-.6l-2.2-1.3l-2.6-3.1l-1.1-2.5l-.5-2.6l-.2-3.8l.5-4.9l2.1-7.9l1.8-3.4l1.7-2.2l1.7-1.3l1.8-.4l1.7 .4l1.7 1.2l3.8 4.9l3.1 7l1.6 6.9l0 4.3l-1.2 3.5l-2.9 2.9zM1276.6 1932.5l-2.6 .7l-1.7-.1l-3.4-1.5l-2.7-3.1l-1.1-3.8l.1-7l1.9-7.1l2.6-4.5l1.7-1.6l1.8-.5l2.6 1l3.2 4.1l2.4 5.2l1.5 6l.1 4.4l-.7 2.6l-2.2 2.9zM1275.8 1930.9l-1.8 .5l-1.7-.1l-2.6-1.3l-2.3-2.7l-1-3.5l.2-5.2l1.4-5.2l2.6-4.5l.8-.8l1.8-.6l2.1 .7l2.2 2.7l2 4.2l1.2 5.2l.1 3.5l-.7 2.9l-1.7 2.5zM1274.9 1929.2l-2.6 .1l-2-1.2l-1.5-1.9l-.8-3.3l.2-3.4l1.2-4.4l2-3.1l1.8-.9l1.7 .6l1.7 2.2l1.6 3.8l.6 3.5l-.1 2.6l-.7 2.6l-1.4 1.7zM1273.2 1927.3l-1.8-.8l-.8-1l-.8-3.4l.8-4.4l.9-1.7l1.7-1.1l1.7 .8l.9 1.4l.8 2.4l.3 2.6l-.3 2.1l-.8 1.8l-.9 .8zM1274.0 1924.4l-.8 .2l-.9-.5l-.5-1.2l.2-2.6l.3-.8l.9-.6l.8 .3l.9 2l0 1.7z" stroke="#777" stroke-width="0.95" fill="none"/>
<path d="M1300.8 1859.4h0M1281.2 1834.4h0M1382.3 1906.5h0M1339.7 1889.4h0M1302.2 1871.2h0M1324.1 1974.8h0M1279.5 1826.1h0M1263.9 1832.5h0M1306.0 1869.2h0M1344.0 1886.6h0M1337.5 1893.1h0M1406.6 1974.7h0M1352.3 1889.7h0M1385.5 1916.7h0M1334.7 1884.9h0M1337.5 1889.5h0M1292.4 1851.0h0M1338.3 1893.6h0M1413.5 1965.4h0M1392.8 1969.8h0M1337.4 1882.6h0M1298.8 1868.5h0M1354.7 1896.3h0M1331.6 1873.9h0M1375.0 1907.1h0M1271.6 1838.0h0M1254.2 1811.1h0M1373.3 1909.5h0M1338.7 1885.3h0M1255.5 1834.0h0M1312.9 1973.7h0M1350.0 1863.8h0M1346.2 1896.9h0M1324.3 1875.9h0M1289.8 1846.4h0M1265.7 1847.7h0M1270.0 1836.9h0M1354.3 1901.6h0M1303.9 1861.7h0M1262.7 1847.0h0M1265.3 1827.4h0M1252.8 1970.2h0M1371.7 1898.1h0M1353.1 1894.2h0M1280.8 1831.0h0M1289.9 1969.4h0M1351.5 1885.7h0M1279.8 1824.2h0M1389.8 1911.8h0M1261.9 1826.4h0M1262.8 1837.7h0M1363.2 1898.8h0M1277.0 1850.7h0M1332.6 1870.9h0M1295.5 1854.2h0M1374.5 1894.2h0M1290.5 1855.6h0M1311.3 1876.1h0M1281.6 1823.8h0M1297.7 1849.3h0M1347.0 1882.9h0M1292.7 1838.2h0M1393.1 1918.8h0M1287.0 1968.8h0M1287.7 1857.6h0M1272.7 1817.2h0M1334.2 1886.0h0M1272.6 1840.1h0M1349.0 1899.2h0M1267.4 1828.0h0M1282.0 1852.4h0M1273.3 1836.2h0M1351.8 1891.3h0M1307.0 1975.1h0M1347.5 1895.9h0M1316.6 1877.9h0M1353.5 1900.3h0M1372.0 1904.0h0M1315.0 1870.4h0M1266.3 1970.1h0M1264.0 1827.8h0M1289.0 1855.3h0M1281.4 1846.3h0M1359.8 1900.8h0M1359.1 1903.6h0M1267.5 1813.4h0M1256.4 1836.0h0M1269.3 1837.3h0M1296.4 1862.9h0M1284.3 1829.1h0M1271.4 1836.5h0M1326.5 1871.5h0M1334.2 1876.2h0M1289.0 1797.5h0M1287.9 1834.2h0M1336.9 1970.9h0M1290.6 1834.8h0M1325.3 1975.2h0M1340.1 1893.1h0M1291.0 1854.0h0M1295.1 1857.1h0M1294.1 1846.4h0M1365.2 1974.3h0M1306.6 1869.8h0M1280.4 1845.2h0M1286.7 1844.1h0M1322.1 1876.0h0M1264.0 1842.7h0M1358.6 1973.4h0M1310.0 1980.5h0M1302.0 1843.1h0M1264.1 1822.5h0M1323.5 1867.1h0M1342.5 1877.5h0M1261.7 1824.4h0M1281.1 1826.1h0M1324.4 1881.4h0M1300.9 1831.8h0M1286.0 1848.2h0M1281.8 1843.8h0M1357.2 1899.4h0M1279.9 1972.8h0M1301.0 1860.3h0M1263.8 1822.3h0M1344.4 1896.2h0M1419.8 1971.7h0M1284.3 1833.0h0M1340.1 1888.4h0M1282.9 1838.0h0M1387.7 1914.8h0M1315.1 1872.4h0M1265.0 1836.3h0M1254.9 1849.9h0M1353.3 1882.4h0M1258.0 1831.3h0M1309.2 1867.9h0M1313.0 1868.5h0M1295.0 1854.3h0M1398.6 1975.3h0M1337.4 1891.7h0M1377.5 1909.4h0M1393.6 1916.4h0M1294.2 1802.6h0M1264.8 1834.4h0M1256.2 1840.3h0M1265.3 1840.6h0M1257.6 1834.1h0M1347.7 1891.5h0M1350.7 1887.6h0M1277.3 1841.0h0M1346.8 1892.7h0M1413.2 1971.7h0M1270.6 1815.7h0M1307.2 1874.8h0M1367.9 1894.3h0M1287.8 1839.6h0M1282.8 1845.1h0M1257.5 1849.3h0M1347.4 1970.2h0M1299.8 1859.6h0M1307.1 1866.2h0M1295.1 1855.2h0M1281.2 1851.5h0M1253.8 1971.9h0M1284.0 1850.7h0M1260.7 1840.0h0M1391.4 1919.1h0M1335.5 1889.9h0M1258.9 1834.3h0M1381.2 1912.4h0M1366.6 1974.0h0M1381.3 1911.1h0M1275.6 1800.4h0M1278.8 1835.2h0M1372.8 1973.5h0M1278.1 1841.6h0M1311.1 1870.1h0M1357.7 1902.0h0M1334.7 1874.3h0M1325.4 1972.9h0M1343.6 1880.0h0M1370.9 1972.1h0M1359.2 1895.3h0M1327.3 1882.7h0M1348.8 1893.4h0M1290.0 1821.4h0M1340.1 1972.5h0M1335.0 1882.6h0M1282.1 1831.7h0M1370.8 1975.7h0M1272.4 1841.8h0M1400.1 1971.9h0M1359.7 1897.0h0M1278.0 1815.9h0M1339.7 1893.8h0M1267.9 1833.1h0M1321.4 1874.2h0M1262.8 1839.2h0M1273.3 1833.0h0M1339.1 1886.1h0M1382.3 1903.4h0M1268.8 1837.3h0M1271.7 1820.2h0M1300.0 1855.3h0M1353.7 1974.9h0M1294.2 1859.9h0M1338.0 1881.8h0M1331.9 1886.3h0M1263.4 1846.9h0M1260.6 1813.4h0M1312.6 1877.3h0M1280.7 1851.3h0M1269.7 1837.5h0M1332.1 1877.1h0M1294.5 1864.9h0M1308.9 1866.6h0M1316.5 1877.4h0M1280.0 1845.5h0M1342.1 1891.3h0M1360.3 1898.7h0M1393.3 1917.8h0M1259.4 1831.5h0M1364.6 1897.1h0M1280.4 1972.9h0M1348.8 1891.7h0M1311.5 1875.3h0M1254.8 1841.0h0M1254.0 1847.8h0M1300.2 1967.2h0M1276.8 1834.1h0M1287.9 1839.8h0M1260.5 1858.9h0M1363.6 1899.3h0M1290.5 1848.4h0M1395.7 1921.6h0M1289.2 1854.7h0M1293.9 1854.6h0M1356.3 1895.3h0M1270.1 1972.7h0M1380.8 1908.1h0M1313.0 1871.9h0M1291.2 1857.6h0M1286.8 1837.8h0M1322.2 1868.5h0M1275.6 1838.1h0M1261.3 1859.0h0M1353.4 1897.9h0M1286.6 1840.3h0M1276.8 1841.7h0M1283.2 1852.3h0M1282.8 1855.8h0M1283.3 1832.4h0M1291.7 1863.4h0M1383.9 1897.0h0M1333.2 1887.9h0M1297.9 1823.0h0M1275.0 1847.6h0M1385.5 1916.8h0M1288.6 1858.4h0M1294.5 1866.6h0M1261.8 1826.6h0M1344.7 1889.8h0M1265.0 1833.5h0M1282.7 1831.0h0M1301.9 1865.0h0M1346.4 1875.1h0M1309.7 1862.0h0M1297.2 1860.7h0M1270.9 1845.7h0M1276.0 1848.5h0M1381.3 1906.8h0M1342.7 1892.3h0M1301.4 1856.3h0M1335.7 1878.2h0M1302.3 1859.0h0M1337.4 1882.4h0M1277.5 1816.9h0M1344.8 1873.7h0M1322.3 1883.2h0M1380.9 1907.0h0M1265.2 1845.6h0M1370.9 1878.9h0M1328.7 1886.4h0M1349.0 1893.8h0M1356.7 1894.5h0M1260.6 1833.9h0M1260.6 1813.9h0M1331.3 1879.7h0M1303.7 1868.9h0M1287.7 1845.4h0M1336.3 1889.8h0M1256.6 1845.5h0M1287.4 1825.1h0M1342.1 1890.0h0M1307.1 1867.7h0M1346.7 1973.9h0M1308.9 1872.7h0M1261.0 1854.2h0M1319.0 1876.9h0M1405.8 1971.9h0M1340.4 1884.5h0M1361.9 1904.3h0M1338.8 1884.4h0M1370.7 1906.0h0M1277.8 1840.7h0M1293.3 1835.9h0M1369.9 1897.9h0M1330.0 1887.9h0M1386.8 1913.8h0M1268.0 1848.2h0M1324.7 1877.7h0M1275.1 1843.3h0M1362.5 1892.6h0M1349.1 1974.8h0M1269.9 1819.8h0M1275.9 1840.8h0M1394.8 1920.7h0M1274.5 1974.5h0M1326.9 1877.1h0M1278.2 1846.5h0M1319.6 1882.7h0M1320.7 1882.9h0M1260.7 1840.2h0M1338.3 1871.4h0M1274.9 1827.2h0M1318.1 1875.7h0M1331.8 1888.7h0M1257.0 1825.7h0M1369.4 1882.2h0M1375.1 1882.5h0M1391.8 1918.8h0M1287.3 1856.5h0M1357.8 1896.9h0M1391.4 1968.6h0M1315.7 1875.7h0M1373.6 1899.2h0M1255.1 1850.4h0M1286.7 1843.2h0M1279.8 1839.0h0M1350.7 1886.0h0M1324.5 1875.0h0M1327.1 1871.6h0M1399.9 1975.2h0M1263.5 1824.5h0M1349.9 1896.3h0M1261.7 1854.9h0M1357.0 1896.0h0M1282.4 1851.0h0M1280.4 1829.9h0M1307.7 1869.6h0M1277.9 1852.8h0M1401.2 1973.5h0M1348.3 1893.3h0M1380.5 1909.3h0M1383.8 1910.6h0M1289.1 1829.6h0M1354.4 1893.0h0M1292.1 1971.4h0M1335.4 1876.6h0M1388.4 1917.3h0M1445.1 1970.0h0M1446.3 1965.3h0M1432.3 1960.6h0M1436.4 1963.4h0M1433.9 1957.5h0M1432.9 1960.7h0M1432.8 1955.1h0M1435.9 1962.6h0M1430.8 1958.2h0M1441.8 1965.0h0M1434.3 1957.5h0M1433.9 1959.4h0M1451.4 1965.9h0M1435.1 1958.1h0M1439.5 1965.8h0M1425.8 1954.5h0M1424.9 1952.8h0M1434.8 1957.5h0M1439.9 1963.0h0M1442.8 1960.4h0M1442.7 1958.0h0M1434.6 1958.6h0M1444.3 1963.4h0M1430.9 1956.6h0M1429.6 1954.6h0M1446.0 1962.4h0M1429.9 1956.1h0M1439.0 1963.9h0M1433.1 1954.6h0M1429.1 1955.0h0M1423.8 1954.4h0M1431.2 1953.2h0M1434.5 1956.9h0M1429.7 1957.4h0M1438.5 1966.9h0M1442.0 1965.2h0M1451.5 1967.2h0M1447.1 1965.6h0M1430.4 1953.3h0M1430.6 1956.4h0" stroke="#111" stroke-width="1.7" stroke-linecap="round" fill="none"/>
<rect x="1251.8" y="1866.2" width="174.9" height="103.2" fill="none" stroke="#111" stroke-width="1.4"/>
<rect x="1251.5" y="1697.0" width="380.7" height="380.8" fill="none" stroke="#111" stroke-width="1.5"/>
<path d="M1247.5 2061.9h4M1247.5 2047.4h4M1247.5 2033.0h4M1247.5 2018.5h4M1247.5 1989.7h4M1247.5 1975.2h4M1247.5 1960.8h4M1247.5 1946.3h4M1247.5 1917.5h4M1247.5 1903.0h4M1247.5 1888.6h4M1247.5 1874.1h4M1247.5 1845.3h4M1247.5 1830.8h4M1247.5 1816.4h4M1247.5 1801.9h4M1247.5 1773.1h4M1247.5 1758.6h4M1247.5 1744.2h4M1247.5 1729.7h4M1247.5 1931.9h4M1247.5 1787.5h4M1266.9 2077.8v4.5M1281.3 2077.8v4.5M1295.7 2077.8v4.5M1310.1 2077.8v4.5M1338.9 2077.8v4.5M1353.3 2077.8v4.5M1367.7 2077.8v4.5M1382.1 2077.8v4.5M1410.9 2077.8v4.5M1425.3 2077.8v4.5M1439.7 2077.8v4.5M1454.1 2077.8v4.5M1482.9 2077.8v4.5M1497.3 2077.8v4.5M1511.7 2077.8v4.5M1526.1 2077.8v4.5M1554.9 2077.8v4.5M1569.3 2077.8v4.5M1583.7 2077.8v4.5M1598.1 2077.8v4.5M1626.9 2077.8v4.5M1242.0 1714.6h9.5M1242.0 1859.0h9.5M1242.0 2003.0h9.5M1242.0 2076.3h9.5M1252.5 2077.8v9.5M1323.7 2077.8v9.5M1395.7 2077.8v9.5M1468.5 2077.8v9.5M1540.5 2077.8v9.5M1612.5 2077.8v9.5" stroke="#111" stroke-width="1.3" fill="none"/>
<text x="1236.5" y="1726.1" font-size="33" text-anchor="end">250K</text>
<text x="1236.5" y="1870.5" font-size="33" text-anchor="end">150K</text>
<text x="1236.5" y="2014.5" font-size="33" text-anchor="end">50K</text>
<text x="1236.5" y="2084.8" font-size="33" text-anchor="end">0</text>
<text x="1250.8" y="2117.5" font-size="33" text-anchor="middle">0</text>
<text x="1331.5" y="2117.5" font-size="33" text-anchor="middle">50K</text>
<text x="1467.5" y="2117.5" font-size="33" text-anchor="middle">150K</text>
<text x="1612.2" y="2117.5" font-size="33" text-anchor="middle">250K</text>
<text transform="translate(1147.5 1888.3) rotate(-90)" font-size="33" text-anchor="middle">FSC-H</text>
<text x="1440.4" y="2171.5" font-size="33" text-anchor="middle">FSC-W</text>
<text x="1248.0" y="1604.3" font-size="33">150103.fcs</text>
<text x="1248.0" y="1645.0" font-size="33">single cells SSC</text>
<text x="1248.0" y="1685.7" font-size="33">7580</text>
<text x="1405.0" y="2002.6" font-size="28" text-anchor="middle">single cells FSC</text>
<text x="1402.7" y="2031.6" font-size="28" text-anchor="middle">95.9%</text>
<path d="M2102.9 1973.1l-5.2-.1l-4.4-1.1l-23.4-9.3l-20-6.4l-14.8-5.7l-6.9-3.9l-4.3-3.8l-2.4-3.4l-.9-4.4l.5-3.4l1.5-4.3l2.9-5.2l3.6-5.2l10.2-12.2l15.8-15.6l13.1-11.1l10.4-7.2l13.9-7.1l4.3-1.5l4.4-.5l3.4 .2l5.2 1.1l4.4 1.5l2.6 1.3l3.5 2.6l3.4 3.2l5.8 7.2l6 11.2l4.4 12.1l2.7 12.2l1.1 12.1l-.5 6.9l-2.8 8.7l-4.2 7.8l-6.5 8.6l-6.8 6.6l-7 5l-5.2 1.9zM2107.2 1968.8l-6.9 .7l-6.1-1.2l-25.3-10.8l-23.3-8.5l-7.4-3.6l-4.8-3.3l-3-3.6l-1.1-3.5l.2-3.4l1-3.5l2.1-4.3l2.7-4.3l8.4-10.4l12.3-12.4l13-11.2l9.6-6.7l13.9-7.2l4.3-1.4l3.5-.6l6.9 .7l7.9 2.5l5.2 3.6l6 6.4l5 8.1l4.4 10.4l2.7 9.5l1.6 11.3l.1 8.6l-1 6.1l-2.7 6.9l-4.2 6.9l-5.6 6.9l-7.2 6.4l-5.2 3.1zM2106.4 1966.3l-6.1 .4l-6.1-1.3l-25.2-11.4l-18.2-7.4l-6.1-3.2l-4.2-3.2l-2.2-2.6l-1.2-3.4l.2-3.5l.9-3.4l1.5-3.5l2.6-4.3l7.5-9.6l10.4-10.3l10.6-9.2l8.6-6l13.1-6.9l4.3-1.5l3.5-.6l6.9 .7l4.4 1.1l3.5 1.4l5.2 3.8l5.2 5.7l4.4 7.1l3.9 9.5l2.5 9.6l1.2 9.5l.1 7.8l-1.2 6l-2.5 6.1l-4.3 6.9l-5 5.7l-6.9 5.9l-5.3 2.6zM2108.1 1963.6l-6.1 .8l-5.2-.5l-4.3-1.6l-11.3-5.3l-12.2-6.2l-13-6.1l-4.9-2.7l-2.9-2.2l-2.1-2.2l-1.1-1.7l-.8-2.6l.1-3.5l.9-3.4l1.4-3.5l2.5-4.3l6.1-7.8l10.4-10.4l7.8-6.7l7.8-5.1l12.1-6.4l3.5-1.3l3.5-.7l3.5 .1l3.4 .5l7 2.3l4.3 2.9l4.8 4.9l4.2 6.1l3.6 7.7l2.6 8.7l1.5 9.5l.3 7.8l-.7 5.2l-2.1 6.1l-3.4 6l-4.7 5.7l-6.1 5.4l-4.3 2.7zM2106.4 1961.9l-6.1 .5l-4.4-.9l-4.3-1.8l-13-6.6l-16.9-9.4l-5.4-3.5l-2.9-2.6l-1.3-1.7l-.8-1.7l-.5-2.6l.1-2.6l.8-3.5l3.3-6.9l5.4-6.9l10.1-10.4l8.1-6.4l11.3-6.4l6-2.9l5.3-1.1l6 .6l7 2.4l4.3 3.2l4.4 4.7l4.3 6.7l2.9 7l2.1 7.8l1.2 9.5l0 6l-.9 5.2l-2.1 5.2l-3.2 5.3l-5.2 5.8l-5.2 4.3l-4.4 2.2zM2105.5 1960.2l-5.2 .3l-4.4-.9l-4.3-1.9l-13.9-7.6l-12.4-8.1l-4.4-3.5l-2.8-3.5l-.8-1.7l-.4-2.6l.1-2.6l.8-3.4l2.9-6.1l5.2-6.9l7.4-7.8l6.5-5.2l10.9-6.4l6.1-2.9l4.4-.9l5.2 .4l6.9 2.4l4.4 3l4.3 4.8l3.7 5.6l2.9 7l2 7.8l1 8.6l-.1 5.2l-1 5.2l-2.3 5.2l-3 4.3l-4.9 5.4l-4.4 3.3l-4.3 2.1zM2105.5 1958.5l-5.2 .2l-4.4-.9l-4.3-2.1l-12.2-7.1l-6.9-4.9l-6-5.2l-2.7-3.5l-.8-1.7l-.5-2.6l.5-5.2l2-5.2l4.1-6l6-7l6.1-5.1l9.5-5.9l6.1-3l4.4-.9l5.2 .4l6 2.2l4.4 2.8l4 4.3l3.4 5.2l2.7 6.1l1.8 6.9l1.1 8.7l-.1 5.2l-.9 4.3l-1.9 4.3l-3.6 5.2l-4.2 4.4l-4 3l-4.4 1.8zM2106.4 1956.7l-5.2 .5l-5.3-1.1l-4.3-2.2l-10.4-6.4l-6-4.7l-4.4-4.3l-2.9-4.3l-.8-3.5l.4-4.3l1.7-5.2l3.2-5.2l5-6.1l5.5-4.8l8.7-5.7l5.2-2.6l4.4-1l5.2 .6l5.2 1.8l4.3 2.7l3.5 3.6l3.5 5.3l2.3 5.3l1.7 6.1l1.1 7.8l.2 4.3l-.7 4.3l-1.8 4.4l-2.8 4.3l-3.9 4.3l-3.9 3.1l-3.5 1.6zM2107.2 1955.0l-4.3 .6l-4.3-.3l-3.5-1.2l-4.6-2.6l-8.8-6.1l-4.9-4.3l-4-5.2l-1.4-4.3l.2-4.3l1.2-4.4l2.2-4.3l4-5.2l4.8-4.7l6.9-5.2l5.2-2.9l4.4-1.3l4.3 .1l5.2 1.6l4.4 2.3l3.4 3.2l3.1 4.3l2.5 5.2l1.8 6.1l1.1 6l.3 5.2l-.4 3.5l-1.1 3.4l-2.5 4.4l-3 3.7l-3.5 3.1l-3.5 1.9zM2103.8 1954.1l-4.4-.1l-3.5-1.1l-4.3-2.4l-6.8-5.1l-4-3.4l-3-3.5l-1.9-3.5l-.8-3.4l.3-4.3l1.3-4.4l2.4-4.3l2.9-3.7l5.1-5l5.4-4.1l4.3-2.4l4.4-1l4.3 .4l4.3 1.5l4.4 2.5l3.1 3.1l2.7 4.4l2.2 5.2l1.7 6.9l.8 6l-.3 4.4l-1.1 3.4l-1.9 3.5l-2.9 3.6l-2.6 2.5l-3.5 2l-4.3 1.5zM2105.5 1952.5l-3.5 .3l-3.4-.4l-3.5-1.4l-3.5-2.2l-6.2-5.1l-3.4-3.5l-2.3-3.4l-1.3-4.4l.1-3.4l1.1-4.3l1.7-3.5l2.5-3.6l4.6-5.1l4.1-3.4l4.3-2.6l3.5-1l3.5 0l4.3 1.2l4.3 2.3l3.5 3.1l2.6 3.9l1.8 4.3l1.7 5.9l.9 5.4l.1 3.4l-.6 3.5l-1.5 3.5l-2.4 3.4l-2.6 2.7l-2.6 1.7l-3.5 1.5zM2107.2 1950.6l-3.4 .7l-3.5 0l-2.7-.7l-3.4-1.7l-4.4-3.5l-4.2-4.3l-2.5-3.5l-1.2-3.4l-.1-3.5l.6-3.4l1.4-3.5l2.6-4.3l3.6-4.4l3.3-3.1l3.5-2.3l3.5-1.1l3.5 .1l3.4 .9l3.9 2.1l3.1 2.5l2.6 3.5l1.6 3.5l1.4 4.3l1.1 5.2l.4 3.5l-.3 3.4l-.9 2.6l-1.6 3l-1.8 2.2l-2.5 2.2l-3.5 1.9zM2103.8 1949.9l-3.5-.1l-2.6-.7l-2.6-1.3l-3.1-2.4l-2.6-2.6l-2.6-3.4l-1.6-3.5l-.4-2.6l.3-3.5l1-3.4l1.7-3.5l2.2-3.4l3-3.5l2.9-2.4l2.7-1.3l2.6-.6l2.6 .2l3.4 1.1l3.5 2l2.9 2.7l2.3 3.5l1.5 3.5l1.5 5.1l.6 4.4l0 2.6l-.7 2.6l-1.2 2.6l-2 2.6l-2.3 1.9l-2.6 1.4l-3.5 1.2zM2105.5 1948.1l-5.2 .3l-2.6-.8l-2.6-1.5l-2.8-2.4l-2.1-2.6l-1.9-3.5l-.6-2.6l0-2.6l.6-3.4l2.7-6.1l4.3-5.2l2.4-1.7l2.6-.9l2.6-.1l2.6 .7l3.5 1.9l2.6 2.2l1.7 2.1l1.8 2.9l1.5 4.2l.9 3.4l.3 3.5l-.4 2.6l-1.1 2.6l-1.2 1.7l-3.5 3zM2106.4 1946.3l-5.2 .7l-2.6-.7l-1.8-.8l-2.3-1.8l-2-2.4l-1.2-1.9l-1-2.6l-.2-2.6l.3-2.6l2.2-6.1l3.3-4.4l2.2-1.6l2.2-.9l1.7-.2l2.6 .5l2.6 1.4l2.3 1.8l2.1 2.3l1.7 2.6l2.1 5.4l.4 4.4l-.6 2.6l-.9 1.7l-2.7 2.7zM2105.5 1944.8l-4.3 .5l-3.5-1.2l-3.2-3l-1.7-3.5l-.2-4.3l1.6-5l2.6-3.8l1.8-1.4l1.7-.7l1.7-.2l1.8 .3l2.6 1.3l1.7 1.4l3.5 4.6l1.6 4.4l.2 3.4l-1 2.6l-2.7 2.6zM2105.5 1942.9l-3.5 .7l-2.6-.6l-2.6-1.9l-1.5-2.6l-.4-3.5l1-4l1.8-2.8l2.6-1.9l2.6-.1l2.6 1.3l2.6 2.6l2.1 4.1l.5 2.6l-.7 2.6l-1.9 2zM2103.8 1941.4l-1.8 .2l-2-.5l-2-1.7l-.7-1.8l-.1-1.7l.7-2.6l1.5-2.2l1.8-1l1.7 .1l1.7 1l1.9 2.1l1 2.6l.1 1.7l-.8 1.8l-1.3 1.2zM2103.8 1938.7l-1.8 .6l-1.7-.9l-.4-.8l0-1.7l1.3-1.6l1-.1l1.6 .9l.7 1.7z" stroke="#777" stroke-width="0.95" fill="none"/>
<path d="M1995.7 1933.9h0M2006.7 1918.3h0M2023.5 1958.1h0M2036.7 1906.7h0M2007.6 1932.2h0M2154.8 1954.1h0M2070.8 1868.7h0M1997.6 1956.6h0M1981.4 1939.6h0M1979.8 1914.4h0M2001.1 1942.7h0M2037.2 1904.1h0M2006.0 1930.4h0M2005.2 1917.6h0M2050.0 1889.4h0M2137.5 1868.8h0M1998.0 1961.8h0M2163.5 1914.1h0M1994.5 1913.2h0M2005.9 1938.7h0M1971.9 1945.5h0M2009.6 1942.1h0M2142.1 1953.0h0M2152.1 1946.1h0M2055.8 1869.9h0M2024.4 1909.8h0M1977.0 1937.4h0M2016.9 1904.7h0M2005.1 1929.0h0M1964.9 1956.5h0M1952.7 1922.5h0M2014.8 1924.2h0M2154.6 1943.0h0M2016.9 1969.1h0M1967.2 1956.9h0M2162.6 1916.7h0M2032.4 1913.1h0M2010.0 1927.7h0M2005.4 1920.4h0M1984.8 1949.5h0M1986.0 1957.0h0M2005.5 1927.7h0M2026.4 1895.6h0M1962.8 1910.0h0M2009.3 1898.4h0M1986.6 1940.3h0M2046.1 1968.2h0M1996.1 1910.0h0M1998.8 1941.2h0M1999.4 1949.6h0M1985.5 1910.1h0M1983.6 1924.5h0M2007.0 1922.6h0M1992.5 1917.0h0M2013.7 1925.0h0M1995.4 1942.7h0M2004.9 1926.1h0M2152.2 1917.1h0M1983.6 1939.0h0M2057.8 1884.4h0M2012.8 1932.9h0M1989.8 1915.9h0M2130.9 1873.7h0M2006.7 1932.1h0M2019.0 1938.6h0M1969.3 1918.9h0M1967.0 1966.9h0M1983.3 1911.1h0M2010.8 1908.7h0M2161.5 1897.5h0M2012.3 1926.5h0M2000.0 1932.9h0M2006.2 1940.0h0M2002.3 1943.4h0M1954.6 1939.7h0M2010.7 1934.9h0M2023.4 1954.8h0M2038.2 1905.8h0M2006.2 1932.9h0M2005.5 1927.8h0M2024.7 1923.4h0M2023.4 1895.1h0M2145.6 1903.2h0M1978.1 1934.3h0M2007.4 1912.6h0M2026.5 1898.8h0M2010.7 1923.1h0M2016.6 1937.9h0M2016.8 1918.6h0M2045.6 1896.4h0M2026.6 1902.7h0M1984.3 1933.8h0M1987.6 1889.8h0M2003.8 1924.5h0M2013.1 1922.8h0M2014.6 1935.0h0M1996.7 1961.8h0M2007.5 1949.7h0M1985.6 1933.2h0M1950.9 1952.1h0M2008.6 1968.6h0M2157.5 1910.6h0M2016.6 1900.0h0M2161.1 1914.3h0M2048.4 1887.3h0M2001.1 1909.4h0M1999.2 1919.2h0M2009.3 1938.3h0M2146.8 1932.8h0M2027.4 1880.8h0M1969.5 1942.5h0M1995.8 1936.8h0M2020.3 1931.2h0M2013.9 1900.8h0M1990.1 1929.6h0M2038.5 1885.5h0M2021.6 1925.4h0M2032.3 1898.7h0M2143.0 1953.0h0M2016.5 1909.5h0M2145.3 1884.7h0M2000.5 1926.1h0M2021.3 1870.7h0M2010.3 1920.0h0M1956.6 1939.6h0M2019.5 1929.6h0M2155.3 1943.2h0M2011.3 1918.4h0M2014.3 1930.6h0M1992.0 1944.8h0M2159.5 1934.1h0M1988.8 1939.1h0M2001.9 1943.7h0M1964.6 1963.0h0M2021.8 1929.7h0M2007.9 1947.4h0M2023.0 1914.2h0M2001.7 1926.8h0M1956.9 1956.6h0M1988.3 1941.9h0M2014.3 1931.7h0M1982.5 1946.8h0M2006.3 1938.2h0M1967.6 1938.5h0M1995.0 1914.2h0M2013.9 1899.0h0M2042.5 1898.9h0M1982.4 1903.6h0M2006.0 1909.0h0M2021.2 1900.0h0M2022.6 1965.1h0M2005.6 1889.6h0M1964.0 1921.2h0M1967.5 1935.6h0M1993.7 1938.1h0M2029.3 1911.7h0M2032.1 1911.3h0M2162.5 1924.8h0M2005.2 1954.6h0M2028.9 1904.3h0M2013.6 1963.4h0M2019.9 1944.6h0M2023.4 1907.4h0M2030.5 1906.2h0M2003.7 1957.9h0M2005.7 1949.3h0M2020.4 1929.9h0M1995.8 1898.6h0M2017.4 1872.7h0M2007.3 1942.4h0M1989.1 1923.2h0M2154.9 1922.7h0M2007.9 1946.3h0M1990.3 1899.3h0M2041.8 1878.0h0M1966.0 1947.4h0M2016.6 1907.6h0M2002.2 1907.8h0M1992.6 1952.2h0M2042.2 1886.8h0M1981.8 1923.6h0M2141.9 1961.5h0M2149.5 1922.9h0M2006.0 1945.3h0M1966.8 1968.0h0M2017.5 1900.6h0M2007.2 1892.1h0M2008.5 1895.5h0M2024.1 1922.4h0M1991.3 1939.4h0M1996.9 1927.6h0M2026.8 1883.9h0M1989.5 1908.1h0M2032.3 1902.6h0M2023.1 1892.3h0M1998.1 1942.4h0M2012.4 1944.3h0M2030.0 1904.3h0M2037.3 1901.0h0M2032.0 1957.9h0M2018.2 1912.7h0M1987.5 1959.2h0M1987.0 1916.5h0M2031.8 1894.6h0M1969.0 1936.7h0M2023.8 1913.9h0M1955.5 1928.8h0M2152.4 1909.1h0M1972.4 1962.8h0M1976.2 1933.3h0M2028.7 1908.4h0M2035.0 1951.0h0M1952.4 1954.9h0M1981.9 1933.1h0M2010.5 1934.3h0M2000.8 1949.9h0M2139.7 1952.9h0M2161.5 1953.0h0M1976.9 1963.6h0M1954.4 1941.8h0M1995.0 1912.0h0M2014.4 1913.5h0M2021.1 1925.6h0M1959.9 1953.9h0M2013.1 1958.9h0M2032.4 1900.7h0M1982.7 1909.2h0M1984.5 1871.9h0M2137.9 1872.7h0M2000.2 1928.8h0M2143.8 1891.5h0M2018.7 1914.4h0M2161.4 1882.2h0M2017.9 1910.5h0M1981.4 1952.1h0M2010.4 1926.9h0M1987.0 1884.2h0M2009.1 1937.4h0M1984.0 1940.5h0M1979.1 1906.0h0M2006.3 1919.8h0M2016.9 1909.6h0M2001.2 1933.1h0M2129.8 1871.4h0M2017.7 1905.8h0M2026.8 1896.6h0M2002.6 1892.7h0M1983.3 1912.8h0M2000.6 1905.8h0M2146.2 1895.1h0M2150.3 1904.5h0M2005.7 1934.8h0M1983.3 1924.0h0M2148.9 1917.7h0M2002.5 1917.4h0M2009.4 1960.8h0M2014.5 1913.5h0M2010.7 1936.9h0M2007.8 1905.0h0M2159.1 1920.2h0M1996.3 1949.3h0M2154.0 1956.6h0M2023.1 1910.1h0M2016.6 1939.4h0M2008.6 1912.0h0M1956.4 1967.6h0M2019.4 1938.9h0M1996.6 1958.6h0M2028.4 1894.3h0M1990.6 1924.4h0M1981.7 1948.8h0M1991.3 1938.9h0M2020.6 1934.9h0M2054.5 1867.5h0M2160.0 1869.0h0M2028.6 1916.6h0M1999.4 1958.9h0M2047.6 1884.1h0M1979.4 1905.5h0M2012.2 1926.9h0M2006.2 1912.8h0M2008.4 1930.9h0M1980.7 1924.1h0M1968.1 1966.4h0M1952.3 1924.1h0M2015.7 1907.0h0M1977.3 1934.6h0M2029.3 1950.2h0M1971.2 1930.3h0M1992.0 1936.9h0M1991.6 1944.2h0M1949.2 1950.7h0M1956.6 1957.0h0M1967.7 1938.0h0M2147.4 1919.3h0M2021.9 1921.4h0M2033.9 1892.6h0M2162.4 1904.1h0M1997.0 1946.6h0M1986.1 1929.3h0M2008.4 1928.1h0M2028.3 1875.7h0M1957.3 1959.4h0M2010.5 1933.4h0M2029.8 1900.0h0M2007.9 1921.0h0M1995.1 1958.4h0M1994.4 1913.1h0M2055.4 1882.9h0M1975.1 1939.6h0M2147.9 1898.4h0M1994.8 1915.1h0M1962.4 1944.2h0M2136.8 1877.7h0M2020.6 1917.6h0M2012.3 1943.1h0M1969.0 1912.6h0M1997.3 1902.8h0M1960.6 1960.6h0M2023.8 1924.2h0M1989.8 1922.8h0M1999.5 1917.2h0M2001.4 1916.2h0M2012.1 1915.3h0M2014.2 1938.9h0M1990.6 1926.8h0M2017.7 1901.1h0M2038.9 1895.5h0M2009.1 1935.4h0M1994.6 1927.8h0M2010.0 1937.3h0M2006.1 1926.4h0M1984.9 1965.1h0M2016.7 1952.1h0M2155.1 1932.8h0M2067.2 1867.1h0M2002.4 1924.3h0M2000.5 1875.8h0M2005.0 1955.1h0M1963.9 1941.2h0M1986.3 1880.1h0M1984.7 1944.6h0M2023.5 1918.3h0M2018.8 1930.3h0M2151.1 1893.8h0M2014.5 1938.6h0M2037.0 1898.3h0M1995.5 1948.4h0M2022.9 1872.6h0M2032.4 1890.8h0M2018.9 1927.0h0M2015.1 1951.3h0M2028.8 1906.0h0M1981.5 1945.4h0M2018.0 1903.0h0M1999.6 1934.9h0M2015.0 1943.3h0M2016.0 1906.1h0M1976.8 1951.9h0M1977.7 1924.9h0M1988.3 1908.0h0M2029.8 1917.7h0M2006.5 1907.1h0M2010.6 1920.0h0M2008.7 1917.0h0M2024.9 1950.4h0M2033.2 1909.8h0M1978.3 1967.6h0M1997.9 1924.2h0M2006.8 1915.5h0M2027.3 1913.6h0M2007.2 1905.7h0M2008.9 1898.2h0M1998.5 1938.4h0M2012.9 1902.1h0M1989.7 1969.3h0M2147.5 1873.7h0M2012.5 1934.1h0M2006.7 1913.9h0M2003.8 1950.5h0M2019.3 1940.7h0M2022.1 1917.3h0M2041.9 1886.6h0M2160.4 1916.1h0M2005.1 1928.1h0M2012.7 1929.8h0M2011.5 1916.5h0M1999.6 1916.6h0M1990.5 1960.2h0M2014.6 1900.7h0M2012.0 1932.8h0M2008.0 1930.7h0M1994.3 1964.6h0M1985.8 1940.7h0M2017.5 1887.1h0M2019.6 1898.3h0M2141.2 1965.1h0M1984.0 1955.4h0M2145.4 1904.0h0M1966.1 1922.9h0" stroke="#111" stroke-width="1.7" stroke-linecap="round" fill="none"/>
<rect x="1785.0" y="1697.0" width="381.3" height="381.5" fill="none" stroke="#111" stroke-width="1.5"/>
<path d="M1781.0 2061.9h4M1781.0 2047.4h4M1781.0 2033.0h4M1781.0 2018.5h4M1781.0 1989.7h4M1781.0 1975.2h4M1781.0 1960.8h4M1781.0 1946.3h4M1781.0 1917.5h4M1781.0 1903.0h4M1781.0 1888.6h4M1781.0 1874.1h4M1781.0 1845.3h4M1781.0 1830.8h4M1781.0 1816.4h4M1781.0 1801.9h4M1781.0 1773.1h4M1781.0 1758.6h4M1781.0 1744.2h4M1781.0 1729.7h4M1781.0 1931.9h4M1781.0 1787.5h4M1920.8 2078.5v4.5M1931.2 2078.5v4.5M1938.6 2078.5v4.5M1944.3 2078.5v4.5M1949.0 2078.5v4.5M1953.0 2078.5v4.5M1956.5 2078.5v4.5M1959.5 2078.5v4.5M1980.1 2078.5v4.5M1990.5 2078.5v4.5M1998.0 2078.5v4.5M2003.7 2078.5v4.5M2008.4 2078.5v4.5M2012.4 2078.5v4.5M2015.8 2078.5v4.5M2018.9 2078.5v4.5M2039.5 2078.5v4.5M2049.9 2078.5v4.5M2057.3 2078.5v4.5M2063.0 2078.5v4.5M2067.7 2078.5v4.5M2071.7 2078.5v4.5M2075.2 2078.5v4.5M2078.2 2078.5v4.5M2098.5 2078.5v4.5M2108.7 2078.5v4.5M2116.0 2078.5v4.5M2121.6 2078.5v4.5M2126.3 2078.5v4.5M2130.2 2078.5v4.5M2133.6 2078.5v4.5M2136.5 2078.5v4.5M1871.8 2078.5v4.5M1879.3 2078.5v4.5M1885.0 2078.5v4.5M1889.7 2078.5v4.5M1893.7 2078.5v4.5M1897.1 2078.5v4.5M1900.2 2078.5v4.5M2157.1 2078.5v4.5M1775.5 1714.6h9.5M1775.5 1859.0h9.5M1775.5 2003.0h9.5M1775.5 2076.3h9.5M1832.7 2078.5v9.5M1902.9 2078.5v9.5M1962.2 2078.5v9.5M2021.6 2078.5v9.5M2080.9 2078.5v9.5M2139.2 2078.5v9.5" stroke="#111" stroke-width="1.3" fill="none"/>
<text x="1773.5" y="1726.1" font-size="33" text-anchor="end">250K</text>
<text x="1773.5" y="1870.5" font-size="33" text-anchor="end">150K</text>
<text x="1773.5" y="2014.5" font-size="33" text-anchor="end">50K</text>
<text x="1773.5" y="2084.8" font-size="33" text-anchor="end">0</text>
<text x="1834.8" y="2134.6" font-size="31" text-anchor="middle">0</text>
<text transform="translate(1686.6 1892.9) rotate(-90)" font-size="33" text-anchor="middle">FSC-H</text>
<text x="2021.6" y="2171.7" font-size="32.6" text-anchor="middle">Latex beads-FITC</text>
<text x="1783.5" y="1604.3" font-size="33">150103.fcs</text>
<text x="1783.5" y="1645.0" font-size="33">single cells FSC</text>
<text x="1783.5" y="1685.7" font-size="33">7269</text>
<text x="1880.3" y="2134.6" font-size="31">10</text>
<text x="1914.5" y="2110.0" font-size="22">1</text>
<text x="1993.6" y="2134.6" font-size="31">10</text>
<text x="2027.8" y="2110.0" font-size="22">3</text>
<text x="2111.0" y="2134.6" font-size="31">10</text>
<text x="2145.2" y="2110.0" font-size="22">5</text>
</svg>
</body></html>
